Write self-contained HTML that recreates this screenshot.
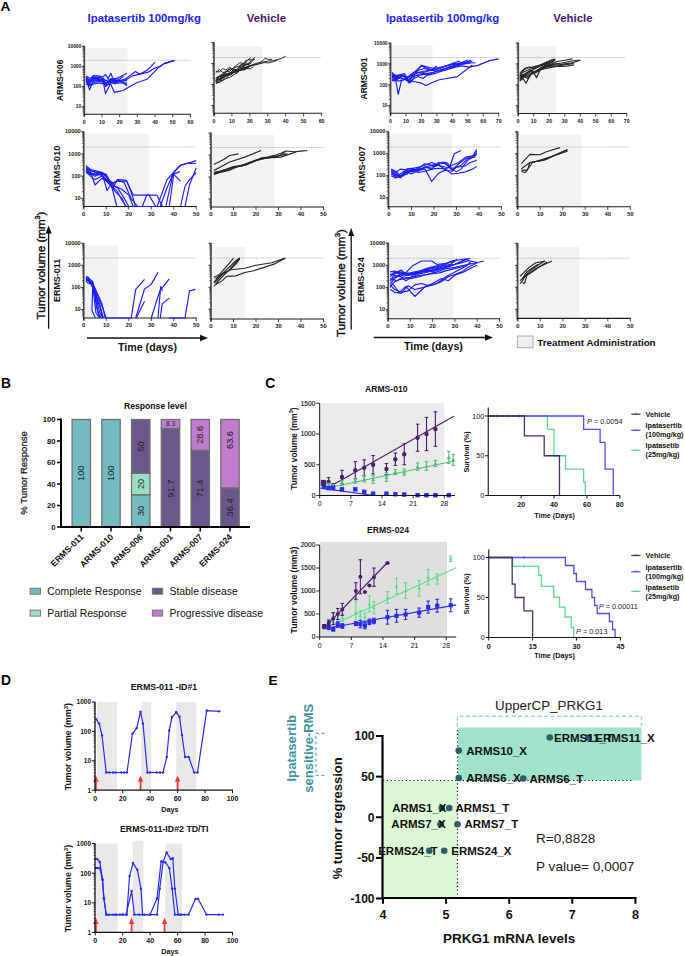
<!DOCTYPE html>
<html><head><meta charset="utf-8"><style>html,body{margin:0;padding:0;background:#fff;overflow:hidden}svg{display:block;font-family:"Liberation Sans",sans-serif}</style></head><body>
<svg width="685" height="956" viewBox="0 0 685 956" font-family="Liberation Sans, sans-serif">
<rect x="85.10" y="48.00" width="42.40" height="65.65" fill="#f2f2f2" />
<line x1="84.30" y1="60.25" x2="190.50" y2="60.25" stroke="#9a9a9a" stroke-width="0.6" stroke-dasharray="1.6,0.9"/>
<line x1="84.30" y1="45.95" x2="84.30" y2="116.45" stroke="#4a4a4a" stroke-width="1.7" />
<line x1="81.70" y1="46.25" x2="84.30" y2="46.25" stroke="#222" stroke-width="0.9" />
<text x="81.30" y="47.95" font-size="4.9" font-weight="bold" text-anchor="end" fill="#222" >10000</text>
<line x1="82.50" y1="60.35" x2="84.30" y2="60.35" stroke="#333" stroke-width="0.7" />
<line x1="82.50" y1="56.80" x2="84.30" y2="56.80" stroke="#333" stroke-width="0.7" />
<line x1="82.50" y1="54.28" x2="84.30" y2="54.28" stroke="#333" stroke-width="0.7" />
<line x1="82.50" y1="52.32" x2="84.30" y2="52.32" stroke="#333" stroke-width="0.7" />
<line x1="82.50" y1="50.72" x2="84.30" y2="50.72" stroke="#333" stroke-width="0.7" />
<line x1="82.50" y1="49.37" x2="84.30" y2="49.37" stroke="#333" stroke-width="0.7" />
<line x1="82.50" y1="48.20" x2="84.30" y2="48.20" stroke="#333" stroke-width="0.7" />
<line x1="82.50" y1="47.17" x2="84.30" y2="47.17" stroke="#333" stroke-width="0.7" />
<line x1="81.70" y1="66.42" x2="84.30" y2="66.42" stroke="#222" stroke-width="0.9" />
<text x="81.30" y="68.12" font-size="4.9" font-weight="bold" text-anchor="end" fill="#222" >1000</text>
<line x1="82.50" y1="80.52" x2="84.30" y2="80.52" stroke="#333" stroke-width="0.7" />
<line x1="82.50" y1="76.97" x2="84.30" y2="76.97" stroke="#333" stroke-width="0.7" />
<line x1="82.50" y1="74.45" x2="84.30" y2="74.45" stroke="#333" stroke-width="0.7" />
<line x1="82.50" y1="72.49" x2="84.30" y2="72.49" stroke="#333" stroke-width="0.7" />
<line x1="82.50" y1="70.89" x2="84.30" y2="70.89" stroke="#333" stroke-width="0.7" />
<line x1="82.50" y1="69.54" x2="84.30" y2="69.54" stroke="#333" stroke-width="0.7" />
<line x1="82.50" y1="68.37" x2="84.30" y2="68.37" stroke="#333" stroke-width="0.7" />
<line x1="82.50" y1="67.34" x2="84.30" y2="67.34" stroke="#333" stroke-width="0.7" />
<line x1="81.70" y1="86.59" x2="84.30" y2="86.59" stroke="#222" stroke-width="0.9" />
<text x="81.30" y="88.29" font-size="4.9" font-weight="bold" text-anchor="end" fill="#222" >100</text>
<line x1="82.50" y1="100.69" x2="84.30" y2="100.69" stroke="#333" stroke-width="0.7" />
<line x1="82.50" y1="97.14" x2="84.30" y2="97.14" stroke="#333" stroke-width="0.7" />
<line x1="82.50" y1="94.62" x2="84.30" y2="94.62" stroke="#333" stroke-width="0.7" />
<line x1="82.50" y1="92.66" x2="84.30" y2="92.66" stroke="#333" stroke-width="0.7" />
<line x1="82.50" y1="91.06" x2="84.30" y2="91.06" stroke="#333" stroke-width="0.7" />
<line x1="82.50" y1="89.71" x2="84.30" y2="89.71" stroke="#333" stroke-width="0.7" />
<line x1="82.50" y1="88.54" x2="84.30" y2="88.54" stroke="#333" stroke-width="0.7" />
<line x1="82.50" y1="87.51" x2="84.30" y2="87.51" stroke="#333" stroke-width="0.7" />
<line x1="81.70" y1="106.76" x2="84.30" y2="106.76" stroke="#222" stroke-width="0.9" />
<text x="81.30" y="108.46" font-size="4.9" font-weight="bold" text-anchor="end" fill="#222" >10</text>
<line x1="82.50" y1="112.83" x2="84.30" y2="112.83" stroke="#333" stroke-width="0.7" />
<line x1="82.50" y1="111.23" x2="84.30" y2="111.23" stroke="#333" stroke-width="0.7" />
<line x1="82.50" y1="109.88" x2="84.30" y2="109.88" stroke="#333" stroke-width="0.7" />
<line x1="82.50" y1="108.71" x2="84.30" y2="108.71" stroke="#333" stroke-width="0.7" />
<line x1="82.50" y1="107.68" x2="84.30" y2="107.68" stroke="#333" stroke-width="0.7" />
<line x1="83.70" y1="114.25" x2="190.85" y2="114.25" stroke="#1a1a1a" stroke-width="1.1" />
<line x1="84.25" y1="114.25" x2="84.25" y2="117.25" stroke="#1a1a1a" stroke-width="0.8" />
<text x="84.25" y="123.65" font-size="5.2" font-weight="bold" text-anchor="middle" fill="#222" >0</text>
<line x1="101.95" y1="114.25" x2="101.95" y2="117.25" stroke="#1a1a1a" stroke-width="0.8" />
<text x="101.95" y="123.65" font-size="5.2" font-weight="bold" text-anchor="middle" fill="#222" >10</text>
<line x1="119.65" y1="114.25" x2="119.65" y2="117.25" stroke="#1a1a1a" stroke-width="0.8" />
<text x="119.65" y="123.65" font-size="5.2" font-weight="bold" text-anchor="middle" fill="#222" >20</text>
<line x1="137.35" y1="114.25" x2="137.35" y2="117.25" stroke="#1a1a1a" stroke-width="0.8" />
<text x="137.35" y="123.65" font-size="5.2" font-weight="bold" text-anchor="middle" fill="#222" >30</text>
<line x1="155.05" y1="114.25" x2="155.05" y2="117.25" stroke="#1a1a1a" stroke-width="0.8" />
<text x="155.05" y="123.65" font-size="5.2" font-weight="bold" text-anchor="middle" fill="#222" >40</text>
<line x1="172.75" y1="114.25" x2="172.75" y2="117.25" stroke="#1a1a1a" stroke-width="0.8" />
<text x="172.75" y="123.65" font-size="5.2" font-weight="bold" text-anchor="middle" fill="#222" >50</text>
<line x1="190.45" y1="114.25" x2="190.45" y2="117.25" stroke="#1a1a1a" stroke-width="0.8" />
<text x="190.45" y="123.65" font-size="5.2" font-weight="bold" text-anchor="middle" fill="#222" >60</text>
<polyline points="86.02,76.97 89.56,80.52 93.10,75.62 98.41,75.87 102.84,76.97 105.49,74.67 108.14,78.56 110.80,73.22 114.34,81.94 119.65,80.97 127.08,84.64" fill="none" stroke="#1c1cfa" stroke-width="1.15" stroke-linejoin="round" />
<polyline points="86.02,78.56 89.56,89.84 93.10,81.44 98.41,80.52 102.84,79.68 105.49,93.58 110.80,83.04 114.34,80.52 119.65,80.09 127.08,85.76" fill="none" stroke="#1c1cfa" stroke-width="1.15" stroke-linejoin="round" />
<polyline points="86.02,81.44 89.56,84.29 93.10,78.56 98.41,78.22 102.84,80.52 105.49,83.04 111.51,81.20 119.65,76.97 127.08,73.22" fill="none" stroke="#1c1cfa" stroke-width="1.15" stroke-linejoin="round" />
<polyline points="86.02,83.83 89.56,85.76 93.10,83.04 98.41,81.44 102.84,81.94 105.49,84.99 110.80,84.29 114.34,92.32 122.84,90.50 136.11,82.92 147.44,78.92 159.65,66.42 164.96,63.35 174.52,60.35" fill="none" stroke="#1c1cfa" stroke-width="1.15" stroke-linejoin="round" />
<polyline points="86.02,79.68 89.56,82.47 93.10,80.52 98.41,79.29 102.84,80.09 105.49,86.59 110.80,81.94 114.34,81.44 119.65,80.52 124.78,79.41 135.58,71.50 139.65,74.23 147.44,70.06 155.05,62.19" fill="none" stroke="#1c1cfa" stroke-width="1.15" stroke-linejoin="round" />
<polyline points="86.02,77.57 89.56,81.44 93.10,76.97 98.41,77.57 102.84,78.56 105.49,83.64 110.80,80.52 114.34,82.47 119.65,81.94 124.78,80.52 132.57,75.87 147.44,72.40 155.05,68.05 160.36,66.42 163.90,63.66 174.52,60.35" fill="none" stroke="#1c1cfa" stroke-width="1.15" stroke-linejoin="round" />
<polyline points="86.02,82.47 89.56,84.99 93.10,84.29 98.41,83.04 102.84,83.64 105.49,80.52 110.80,82.47 114.34,83.64 119.65,83.04 127.08,83.04" fill="none" stroke="#1c1cfa" stroke-width="1.15" stroke-linejoin="round" />
<polyline points="86.02,80.52 89.56,83.04 93.10,79.68 98.41,80.52 102.84,81.44 105.49,85.76 110.80,78.56 114.34,80.52 119.65,81.44 127.08,80.52" fill="none" stroke="#1c1cfa" stroke-width="1.15" stroke-linejoin="round" />
<polyline points="86.02,75.87 89.56,78.22 93.10,77.57 98.41,76.97 102.84,78.22 105.49,80.52 110.80,79.68 114.34,78.56 119.65,79.29 123.19,76.13" fill="none" stroke="#1c1cfa" stroke-width="1.15" stroke-linejoin="round" />
<rect x="214.80" y="46.25" width="47.45" height="66.40" fill="#f2f2f2" />
<line x1="214.00" y1="57.50" x2="321.50" y2="57.50" stroke="#9a9a9a" stroke-width="0.6" stroke-dasharray="1.6,0.9"/>
<line x1="214.00" y1="42.20" x2="214.00" y2="115.45" stroke="#4a4a4a" stroke-width="1.7" />
<line x1="211.40" y1="42.50" x2="214.00" y2="42.50" stroke="#222" stroke-width="0.9" />
<line x1="212.20" y1="57.18" x2="214.00" y2="57.18" stroke="#333" stroke-width="0.7" />
<line x1="212.20" y1="53.48" x2="214.00" y2="53.48" stroke="#333" stroke-width="0.7" />
<line x1="212.20" y1="50.86" x2="214.00" y2="50.86" stroke="#333" stroke-width="0.7" />
<line x1="212.20" y1="48.82" x2="214.00" y2="48.82" stroke="#333" stroke-width="0.7" />
<line x1="212.20" y1="47.16" x2="214.00" y2="47.16" stroke="#333" stroke-width="0.7" />
<line x1="212.20" y1="45.75" x2="214.00" y2="45.75" stroke="#333" stroke-width="0.7" />
<line x1="212.20" y1="44.54" x2="214.00" y2="44.54" stroke="#333" stroke-width="0.7" />
<line x1="212.20" y1="43.46" x2="214.00" y2="43.46" stroke="#333" stroke-width="0.7" />
<line x1="211.40" y1="63.50" x2="214.00" y2="63.50" stroke="#222" stroke-width="0.9" />
<line x1="212.20" y1="78.18" x2="214.00" y2="78.18" stroke="#333" stroke-width="0.7" />
<line x1="212.20" y1="74.48" x2="214.00" y2="74.48" stroke="#333" stroke-width="0.7" />
<line x1="212.20" y1="71.86" x2="214.00" y2="71.86" stroke="#333" stroke-width="0.7" />
<line x1="212.20" y1="69.82" x2="214.00" y2="69.82" stroke="#333" stroke-width="0.7" />
<line x1="212.20" y1="68.16" x2="214.00" y2="68.16" stroke="#333" stroke-width="0.7" />
<line x1="212.20" y1="66.75" x2="214.00" y2="66.75" stroke="#333" stroke-width="0.7" />
<line x1="212.20" y1="65.54" x2="214.00" y2="65.54" stroke="#333" stroke-width="0.7" />
<line x1="212.20" y1="64.46" x2="214.00" y2="64.46" stroke="#333" stroke-width="0.7" />
<line x1="211.40" y1="84.50" x2="214.00" y2="84.50" stroke="#222" stroke-width="0.9" />
<line x1="212.20" y1="99.18" x2="214.00" y2="99.18" stroke="#333" stroke-width="0.7" />
<line x1="212.20" y1="95.48" x2="214.00" y2="95.48" stroke="#333" stroke-width="0.7" />
<line x1="212.20" y1="92.86" x2="214.00" y2="92.86" stroke="#333" stroke-width="0.7" />
<line x1="212.20" y1="90.82" x2="214.00" y2="90.82" stroke="#333" stroke-width="0.7" />
<line x1="212.20" y1="89.16" x2="214.00" y2="89.16" stroke="#333" stroke-width="0.7" />
<line x1="212.20" y1="87.75" x2="214.00" y2="87.75" stroke="#333" stroke-width="0.7" />
<line x1="212.20" y1="86.54" x2="214.00" y2="86.54" stroke="#333" stroke-width="0.7" />
<line x1="212.20" y1="85.46" x2="214.00" y2="85.46" stroke="#333" stroke-width="0.7" />
<line x1="211.40" y1="105.50" x2="214.00" y2="105.50" stroke="#222" stroke-width="0.9" />
<line x1="212.20" y1="111.82" x2="214.00" y2="111.82" stroke="#333" stroke-width="0.7" />
<line x1="212.20" y1="110.16" x2="214.00" y2="110.16" stroke="#333" stroke-width="0.7" />
<line x1="212.20" y1="108.75" x2="214.00" y2="108.75" stroke="#333" stroke-width="0.7" />
<line x1="212.20" y1="107.54" x2="214.00" y2="107.54" stroke="#333" stroke-width="0.7" />
<line x1="212.20" y1="106.46" x2="214.00" y2="106.46" stroke="#333" stroke-width="0.7" />
<line x1="213.40" y1="113.25" x2="321.92" y2="113.25" stroke="#1a1a1a" stroke-width="1.1" />
<line x1="214.00" y1="113.25" x2="214.00" y2="116.25" stroke="#1a1a1a" stroke-width="0.8" />
<text x="214.00" y="122.65" font-size="5.2" font-weight="bold" text-anchor="middle" fill="#222" >0</text>
<line x1="231.92" y1="113.25" x2="231.92" y2="116.25" stroke="#1a1a1a" stroke-width="0.8" />
<text x="231.92" y="122.65" font-size="5.2" font-weight="bold" text-anchor="middle" fill="#222" >10</text>
<line x1="249.84" y1="113.25" x2="249.84" y2="116.25" stroke="#1a1a1a" stroke-width="0.8" />
<text x="249.84" y="122.65" font-size="5.2" font-weight="bold" text-anchor="middle" fill="#222" >20</text>
<line x1="267.76" y1="113.25" x2="267.76" y2="116.25" stroke="#1a1a1a" stroke-width="0.8" />
<text x="267.76" y="122.65" font-size="5.2" font-weight="bold" text-anchor="middle" fill="#222" >30</text>
<line x1="285.68" y1="113.25" x2="285.68" y2="116.25" stroke="#1a1a1a" stroke-width="0.8" />
<text x="285.68" y="122.65" font-size="5.2" font-weight="bold" text-anchor="middle" fill="#222" >40</text>
<line x1="303.60" y1="113.25" x2="303.60" y2="116.25" stroke="#1a1a1a" stroke-width="0.8" />
<text x="303.60" y="122.65" font-size="5.2" font-weight="bold" text-anchor="middle" fill="#222" >50</text>
<line x1="321.52" y1="113.25" x2="321.52" y2="116.25" stroke="#1a1a1a" stroke-width="0.8" />
<text x="321.52" y="122.65" font-size="5.2" font-weight="bold" text-anchor="middle" fill="#222" >60</text>
<polyline points="215.79,77.89 219.26,76.05 222.73,73.86 226.20,71.49 229.67,71.35 233.14,67.85 236.61,65.30 240.08,62.55 243.54,63.79 247.01,60.82 250.48,57.92" fill="none" stroke="#262626" stroke-width="1.0" stroke-linejoin="round" />
<polyline points="215.79,82.67 219.53,82.53 223.27,75.93 227.01,73.75 230.74,72.93 234.48,70.85 238.22,70.71 241.96,69.11 245.69,64.48 249.43,64.39 253.17,60.10" fill="none" stroke="#262626" stroke-width="1.0" stroke-linejoin="round" />
<polyline points="215.79,81.35 219.27,79.85 222.74,78.30 226.22,74.78 229.69,74.60 233.17,72.38 236.64,71.36 240.12,68.95 243.59,68.23 247.07,66.37" fill="none" stroke="#262626" stroke-width="1.0" stroke-linejoin="round" />
<polyline points="215.79,80.19 219.37,76.53 222.96,75.06 226.54,74.78 230.12,73.09 233.70,70.73 237.28,69.66 240.86,64.36 244.45,63.96 248.03,59.81 251.61,59.85 255.19,57.24" fill="none" stroke="#262626" stroke-width="1.0" stroke-linejoin="round" />
<polyline points="215.79,71.20 219.23,72.12 222.66,68.47 226.10,70.09 229.53,67.32 232.97,69.60 236.40,70.69 239.84,67.70 243.27,66.60 246.70,68.54 250.14,68.97 253.57,66.64" fill="none" stroke="#262626" stroke-width="1.0" stroke-linejoin="round" />
<polyline points="215.79,79.47 219.34,79.42 222.89,77.01 226.44,75.86 229.99,74.24 233.54,69.01 237.09,70.06 240.63,66.48 244.18,65.18 247.73,64.55 251.28,60.23 254.83,59.49" fill="none" stroke="#262626" stroke-width="1.0" stroke-linejoin="round" />
<polyline points="215.79,82.14 219.35,80.84 222.91,80.15 226.47,78.22 230.03,73.33 233.59,72.44 237.15,73.09 240.71,68.75 244.27,70.20 247.83,67.70 251.39,65.55" fill="none" stroke="#262626" stroke-width="1.0" stroke-linejoin="round" />
<polyline points="215.79,72.57 219.35,69.62 222.91,72.52 226.46,71.62 230.02,68.56 233.58,69.92 237.14,69.39 240.69,69.73 244.25,68.97 247.81,66.01 251.37,65.70" fill="none" stroke="#262626" stroke-width="1.0" stroke-linejoin="round" />
<polyline points="215.79,80.65 219.31,79.12 222.82,75.03 226.33,75.47 229.85,73.30 233.36,70.20 236.87,71.61 240.39,69.99 243.90,64.75 247.42,63.42 250.93,63.14" fill="none" stroke="#262626" stroke-width="1.0" stroke-linejoin="round" />
<polyline points="215.79,80.57 219.20,76.21 222.62,77.32 226.03,71.52 229.44,69.51 232.85,68.48 236.27,66.99 239.68,66.14 243.09,64.12 246.50,59.66" fill="none" stroke="#262626" stroke-width="1.0" stroke-linejoin="round" />
<polyline points="215.79,80.80 219.58,78.02 223.36,78.23 227.14,75.43 230.92,74.95 234.71,71.90 238.49,70.86 242.27,70.00 246.06,68.68 249.84,66.25 253.42,64.35 257.01,64.65 260.59,62.23 265.25,58.40 268.75,59.49 272.24,59.21" fill="none" stroke="#262626" stroke-width="1.0" stroke-linejoin="round" />
<polyline points="215.79,78.18 220.05,76.45 224.30,74.13 228.56,73.15 232.82,72.41 237.07,69.22 241.33,69.44 245.58,68.33 249.84,65.54 254.62,65.15 259.40,63.74 264.18,62.63 268.66,62.90 273.14,61.77 277.62,60.11" fill="none" stroke="#262626" stroke-width="1.0" stroke-linejoin="round" />
<polyline points="215.79,83.63 220.50,81.57 225.20,78.66 229.90,77.37 234.61,74.39 239.31,70.66 244.02,68.04 248.72,66.46 253.42,64.46 258.20,62.86 262.98,62.01 267.76,61.11 272.24,60.76 276.72,59.78 281.20,58.57 285.68,56.10" fill="none" stroke="#262626" stroke-width="1.0" stroke-linejoin="round" />
<rect x="84.55" y="133.75" width="64.20" height="72.15" fill="#f2f2f2" />
<line x1="83.75" y1="147.00" x2="196.25" y2="147.00" stroke="#9a9a9a" stroke-width="0.6" stroke-dasharray="1.6,0.9"/>
<line x1="83.75" y1="131.45" x2="83.75" y2="208.70" stroke="#4a4a4a" stroke-width="1.7" />
<line x1="81.15" y1="131.75" x2="83.75" y2="131.75" stroke="#222" stroke-width="0.9" />
<text x="80.75" y="133.45" font-size="5.7" font-weight="bold" text-anchor="end" fill="#222" >10000</text>
<line x1="81.95" y1="147.27" x2="83.75" y2="147.27" stroke="#333" stroke-width="0.7" />
<line x1="81.95" y1="143.36" x2="83.75" y2="143.36" stroke="#333" stroke-width="0.7" />
<line x1="81.95" y1="140.58" x2="83.75" y2="140.58" stroke="#333" stroke-width="0.7" />
<line x1="81.95" y1="138.43" x2="83.75" y2="138.43" stroke="#333" stroke-width="0.7" />
<line x1="81.95" y1="136.68" x2="83.75" y2="136.68" stroke="#333" stroke-width="0.7" />
<line x1="81.95" y1="135.19" x2="83.75" y2="135.19" stroke="#333" stroke-width="0.7" />
<line x1="81.95" y1="133.90" x2="83.75" y2="133.90" stroke="#333" stroke-width="0.7" />
<line x1="81.95" y1="132.77" x2="83.75" y2="132.77" stroke="#333" stroke-width="0.7" />
<line x1="81.15" y1="153.95" x2="83.75" y2="153.95" stroke="#222" stroke-width="0.9" />
<text x="80.75" y="155.65" font-size="5.7" font-weight="bold" text-anchor="end" fill="#222" >1000</text>
<line x1="81.95" y1="169.47" x2="83.75" y2="169.47" stroke="#333" stroke-width="0.7" />
<line x1="81.95" y1="165.56" x2="83.75" y2="165.56" stroke="#333" stroke-width="0.7" />
<line x1="81.95" y1="162.78" x2="83.75" y2="162.78" stroke="#333" stroke-width="0.7" />
<line x1="81.95" y1="160.63" x2="83.75" y2="160.63" stroke="#333" stroke-width="0.7" />
<line x1="81.95" y1="158.88" x2="83.75" y2="158.88" stroke="#333" stroke-width="0.7" />
<line x1="81.95" y1="157.39" x2="83.75" y2="157.39" stroke="#333" stroke-width="0.7" />
<line x1="81.95" y1="156.10" x2="83.75" y2="156.10" stroke="#333" stroke-width="0.7" />
<line x1="81.95" y1="154.97" x2="83.75" y2="154.97" stroke="#333" stroke-width="0.7" />
<line x1="81.15" y1="176.15" x2="83.75" y2="176.15" stroke="#222" stroke-width="0.9" />
<text x="80.75" y="177.85" font-size="5.7" font-weight="bold" text-anchor="end" fill="#222" >100</text>
<line x1="81.95" y1="191.67" x2="83.75" y2="191.67" stroke="#333" stroke-width="0.7" />
<line x1="81.95" y1="187.76" x2="83.75" y2="187.76" stroke="#333" stroke-width="0.7" />
<line x1="81.95" y1="184.98" x2="83.75" y2="184.98" stroke="#333" stroke-width="0.7" />
<line x1="81.95" y1="182.83" x2="83.75" y2="182.83" stroke="#333" stroke-width="0.7" />
<line x1="81.95" y1="181.08" x2="83.75" y2="181.08" stroke="#333" stroke-width="0.7" />
<line x1="81.95" y1="179.59" x2="83.75" y2="179.59" stroke="#333" stroke-width="0.7" />
<line x1="81.95" y1="178.30" x2="83.75" y2="178.30" stroke="#333" stroke-width="0.7" />
<line x1="81.95" y1="177.17" x2="83.75" y2="177.17" stroke="#333" stroke-width="0.7" />
<line x1="81.15" y1="198.35" x2="83.75" y2="198.35" stroke="#222" stroke-width="0.9" />
<text x="80.75" y="200.05" font-size="5.7" font-weight="bold" text-anchor="end" fill="#222" >10</text>
<line x1="81.95" y1="205.03" x2="83.75" y2="205.03" stroke="#333" stroke-width="0.7" />
<line x1="81.95" y1="203.28" x2="83.75" y2="203.28" stroke="#333" stroke-width="0.7" />
<line x1="81.95" y1="201.79" x2="83.75" y2="201.79" stroke="#333" stroke-width="0.7" />
<line x1="81.95" y1="200.50" x2="83.75" y2="200.50" stroke="#333" stroke-width="0.7" />
<line x1="81.95" y1="199.37" x2="83.75" y2="199.37" stroke="#333" stroke-width="0.7" />
<line x1="83.15" y1="206.50" x2="196.65" y2="206.50" stroke="#1a1a1a" stroke-width="1.1" />
<line x1="83.75" y1="206.50" x2="83.75" y2="209.50" stroke="#1a1a1a" stroke-width="0.8" />
<text x="83.75" y="215.90" font-size="5.9" font-weight="bold" text-anchor="middle" fill="#222" >0</text>
<line x1="106.25" y1="206.50" x2="106.25" y2="209.50" stroke="#1a1a1a" stroke-width="0.8" />
<text x="106.25" y="215.90" font-size="5.9" font-weight="bold" text-anchor="middle" fill="#222" >10</text>
<line x1="128.75" y1="206.50" x2="128.75" y2="209.50" stroke="#1a1a1a" stroke-width="0.8" />
<text x="128.75" y="215.90" font-size="5.9" font-weight="bold" text-anchor="middle" fill="#222" >20</text>
<line x1="151.25" y1="206.50" x2="151.25" y2="209.50" stroke="#1a1a1a" stroke-width="0.8" />
<text x="151.25" y="215.90" font-size="5.9" font-weight="bold" text-anchor="middle" fill="#222" >30</text>
<line x1="173.75" y1="206.50" x2="173.75" y2="209.50" stroke="#1a1a1a" stroke-width="0.8" />
<text x="173.75" y="215.90" font-size="5.9" font-weight="bold" text-anchor="middle" fill="#222" >40</text>
<line x1="196.25" y1="206.50" x2="196.25" y2="209.50" stroke="#1a1a1a" stroke-width="0.8" />
<text x="196.25" y="215.90" font-size="5.9" font-weight="bold" text-anchor="middle" fill="#222" >50</text>
<polyline points="86.00,165.56 90.50,169.47 95.00,170.48 101.75,172.24 106.25,176.15 110.75,184.98 117.50,191.67 122.00,200.50 126.50,206.50" fill="none" stroke="#1c1cfa" stroke-width="1.15" stroke-linejoin="round" />
<polyline points="86.00,167.32 90.50,170.48 95.00,171.62 101.75,172.91 106.25,174.39 110.75,182.83 116.82,206.50" fill="none" stroke="#1c1cfa" stroke-width="1.15" stroke-linejoin="round" />
<polyline points="86.00,169.47 90.50,172.24 95.00,184.98 101.75,178.30 106.25,181.08 113.00,187.76 117.50,179.59 126.50,180.30 131.00,191.67 135.50,206.50" fill="none" stroke="#1c1cfa" stroke-width="1.15" stroke-linejoin="round" />
<polyline points="86.00,170.48 90.50,173.62 95.00,176.15 101.75,172.57 107.15,190.32 110.75,184.98 117.50,187.76 124.25,198.35 128.75,206.50" fill="none" stroke="#1c1cfa" stroke-width="1.15" stroke-linejoin="round" />
<polyline points="86.00,172.24 90.50,174.39 97.25,173.62 101.75,174.39 106.25,179.59 113.00,182.83 117.50,181.08 126.50,181.08 133.25,195.11 149.00,195.11 155.75,206.50" fill="none" stroke="#1c1cfa" stroke-width="1.15" stroke-linejoin="round" />
<polyline points="86.00,172.57 90.50,172.91 95.00,174.39 101.75,175.23 108.50,182.83 115.25,191.67 122.00,198.35 125.60,206.50" fill="none" stroke="#1c1cfa" stroke-width="1.15" stroke-linejoin="round" />
<polyline points="86.00,168.55 90.50,171.03 95.00,172.24 101.75,172.91 106.25,177.17 113.00,183.85 117.50,180.30 124.25,182.83 131.00,198.35 137.75,206.50" fill="none" stroke="#1c1cfa" stroke-width="1.15" stroke-linejoin="round" />
<polyline points="86.00,171.62 90.50,176.15 95.00,179.59 101.75,176.15 108.50,181.08 115.25,186.27 122.00,189.52 128.75,195.11 133.25,206.50 142.25,206.50 146.75,195.11 156.88,195.11 162.50,206.50" fill="none" stroke="#1c1cfa" stroke-width="1.15" stroke-linejoin="round" />
<polyline points="137.75,206.50 151.25,206.50 157.10,206.50 167.00,179.59 173.75,172.24 180.50,165.56 196.25,160.63" fill="none" stroke="#1c1cfa" stroke-width="1.15" stroke-linejoin="round" />
<polyline points="160.25,206.50 167.00,187.76 173.75,172.24 180.50,164.94 187.25,163.28 196.25,163.54" fill="none" stroke="#1c1cfa" stroke-width="1.15" stroke-linejoin="round" />
<polyline points="165.88,206.50 172.85,174.39 179.82,171.62" fill="none" stroke="#1c1cfa" stroke-width="1.15" stroke-linejoin="round" />
<polyline points="169.25,206.50 173.75,174.39 180.50,181.08" fill="none" stroke="#1c1cfa" stroke-width="1.15" stroke-linejoin="round" />
<polyline points="180.50,206.50 185.00,186.27 189.50,179.59 196.25,172.57" fill="none" stroke="#1c1cfa" stroke-width="1.15" stroke-linejoin="round" />
<polyline points="185.00,206.50 189.50,184.98 196.25,167.71" fill="none" stroke="#1c1cfa" stroke-width="1.15" stroke-linejoin="round" />
<rect x="211.80" y="135.00" width="62.95" height="71.40" fill="#f2f2f2" />
<line x1="211.00" y1="147.50" x2="323.50" y2="147.50" stroke="#9a9a9a" stroke-width="0.6" stroke-dasharray="1.6,0.9"/>
<line x1="211.00" y1="132.70" x2="211.00" y2="209.20" stroke="#4a4a4a" stroke-width="1.7" />
<line x1="208.40" y1="133.00" x2="211.00" y2="133.00" stroke="#222" stroke-width="0.9" />
<line x1="209.20" y1="148.38" x2="211.00" y2="148.38" stroke="#333" stroke-width="0.7" />
<line x1="209.20" y1="144.50" x2="211.00" y2="144.50" stroke="#333" stroke-width="0.7" />
<line x1="209.20" y1="141.75" x2="211.00" y2="141.75" stroke="#333" stroke-width="0.7" />
<line x1="209.20" y1="139.62" x2="211.00" y2="139.62" stroke="#333" stroke-width="0.7" />
<line x1="209.20" y1="137.88" x2="211.00" y2="137.88" stroke="#333" stroke-width="0.7" />
<line x1="209.20" y1="136.41" x2="211.00" y2="136.41" stroke="#333" stroke-width="0.7" />
<line x1="209.20" y1="135.13" x2="211.00" y2="135.13" stroke="#333" stroke-width="0.7" />
<line x1="209.20" y1="134.01" x2="211.00" y2="134.01" stroke="#333" stroke-width="0.7" />
<line x1="208.40" y1="155.00" x2="211.00" y2="155.00" stroke="#222" stroke-width="0.9" />
<line x1="209.20" y1="170.38" x2="211.00" y2="170.38" stroke="#333" stroke-width="0.7" />
<line x1="209.20" y1="166.50" x2="211.00" y2="166.50" stroke="#333" stroke-width="0.7" />
<line x1="209.20" y1="163.75" x2="211.00" y2="163.75" stroke="#333" stroke-width="0.7" />
<line x1="209.20" y1="161.62" x2="211.00" y2="161.62" stroke="#333" stroke-width="0.7" />
<line x1="209.20" y1="159.88" x2="211.00" y2="159.88" stroke="#333" stroke-width="0.7" />
<line x1="209.20" y1="158.41" x2="211.00" y2="158.41" stroke="#333" stroke-width="0.7" />
<line x1="209.20" y1="157.13" x2="211.00" y2="157.13" stroke="#333" stroke-width="0.7" />
<line x1="209.20" y1="156.01" x2="211.00" y2="156.01" stroke="#333" stroke-width="0.7" />
<line x1="208.40" y1="177.00" x2="211.00" y2="177.00" stroke="#222" stroke-width="0.9" />
<line x1="209.20" y1="192.38" x2="211.00" y2="192.38" stroke="#333" stroke-width="0.7" />
<line x1="209.20" y1="188.50" x2="211.00" y2="188.50" stroke="#333" stroke-width="0.7" />
<line x1="209.20" y1="185.75" x2="211.00" y2="185.75" stroke="#333" stroke-width="0.7" />
<line x1="209.20" y1="183.62" x2="211.00" y2="183.62" stroke="#333" stroke-width="0.7" />
<line x1="209.20" y1="181.88" x2="211.00" y2="181.88" stroke="#333" stroke-width="0.7" />
<line x1="209.20" y1="180.41" x2="211.00" y2="180.41" stroke="#333" stroke-width="0.7" />
<line x1="209.20" y1="179.13" x2="211.00" y2="179.13" stroke="#333" stroke-width="0.7" />
<line x1="209.20" y1="178.01" x2="211.00" y2="178.01" stroke="#333" stroke-width="0.7" />
<line x1="208.40" y1="199.00" x2="211.00" y2="199.00" stroke="#222" stroke-width="0.9" />
<line x1="209.20" y1="205.62" x2="211.00" y2="205.62" stroke="#333" stroke-width="0.7" />
<line x1="209.20" y1="203.88" x2="211.00" y2="203.88" stroke="#333" stroke-width="0.7" />
<line x1="209.20" y1="202.41" x2="211.00" y2="202.41" stroke="#333" stroke-width="0.7" />
<line x1="209.20" y1="201.13" x2="211.00" y2="201.13" stroke="#333" stroke-width="0.7" />
<line x1="209.20" y1="200.01" x2="211.00" y2="200.01" stroke="#333" stroke-width="0.7" />
<line x1="210.40" y1="207.00" x2="323.90" y2="207.00" stroke="#1a1a1a" stroke-width="1.1" />
<line x1="211.00" y1="207.00" x2="211.00" y2="210.00" stroke="#1a1a1a" stroke-width="0.8" />
<text x="211.00" y="216.40" font-size="5.9" font-weight="bold" text-anchor="middle" fill="#222" >0</text>
<line x1="233.50" y1="207.00" x2="233.50" y2="210.00" stroke="#1a1a1a" stroke-width="0.8" />
<text x="233.50" y="216.40" font-size="5.9" font-weight="bold" text-anchor="middle" fill="#222" >10</text>
<line x1="256.00" y1="207.00" x2="256.00" y2="210.00" stroke="#1a1a1a" stroke-width="0.8" />
<text x="256.00" y="216.40" font-size="5.9" font-weight="bold" text-anchor="middle" fill="#222" >20</text>
<line x1="278.50" y1="207.00" x2="278.50" y2="210.00" stroke="#1a1a1a" stroke-width="0.8" />
<text x="278.50" y="216.40" font-size="5.9" font-weight="bold" text-anchor="middle" fill="#222" >30</text>
<line x1="301.00" y1="207.00" x2="301.00" y2="210.00" stroke="#1a1a1a" stroke-width="0.8" />
<text x="301.00" y="216.40" font-size="5.9" font-weight="bold" text-anchor="middle" fill="#222" >40</text>
<line x1="323.50" y1="207.00" x2="323.50" y2="210.00" stroke="#1a1a1a" stroke-width="0.8" />
<text x="323.50" y="216.40" font-size="5.9" font-weight="bold" text-anchor="middle" fill="#222" >50</text>
<polyline points="213.93,164.42 223.60,159.48 229.68,155.49 238.45,153.92" fill="none" stroke="#262626" stroke-width="1.15" stroke-linejoin="round" />
<polyline points="213.93,170.52 229.68,162.01 244.75,157.13 260.95,150.51" fill="none" stroke="#262626" stroke-width="1.15" stroke-linejoin="round" />
<polyline points="213.93,173.00 222.25,170.87 231.25,167.87 238.00,166.50 246.10,165.03 253.75,161.62 260.95,158.01 267.25,157.13 276.02,155.00 280.75,153.26 285.93,151.00 294.25,151.79 301.00,151.13 307.30,150.51" fill="none" stroke="#262626" stroke-width="1.15" stroke-linejoin="round" />
<polyline points="213.93,173.79 220.00,171.93 226.75,169.91 233.50,167.16 242.50,165.89 249.25,162.63 258.25,159.88 265.00,158.41 271.75,157.13 278.50,156.01 285.25,152.49" fill="none" stroke="#262626" stroke-width="1.15" stroke-linejoin="round" />
<polyline points="213.93,172.22 220.00,171.38 226.75,169.04 233.50,166.50 240.25,165.59 247.00,163.75 253.75,160.71 262.75,158.41 271.75,157.75 280.75,157.13 289.75,154.09 296.50,151.79" fill="none" stroke="#262626" stroke-width="1.15" stroke-linejoin="round" />
<polyline points="213.93,174.49 220.00,172.51 229.00,170.38 235.75,167.51 244.75,164.24 253.75,161.25 262.75,158.68 271.75,156.90 280.75,155.49 287.50,153.66" fill="none" stroke="#262626" stroke-width="1.15" stroke-linejoin="round" />
<rect x="84.55" y="245.50" width="33.45" height="71.90" fill="#f2f2f2" />
<line x1="83.75" y1="258.00" x2="196.25" y2="258.00" stroke="#9a9a9a" stroke-width="0.6" stroke-dasharray="1.6,0.9"/>
<line x1="83.75" y1="242.95" x2="83.75" y2="320.20" stroke="#4a4a4a" stroke-width="1.7" />
<line x1="81.15" y1="243.25" x2="83.75" y2="243.25" stroke="#222" stroke-width="0.9" />
<text x="80.75" y="244.95" font-size="5.7" font-weight="bold" text-anchor="end" fill="#222" >10000</text>
<line x1="81.95" y1="258.70" x2="83.75" y2="258.70" stroke="#333" stroke-width="0.7" />
<line x1="81.95" y1="254.81" x2="83.75" y2="254.81" stroke="#333" stroke-width="0.7" />
<line x1="81.95" y1="252.04" x2="83.75" y2="252.04" stroke="#333" stroke-width="0.7" />
<line x1="81.95" y1="249.90" x2="83.75" y2="249.90" stroke="#333" stroke-width="0.7" />
<line x1="81.95" y1="248.15" x2="83.75" y2="248.15" stroke="#333" stroke-width="0.7" />
<line x1="81.95" y1="246.67" x2="83.75" y2="246.67" stroke="#333" stroke-width="0.7" />
<line x1="81.95" y1="245.39" x2="83.75" y2="245.39" stroke="#333" stroke-width="0.7" />
<line x1="81.95" y1="244.26" x2="83.75" y2="244.26" stroke="#333" stroke-width="0.7" />
<line x1="81.15" y1="265.35" x2="83.75" y2="265.35" stroke="#222" stroke-width="0.9" />
<text x="80.75" y="267.05" font-size="5.7" font-weight="bold" text-anchor="end" fill="#222" >1000</text>
<line x1="81.95" y1="280.80" x2="83.75" y2="280.80" stroke="#333" stroke-width="0.7" />
<line x1="81.95" y1="276.91" x2="83.75" y2="276.91" stroke="#333" stroke-width="0.7" />
<line x1="81.95" y1="274.14" x2="83.75" y2="274.14" stroke="#333" stroke-width="0.7" />
<line x1="81.95" y1="272.00" x2="83.75" y2="272.00" stroke="#333" stroke-width="0.7" />
<line x1="81.95" y1="270.25" x2="83.75" y2="270.25" stroke="#333" stroke-width="0.7" />
<line x1="81.95" y1="268.77" x2="83.75" y2="268.77" stroke="#333" stroke-width="0.7" />
<line x1="81.95" y1="267.49" x2="83.75" y2="267.49" stroke="#333" stroke-width="0.7" />
<line x1="81.95" y1="266.36" x2="83.75" y2="266.36" stroke="#333" stroke-width="0.7" />
<line x1="81.15" y1="287.45" x2="83.75" y2="287.45" stroke="#222" stroke-width="0.9" />
<text x="80.75" y="289.15" font-size="5.7" font-weight="bold" text-anchor="end" fill="#222" >100</text>
<line x1="81.95" y1="302.90" x2="83.75" y2="302.90" stroke="#333" stroke-width="0.7" />
<line x1="81.95" y1="299.01" x2="83.75" y2="299.01" stroke="#333" stroke-width="0.7" />
<line x1="81.95" y1="296.24" x2="83.75" y2="296.24" stroke="#333" stroke-width="0.7" />
<line x1="81.95" y1="294.10" x2="83.75" y2="294.10" stroke="#333" stroke-width="0.7" />
<line x1="81.95" y1="292.35" x2="83.75" y2="292.35" stroke="#333" stroke-width="0.7" />
<line x1="81.95" y1="290.87" x2="83.75" y2="290.87" stroke="#333" stroke-width="0.7" />
<line x1="81.95" y1="289.59" x2="83.75" y2="289.59" stroke="#333" stroke-width="0.7" />
<line x1="81.95" y1="288.46" x2="83.75" y2="288.46" stroke="#333" stroke-width="0.7" />
<line x1="81.15" y1="309.55" x2="83.75" y2="309.55" stroke="#222" stroke-width="0.9" />
<text x="80.75" y="311.25" font-size="5.7" font-weight="bold" text-anchor="end" fill="#222" >10</text>
<line x1="81.95" y1="316.20" x2="83.75" y2="316.20" stroke="#333" stroke-width="0.7" />
<line x1="81.95" y1="314.45" x2="83.75" y2="314.45" stroke="#333" stroke-width="0.7" />
<line x1="81.95" y1="312.97" x2="83.75" y2="312.97" stroke="#333" stroke-width="0.7" />
<line x1="81.95" y1="311.69" x2="83.75" y2="311.69" stroke="#333" stroke-width="0.7" />
<line x1="81.95" y1="310.56" x2="83.75" y2="310.56" stroke="#333" stroke-width="0.7" />
<line x1="83.15" y1="318.00" x2="196.65" y2="318.00" stroke="#1a1a1a" stroke-width="1.1" />
<line x1="83.75" y1="318.00" x2="83.75" y2="321.00" stroke="#1a1a1a" stroke-width="0.8" />
<text x="83.75" y="327.40" font-size="5.9" font-weight="bold" text-anchor="middle" fill="#222" >0</text>
<line x1="106.25" y1="318.00" x2="106.25" y2="321.00" stroke="#1a1a1a" stroke-width="0.8" />
<text x="106.25" y="327.40" font-size="5.9" font-weight="bold" text-anchor="middle" fill="#222" >10</text>
<line x1="128.75" y1="318.00" x2="128.75" y2="321.00" stroke="#1a1a1a" stroke-width="0.8" />
<text x="128.75" y="327.40" font-size="5.9" font-weight="bold" text-anchor="middle" fill="#222" >20</text>
<line x1="151.25" y1="318.00" x2="151.25" y2="321.00" stroke="#1a1a1a" stroke-width="0.8" />
<text x="151.25" y="327.40" font-size="5.9" font-weight="bold" text-anchor="middle" fill="#222" >30</text>
<line x1="173.75" y1="318.00" x2="173.75" y2="321.00" stroke="#1a1a1a" stroke-width="0.8" />
<text x="173.75" y="327.40" font-size="5.9" font-weight="bold" text-anchor="middle" fill="#222" >40</text>
<line x1="196.25" y1="318.00" x2="196.25" y2="321.00" stroke="#1a1a1a" stroke-width="0.8" />
<text x="196.25" y="327.40" font-size="5.9" font-weight="bold" text-anchor="middle" fill="#222" >50</text>
<polyline points="86.00,276.85 88.25,276.96 92.75,288.14 99.51,305.72 102.89,318.00" fill="none" stroke="#1c1cfa" stroke-width="1.15" stroke-linejoin="round" />
<polyline points="86.00,281.11 88.25,283.30 92.75,284.53 99.84,312.90 103.22,318.00" fill="none" stroke="#1c1cfa" stroke-width="1.15" stroke-linejoin="round" />
<polyline points="86.00,280.47 88.25,280.76 92.75,285.46 99.92,305.13 103.29,318.00" fill="none" stroke="#1c1cfa" stroke-width="1.15" stroke-linejoin="round" />
<polyline points="86.00,278.01 88.25,280.09 92.75,283.34 101.92,303.59 105.29,318.00" fill="none" stroke="#1c1cfa" stroke-width="1.15" stroke-linejoin="round" />
<polyline points="86.00,277.24 88.25,277.86 92.75,281.44 96.32,306.31 99.69,318.00" fill="none" stroke="#1c1cfa" stroke-width="1.15" stroke-linejoin="round" />
<polyline points="86.00,279.69 88.25,280.97 92.75,285.54 95.93,312.81 99.30,318.00" fill="none" stroke="#1c1cfa" stroke-width="1.15" stroke-linejoin="round" />
<polyline points="86.00,279.54 88.25,279.90 92.75,284.59 102.80,308.26 106.17,318.00" fill="none" stroke="#1c1cfa" stroke-width="1.15" stroke-linejoin="round" />
<polyline points="86.00,278.59 88.25,280.36 92.75,282.95 98.16,312.74 101.54,318.00" fill="none" stroke="#1c1cfa" stroke-width="1.15" stroke-linejoin="round" />
<polyline points="86.00,278.44 88.25,279.66 92.75,285.24 91.96,310.33 95.34,318.00" fill="none" stroke="#1c1cfa" stroke-width="1.15" stroke-linejoin="round" />
<polyline points="106.25,318.00 131.22,318.00 135.72,289.35 144.50,279.46" fill="none" stroke="#1c1cfa" stroke-width="1.15" stroke-linejoin="round" />
<polyline points="135.72,318.00 144.50,289.01 151.02,284.64 158.00,272.39" fill="none" stroke="#1c1cfa" stroke-width="1.15" stroke-linejoin="round" />
<polyline points="136.40,318.00 144.50,301.15" fill="none" stroke="#1c1cfa" stroke-width="1.15" stroke-linejoin="round" />
<polyline points="151.25,318.00 159.80,290.87 169.25,278.85" fill="none" stroke="#1c1cfa" stroke-width="1.15" stroke-linejoin="round" />
<polyline points="158.00,318.00 160.70,286.54 162.50,290.87" fill="none" stroke="#1c1cfa" stroke-width="1.15" stroke-linejoin="round" />
<polyline points="160.25,318.00 162.27,303.91 169.25,298.09" fill="none" stroke="#1c1cfa" stroke-width="1.15" stroke-linejoin="round" />
<polyline points="169.25,318.00 185.00,318.00 189.50,290.87 195.57,289.35" fill="none" stroke="#1c1cfa" stroke-width="1.15" stroke-linejoin="round" />
<rect x="211.80" y="247.00" width="32.95" height="71.40" fill="#f2f2f2" />
<line x1="211.00" y1="258.00" x2="323.50" y2="258.00" stroke="#9a9a9a" stroke-width="0.6" stroke-dasharray="1.6,0.9"/>
<line x1="211.00" y1="242.95" x2="211.00" y2="321.20" stroke="#4a4a4a" stroke-width="1.7" />
<line x1="208.40" y1="243.25" x2="211.00" y2="243.25" stroke="#222" stroke-width="0.9" />
<line x1="209.20" y1="258.63" x2="211.00" y2="258.63" stroke="#333" stroke-width="0.7" />
<line x1="209.20" y1="254.75" x2="211.00" y2="254.75" stroke="#333" stroke-width="0.7" />
<line x1="209.20" y1="252.00" x2="211.00" y2="252.00" stroke="#333" stroke-width="0.7" />
<line x1="209.20" y1="249.87" x2="211.00" y2="249.87" stroke="#333" stroke-width="0.7" />
<line x1="209.20" y1="248.13" x2="211.00" y2="248.13" stroke="#333" stroke-width="0.7" />
<line x1="209.20" y1="246.66" x2="211.00" y2="246.66" stroke="#333" stroke-width="0.7" />
<line x1="209.20" y1="245.38" x2="211.00" y2="245.38" stroke="#333" stroke-width="0.7" />
<line x1="209.20" y1="244.26" x2="211.00" y2="244.26" stroke="#333" stroke-width="0.7" />
<line x1="208.40" y1="265.25" x2="211.00" y2="265.25" stroke="#222" stroke-width="0.9" />
<line x1="209.20" y1="280.63" x2="211.00" y2="280.63" stroke="#333" stroke-width="0.7" />
<line x1="209.20" y1="276.75" x2="211.00" y2="276.75" stroke="#333" stroke-width="0.7" />
<line x1="209.20" y1="274.00" x2="211.00" y2="274.00" stroke="#333" stroke-width="0.7" />
<line x1="209.20" y1="271.87" x2="211.00" y2="271.87" stroke="#333" stroke-width="0.7" />
<line x1="209.20" y1="270.13" x2="211.00" y2="270.13" stroke="#333" stroke-width="0.7" />
<line x1="209.20" y1="268.66" x2="211.00" y2="268.66" stroke="#333" stroke-width="0.7" />
<line x1="209.20" y1="267.38" x2="211.00" y2="267.38" stroke="#333" stroke-width="0.7" />
<line x1="209.20" y1="266.26" x2="211.00" y2="266.26" stroke="#333" stroke-width="0.7" />
<line x1="208.40" y1="287.25" x2="211.00" y2="287.25" stroke="#222" stroke-width="0.9" />
<line x1="209.20" y1="302.63" x2="211.00" y2="302.63" stroke="#333" stroke-width="0.7" />
<line x1="209.20" y1="298.75" x2="211.00" y2="298.75" stroke="#333" stroke-width="0.7" />
<line x1="209.20" y1="296.00" x2="211.00" y2="296.00" stroke="#333" stroke-width="0.7" />
<line x1="209.20" y1="293.87" x2="211.00" y2="293.87" stroke="#333" stroke-width="0.7" />
<line x1="209.20" y1="292.13" x2="211.00" y2="292.13" stroke="#333" stroke-width="0.7" />
<line x1="209.20" y1="290.66" x2="211.00" y2="290.66" stroke="#333" stroke-width="0.7" />
<line x1="209.20" y1="289.38" x2="211.00" y2="289.38" stroke="#333" stroke-width="0.7" />
<line x1="209.20" y1="288.26" x2="211.00" y2="288.26" stroke="#333" stroke-width="0.7" />
<line x1="208.40" y1="309.25" x2="211.00" y2="309.25" stroke="#222" stroke-width="0.9" />
<line x1="209.20" y1="318.00" x2="211.00" y2="318.00" stroke="#333" stroke-width="0.7" />
<line x1="209.20" y1="315.87" x2="211.00" y2="315.87" stroke="#333" stroke-width="0.7" />
<line x1="209.20" y1="314.13" x2="211.00" y2="314.13" stroke="#333" stroke-width="0.7" />
<line x1="209.20" y1="312.66" x2="211.00" y2="312.66" stroke="#333" stroke-width="0.7" />
<line x1="209.20" y1="311.38" x2="211.00" y2="311.38" stroke="#333" stroke-width="0.7" />
<line x1="209.20" y1="310.26" x2="211.00" y2="310.26" stroke="#333" stroke-width="0.7" />
<line x1="210.40" y1="319.00" x2="323.90" y2="319.00" stroke="#1a1a1a" stroke-width="1.1" />
<line x1="211.00" y1="319.00" x2="211.00" y2="322.00" stroke="#1a1a1a" stroke-width="0.8" />
<text x="211.00" y="328.40" font-size="5.9" font-weight="bold" text-anchor="middle" fill="#222" >0</text>
<line x1="233.50" y1="319.00" x2="233.50" y2="322.00" stroke="#1a1a1a" stroke-width="0.8" />
<text x="233.50" y="328.40" font-size="5.9" font-weight="bold" text-anchor="middle" fill="#222" >10</text>
<line x1="256.00" y1="319.00" x2="256.00" y2="322.00" stroke="#1a1a1a" stroke-width="0.8" />
<text x="256.00" y="328.40" font-size="5.9" font-weight="bold" text-anchor="middle" fill="#222" >20</text>
<line x1="278.50" y1="319.00" x2="278.50" y2="322.00" stroke="#1a1a1a" stroke-width="0.8" />
<text x="278.50" y="328.40" font-size="5.9" font-weight="bold" text-anchor="middle" fill="#222" >30</text>
<line x1="301.00" y1="319.00" x2="301.00" y2="322.00" stroke="#1a1a1a" stroke-width="0.8" />
<text x="301.00" y="328.40" font-size="5.9" font-weight="bold" text-anchor="middle" fill="#222" >40</text>
<line x1="323.50" y1="319.00" x2="323.50" y2="322.00" stroke="#1a1a1a" stroke-width="0.8" />
<text x="323.50" y="328.40" font-size="5.9" font-weight="bold" text-anchor="middle" fill="#222" >50</text>
<polyline points="213.93,277.41 220.00,274.00 224.50,268.66 229.00,263.51 233.50,258.16" fill="none" stroke="#262626" stroke-width="1.15" stroke-linejoin="round" />
<polyline points="213.93,283.12 217.75,279.72 222.25,274.00 226.75,269.37 231.25,265.25 235.75,260.76 239.80,257.98" fill="none" stroke="#262626" stroke-width="1.15" stroke-linejoin="round" />
<polyline points="213.93,286.51 217.75,281.63 222.25,276.75 229.00,270.13 233.50,265.25 239.80,258.16" fill="none" stroke="#262626" stroke-width="1.15" stroke-linejoin="round" />
<polyline points="215.50,278.89 222.25,273.54 231.25,269.74 244.75,268.26 256.00,265.25 271.75,262.74 285.25,258.16" fill="none" stroke="#262626" stroke-width="1.15" stroke-linejoin="round" />
<polyline points="215.50,284.74 222.25,280.63 226.75,276.44 235.75,275.84 244.75,272.46 253.75,270.79 274.00,264.17 285.25,258.16" fill="none" stroke="#262626" stroke-width="1.15" stroke-linejoin="round" />
<polyline points="213.93,282.18 217.75,278.12 222.25,274.49 226.75,271.87 231.25,268.66 235.75,264.34 239.80,258.63" fill="none" stroke="#262626" stroke-width="1.15" stroke-linejoin="round" />
<rect x="391.40" y="45.00" width="41.10" height="67.65" fill="#f2f2f2" />
<line x1="390.60" y1="57.50" x2="498.50" y2="57.50" stroke="#9a9a9a" stroke-width="0.6" stroke-dasharray="1.6,0.9"/>
<line x1="390.60" y1="42.70" x2="390.60" y2="115.45" stroke="#4a4a4a" stroke-width="1.7" />
<line x1="388.00" y1="43.00" x2="390.60" y2="43.00" stroke="#222" stroke-width="0.9" />
<text x="387.60" y="44.70" font-size="4.9" font-weight="bold" text-anchor="end" fill="#222" >10000</text>
<line x1="388.80" y1="57.61" x2="390.60" y2="57.61" stroke="#333" stroke-width="0.7" />
<line x1="388.80" y1="53.93" x2="390.60" y2="53.93" stroke="#333" stroke-width="0.7" />
<line x1="388.80" y1="51.32" x2="390.60" y2="51.32" stroke="#333" stroke-width="0.7" />
<line x1="388.80" y1="49.29" x2="390.60" y2="49.29" stroke="#333" stroke-width="0.7" />
<line x1="388.80" y1="47.64" x2="390.60" y2="47.64" stroke="#333" stroke-width="0.7" />
<line x1="388.80" y1="46.24" x2="390.60" y2="46.24" stroke="#333" stroke-width="0.7" />
<line x1="388.80" y1="45.03" x2="390.60" y2="45.03" stroke="#333" stroke-width="0.7" />
<line x1="388.80" y1="43.96" x2="390.60" y2="43.96" stroke="#333" stroke-width="0.7" />
<line x1="388.00" y1="63.90" x2="390.60" y2="63.90" stroke="#222" stroke-width="0.9" />
<text x="387.60" y="65.60" font-size="4.9" font-weight="bold" text-anchor="end" fill="#222" >1000</text>
<line x1="388.80" y1="78.51" x2="390.60" y2="78.51" stroke="#333" stroke-width="0.7" />
<line x1="388.80" y1="74.83" x2="390.60" y2="74.83" stroke="#333" stroke-width="0.7" />
<line x1="388.80" y1="72.22" x2="390.60" y2="72.22" stroke="#333" stroke-width="0.7" />
<line x1="388.80" y1="70.19" x2="390.60" y2="70.19" stroke="#333" stroke-width="0.7" />
<line x1="388.80" y1="68.54" x2="390.60" y2="68.54" stroke="#333" stroke-width="0.7" />
<line x1="388.80" y1="67.14" x2="390.60" y2="67.14" stroke="#333" stroke-width="0.7" />
<line x1="388.80" y1="65.93" x2="390.60" y2="65.93" stroke="#333" stroke-width="0.7" />
<line x1="388.80" y1="64.86" x2="390.60" y2="64.86" stroke="#333" stroke-width="0.7" />
<line x1="388.00" y1="84.80" x2="390.60" y2="84.80" stroke="#222" stroke-width="0.9" />
<text x="387.60" y="86.50" font-size="4.9" font-weight="bold" text-anchor="end" fill="#222" >100</text>
<line x1="388.80" y1="99.41" x2="390.60" y2="99.41" stroke="#333" stroke-width="0.7" />
<line x1="388.80" y1="95.73" x2="390.60" y2="95.73" stroke="#333" stroke-width="0.7" />
<line x1="388.80" y1="93.12" x2="390.60" y2="93.12" stroke="#333" stroke-width="0.7" />
<line x1="388.80" y1="91.09" x2="390.60" y2="91.09" stroke="#333" stroke-width="0.7" />
<line x1="388.80" y1="89.44" x2="390.60" y2="89.44" stroke="#333" stroke-width="0.7" />
<line x1="388.80" y1="88.04" x2="390.60" y2="88.04" stroke="#333" stroke-width="0.7" />
<line x1="388.80" y1="86.83" x2="390.60" y2="86.83" stroke="#333" stroke-width="0.7" />
<line x1="388.80" y1="85.76" x2="390.60" y2="85.76" stroke="#333" stroke-width="0.7" />
<line x1="388.00" y1="105.70" x2="390.60" y2="105.70" stroke="#222" stroke-width="0.9" />
<text x="387.60" y="107.40" font-size="4.9" font-weight="bold" text-anchor="end" fill="#222" >10</text>
<line x1="388.80" y1="111.99" x2="390.60" y2="111.99" stroke="#333" stroke-width="0.7" />
<line x1="388.80" y1="110.34" x2="390.60" y2="110.34" stroke="#333" stroke-width="0.7" />
<line x1="388.80" y1="108.94" x2="390.60" y2="108.94" stroke="#333" stroke-width="0.7" />
<line x1="388.80" y1="107.73" x2="390.60" y2="107.73" stroke="#333" stroke-width="0.7" />
<line x1="388.80" y1="106.66" x2="390.60" y2="106.66" stroke="#333" stroke-width="0.7" />
<line x1="390.00" y1="113.25" x2="499.12" y2="113.25" stroke="#1a1a1a" stroke-width="1.1" />
<line x1="390.50" y1="113.25" x2="390.50" y2="116.25" stroke="#1a1a1a" stroke-width="0.8" />
<text x="390.50" y="122.65" font-size="5.2" font-weight="bold" text-anchor="middle" fill="#222" >0</text>
<line x1="405.96" y1="113.25" x2="405.96" y2="116.25" stroke="#1a1a1a" stroke-width="0.8" />
<text x="405.96" y="122.65" font-size="5.2" font-weight="bold" text-anchor="middle" fill="#222" >10</text>
<line x1="421.42" y1="113.25" x2="421.42" y2="116.25" stroke="#1a1a1a" stroke-width="0.8" />
<text x="421.42" y="122.65" font-size="5.2" font-weight="bold" text-anchor="middle" fill="#222" >20</text>
<line x1="436.88" y1="113.25" x2="436.88" y2="116.25" stroke="#1a1a1a" stroke-width="0.8" />
<text x="436.88" y="122.65" font-size="5.2" font-weight="bold" text-anchor="middle" fill="#222" >30</text>
<line x1="452.34" y1="113.25" x2="452.34" y2="116.25" stroke="#1a1a1a" stroke-width="0.8" />
<text x="452.34" y="122.65" font-size="5.2" font-weight="bold" text-anchor="middle" fill="#222" >40</text>
<line x1="467.80" y1="113.25" x2="467.80" y2="116.25" stroke="#1a1a1a" stroke-width="0.8" />
<text x="467.80" y="122.65" font-size="5.2" font-weight="bold" text-anchor="middle" fill="#222" >50</text>
<line x1="483.26" y1="113.25" x2="483.26" y2="116.25" stroke="#1a1a1a" stroke-width="0.8" />
<text x="483.26" y="122.65" font-size="5.2" font-weight="bold" text-anchor="middle" fill="#222" >60</text>
<line x1="498.72" y1="113.25" x2="498.72" y2="116.25" stroke="#1a1a1a" stroke-width="0.8" />
<text x="498.72" y="122.65" font-size="5.2" font-weight="bold" text-anchor="middle" fill="#222" >70</text>
<polyline points="392.05,74.83 395.14,76.48 398.23,94.33 401.32,81.12 405.96,78.51 410.60,74.83 416.78,70.19 421.42,65.38 427.60,67.14 433.79,68.54 441.52,67.14 449.25,64.86 455.43,62.25 460.07,61.04" fill="none" stroke="#1c1cfa" stroke-width="1.15" stroke-linejoin="round" />
<polyline points="392.05,72.45 395.14,76.48 398.23,78.51 402.87,74.83 405.96,76.48 410.60,78.51 415.24,72.22 421.42,65.93 427.60,68.54 433.79,70.19 439.97,68.54 446.16,65.93 452.34,63.90 460.07,63.03 467.80,60.10" fill="none" stroke="#1c1cfa" stroke-width="1.15" stroke-linejoin="round" />
<polyline points="392.05,78.51 395.14,79.46 398.23,76.48 402.87,78.51 407.51,81.12 412.14,76.48 418.33,74.83 424.51,72.22 430.70,70.19 436.88,65.93" fill="none" stroke="#1c1cfa" stroke-width="1.15" stroke-linejoin="round" />
<polyline points="392.05,81.12 395.14,78.51 399.78,74.83 404.41,76.48 409.05,83.15 413.69,78.51 418.33,76.48 422.97,78.51 427.60,74.83 433.79,72.22 439.97,70.19 446.16,68.54 452.34,67.14 460.07,64.86 467.80,62.25 472.44,61.04" fill="none" stroke="#1c1cfa" stroke-width="1.15" stroke-linejoin="round" />
<polyline points="392.05,76.48 395.14,74.83 399.78,78.51 404.41,79.46 409.05,76.48 413.69,74.83 418.33,70.19 424.51,68.54 430.70,70.19 436.88,71.15 444.61,68.54 452.34,65.93 458.52,63.90 466.25,62.25 470.89,60.10" fill="none" stroke="#1c1cfa" stroke-width="1.15" stroke-linejoin="round" />
<polyline points="392.05,79.46 395.14,81.12 398.23,78.51 402.87,75.45 405.96,78.51 410.60,81.12 415.24,81.75 421.42,83.15 426.06,85.46 432.24,82.42 438.43,79.98 446.16,78.51 456.98,76.85 467.80,68.54 472.44,64.86" fill="none" stroke="#1c1cfa" stroke-width="1.15" stroke-linejoin="round" />
<polyline points="392.05,73.43 395.14,75.45 399.78,74.83 404.41,73.43 409.05,81.12 413.69,74.83 418.33,72.22 422.97,73.43 429.15,74.83 435.33,73.43 441.52,71.15 447.70,69.33 455.43,67.14 461.62,65.93 469.04,67.14 477.85,65.38 489.44,60.65 498.72,58.92" fill="none" stroke="#1c1cfa" stroke-width="1.15" stroke-linejoin="round" />
<polyline points="392.05,77.64 396.68,76.48 401.32,74.83 405.96,78.51 410.60,82.42 415.24,75.45 421.42,74.83 427.60,73.43 433.79,72.22 441.52,70.19 449.25,67.14 456.98,64.86 464.71,63.90 470.89,63.03" fill="none" stroke="#1c1cfa" stroke-width="1.15" stroke-linejoin="round" />
<polyline points="392.05,75.78 395.14,78.51 398.23,81.12 402.87,79.98 409.05,76.48 415.24,73.43 421.42,71.77 429.15,70.19 436.88,68.54 446.16,65.93 455.43,63.90 464.71,62.25 475.53,63.03" fill="none" stroke="#1c1cfa" stroke-width="1.15" stroke-linejoin="round" />
<rect x="519.05" y="46.25" width="36.95" height="66.65" fill="#f2f2f2" />
<line x1="518.25" y1="57.50" x2="625.00" y2="57.50" stroke="#9a9a9a" stroke-width="0.6" stroke-dasharray="1.6,0.9"/>
<line x1="518.25" y1="42.70" x2="518.25" y2="115.70" stroke="#4a4a4a" stroke-width="1.7" />
<line x1="515.65" y1="43.00" x2="518.25" y2="43.00" stroke="#222" stroke-width="0.9" />
<line x1="516.45" y1="57.61" x2="518.25" y2="57.61" stroke="#333" stroke-width="0.7" />
<line x1="516.45" y1="53.93" x2="518.25" y2="53.93" stroke="#333" stroke-width="0.7" />
<line x1="516.45" y1="51.32" x2="518.25" y2="51.32" stroke="#333" stroke-width="0.7" />
<line x1="516.45" y1="49.29" x2="518.25" y2="49.29" stroke="#333" stroke-width="0.7" />
<line x1="516.45" y1="47.64" x2="518.25" y2="47.64" stroke="#333" stroke-width="0.7" />
<line x1="516.45" y1="46.24" x2="518.25" y2="46.24" stroke="#333" stroke-width="0.7" />
<line x1="516.45" y1="45.03" x2="518.25" y2="45.03" stroke="#333" stroke-width="0.7" />
<line x1="516.45" y1="43.96" x2="518.25" y2="43.96" stroke="#333" stroke-width="0.7" />
<line x1="515.65" y1="63.90" x2="518.25" y2="63.90" stroke="#222" stroke-width="0.9" />
<line x1="516.45" y1="78.51" x2="518.25" y2="78.51" stroke="#333" stroke-width="0.7" />
<line x1="516.45" y1="74.83" x2="518.25" y2="74.83" stroke="#333" stroke-width="0.7" />
<line x1="516.45" y1="72.22" x2="518.25" y2="72.22" stroke="#333" stroke-width="0.7" />
<line x1="516.45" y1="70.19" x2="518.25" y2="70.19" stroke="#333" stroke-width="0.7" />
<line x1="516.45" y1="68.54" x2="518.25" y2="68.54" stroke="#333" stroke-width="0.7" />
<line x1="516.45" y1="67.14" x2="518.25" y2="67.14" stroke="#333" stroke-width="0.7" />
<line x1="516.45" y1="65.93" x2="518.25" y2="65.93" stroke="#333" stroke-width="0.7" />
<line x1="516.45" y1="64.86" x2="518.25" y2="64.86" stroke="#333" stroke-width="0.7" />
<line x1="515.65" y1="84.80" x2="518.25" y2="84.80" stroke="#222" stroke-width="0.9" />
<line x1="516.45" y1="99.41" x2="518.25" y2="99.41" stroke="#333" stroke-width="0.7" />
<line x1="516.45" y1="95.73" x2="518.25" y2="95.73" stroke="#333" stroke-width="0.7" />
<line x1="516.45" y1="93.12" x2="518.25" y2="93.12" stroke="#333" stroke-width="0.7" />
<line x1="516.45" y1="91.09" x2="518.25" y2="91.09" stroke="#333" stroke-width="0.7" />
<line x1="516.45" y1="89.44" x2="518.25" y2="89.44" stroke="#333" stroke-width="0.7" />
<line x1="516.45" y1="88.04" x2="518.25" y2="88.04" stroke="#333" stroke-width="0.7" />
<line x1="516.45" y1="86.83" x2="518.25" y2="86.83" stroke="#333" stroke-width="0.7" />
<line x1="516.45" y1="85.76" x2="518.25" y2="85.76" stroke="#333" stroke-width="0.7" />
<line x1="515.65" y1="105.70" x2="518.25" y2="105.70" stroke="#222" stroke-width="0.9" />
<line x1="516.45" y1="111.99" x2="518.25" y2="111.99" stroke="#333" stroke-width="0.7" />
<line x1="516.45" y1="110.34" x2="518.25" y2="110.34" stroke="#333" stroke-width="0.7" />
<line x1="516.45" y1="108.94" x2="518.25" y2="108.94" stroke="#333" stroke-width="0.7" />
<line x1="516.45" y1="107.73" x2="518.25" y2="107.73" stroke="#333" stroke-width="0.7" />
<line x1="516.45" y1="106.66" x2="518.25" y2="106.66" stroke="#333" stroke-width="0.7" />
<line x1="517.65" y1="113.50" x2="627.15" y2="113.50" stroke="#1a1a1a" stroke-width="1.1" />
<line x1="518.25" y1="113.50" x2="518.25" y2="116.50" stroke="#1a1a1a" stroke-width="0.8" />
<text x="518.25" y="122.90" font-size="5.2" font-weight="bold" text-anchor="middle" fill="#222" >0</text>
<line x1="533.75" y1="113.50" x2="533.75" y2="116.50" stroke="#1a1a1a" stroke-width="0.8" />
<text x="533.75" y="122.90" font-size="5.2" font-weight="bold" text-anchor="middle" fill="#222" >10</text>
<line x1="549.25" y1="113.50" x2="549.25" y2="116.50" stroke="#1a1a1a" stroke-width="0.8" />
<text x="549.25" y="122.90" font-size="5.2" font-weight="bold" text-anchor="middle" fill="#222" >20</text>
<line x1="564.75" y1="113.50" x2="564.75" y2="116.50" stroke="#1a1a1a" stroke-width="0.8" />
<text x="564.75" y="122.90" font-size="5.2" font-weight="bold" text-anchor="middle" fill="#222" >30</text>
<line x1="580.25" y1="113.50" x2="580.25" y2="116.50" stroke="#1a1a1a" stroke-width="0.8" />
<text x="580.25" y="122.90" font-size="5.2" font-weight="bold" text-anchor="middle" fill="#222" >40</text>
<line x1="595.75" y1="113.50" x2="595.75" y2="116.50" stroke="#1a1a1a" stroke-width="0.8" />
<text x="595.75" y="122.90" font-size="5.2" font-weight="bold" text-anchor="middle" fill="#222" >50</text>
<line x1="611.25" y1="113.50" x2="611.25" y2="116.50" stroke="#1a1a1a" stroke-width="0.8" />
<text x="611.25" y="122.90" font-size="5.2" font-weight="bold" text-anchor="middle" fill="#222" >60</text>
<line x1="626.75" y1="113.50" x2="626.75" y2="116.50" stroke="#1a1a1a" stroke-width="0.8" />
<text x="626.75" y="122.90" font-size="5.2" font-weight="bold" text-anchor="middle" fill="#222" >70</text>
<polyline points="519.80,73.17 522.90,70.19 527.55,67.81 532.20,67.14 536.85,65.93 543.05,63.90 549.25,61.52 555.45,59.08" fill="none" stroke="#262626" stroke-width="1.15" stroke-linejoin="round" />
<polyline points="519.80,81.12 522.90,78.51 526.00,83.15 530.65,74.83 535.30,72.22 539.95,68.54 546.15,65.93 552.35,63.90 557.00,61.52 564.75,60.22 572.50,58.92" fill="none" stroke="#262626" stroke-width="1.15" stroke-linejoin="round" />
<polyline points="519.80,76.48 522.90,74.83 527.55,72.22 532.20,70.19 536.54,77.64 539.95,70.19 546.15,67.14 552.35,64.86 558.55,64.86 564.75,63.90 572.50,62.79 580.25,60.22" fill="none" stroke="#262626" stroke-width="1.15" stroke-linejoin="round" />
<polyline points="519.80,78.51 522.90,76.48 526.00,74.83 530.65,71.15 535.30,68.54 539.95,65.93 544.60,63.90 550.80,62.25 553.90,60.85" fill="none" stroke="#262626" stroke-width="1.15" stroke-linejoin="round" />
<polyline points="519.80,74.83 522.90,72.22 527.55,70.19 532.20,68.54 536.85,67.14 541.50,64.86 546.15,62.25 550.80,60.22 553.90,59.08" fill="none" stroke="#262626" stroke-width="1.15" stroke-linejoin="round" />
<polyline points="519.80,79.46 522.90,74.83 527.55,76.48 532.20,73.43 536.85,70.19 541.50,68.54 546.15,67.14 552.35,65.93 558.55,66.51 566.30,66.27 574.05,64.86" fill="none" stroke="#262626" stroke-width="1.15" stroke-linejoin="round" />
<polyline points="519.80,75.45 522.90,77.64 526.00,73.43 530.65,70.19 533.75,73.43 538.40,71.15 543.05,67.81 549.25,64.86 555.45,63.90 561.65,63.03 569.40,61.52 577.15,60.22 580.25,60.22" fill="none" stroke="#262626" stroke-width="1.15" stroke-linejoin="round" />
<polyline points="519.80,77.64 521.35,73.43 524.45,68.54 529.10,67.14 533.75,68.54 538.40,65.93 543.05,64.86 549.25,63.03 555.45,60.22" fill="none" stroke="#262626" stroke-width="1.15" stroke-linejoin="round" />
<polyline points="519.80,74.24 522.90,75.45 527.55,78.51 532.20,73.43 536.85,71.15 541.50,67.14 546.15,64.86 550.80,63.03 553.90,61.52" fill="none" stroke="#262626" stroke-width="1.15" stroke-linejoin="round" />
<polyline points="519.80,80.53 522.90,77.64 527.55,74.83 532.20,72.22 536.85,71.15 541.50,69.33 546.15,68.54 552.35,67.14 558.55,65.93 564.75,64.86 570.95,63.90 574.05,63.03" fill="none" stroke="#262626" stroke-width="1.15" stroke-linejoin="round" />
<rect x="389.30" y="133.75" width="62.70" height="72.40" fill="#f2f2f2" />
<line x1="388.50" y1="147.00" x2="500.75" y2="147.00" stroke="#9a9a9a" stroke-width="0.6" stroke-dasharray="1.6,0.9"/>
<line x1="388.50" y1="131.45" x2="388.50" y2="208.95" stroke="#4a4a4a" stroke-width="1.7" />
<line x1="385.90" y1="131.75" x2="388.50" y2="131.75" stroke="#222" stroke-width="0.9" />
<text x="385.50" y="133.45" font-size="5.7" font-weight="bold" text-anchor="end" fill="#222" >10000</text>
<line x1="386.70" y1="147.13" x2="388.50" y2="147.13" stroke="#333" stroke-width="0.7" />
<line x1="386.70" y1="143.25" x2="388.50" y2="143.25" stroke="#333" stroke-width="0.7" />
<line x1="386.70" y1="140.50" x2="388.50" y2="140.50" stroke="#333" stroke-width="0.7" />
<line x1="386.70" y1="138.37" x2="388.50" y2="138.37" stroke="#333" stroke-width="0.7" />
<line x1="386.70" y1="136.63" x2="388.50" y2="136.63" stroke="#333" stroke-width="0.7" />
<line x1="386.70" y1="135.16" x2="388.50" y2="135.16" stroke="#333" stroke-width="0.7" />
<line x1="386.70" y1="133.88" x2="388.50" y2="133.88" stroke="#333" stroke-width="0.7" />
<line x1="386.70" y1="132.76" x2="388.50" y2="132.76" stroke="#333" stroke-width="0.7" />
<line x1="385.90" y1="153.75" x2="388.50" y2="153.75" stroke="#222" stroke-width="0.9" />
<text x="385.50" y="155.45" font-size="5.7" font-weight="bold" text-anchor="end" fill="#222" >1000</text>
<line x1="386.70" y1="169.13" x2="388.50" y2="169.13" stroke="#333" stroke-width="0.7" />
<line x1="386.70" y1="165.25" x2="388.50" y2="165.25" stroke="#333" stroke-width="0.7" />
<line x1="386.70" y1="162.50" x2="388.50" y2="162.50" stroke="#333" stroke-width="0.7" />
<line x1="386.70" y1="160.37" x2="388.50" y2="160.37" stroke="#333" stroke-width="0.7" />
<line x1="386.70" y1="158.63" x2="388.50" y2="158.63" stroke="#333" stroke-width="0.7" />
<line x1="386.70" y1="157.16" x2="388.50" y2="157.16" stroke="#333" stroke-width="0.7" />
<line x1="386.70" y1="155.88" x2="388.50" y2="155.88" stroke="#333" stroke-width="0.7" />
<line x1="386.70" y1="154.76" x2="388.50" y2="154.76" stroke="#333" stroke-width="0.7" />
<line x1="385.90" y1="175.75" x2="388.50" y2="175.75" stroke="#222" stroke-width="0.9" />
<text x="385.50" y="177.45" font-size="5.7" font-weight="bold" text-anchor="end" fill="#222" >100</text>
<line x1="386.70" y1="191.13" x2="388.50" y2="191.13" stroke="#333" stroke-width="0.7" />
<line x1="386.70" y1="187.25" x2="388.50" y2="187.25" stroke="#333" stroke-width="0.7" />
<line x1="386.70" y1="184.50" x2="388.50" y2="184.50" stroke="#333" stroke-width="0.7" />
<line x1="386.70" y1="182.37" x2="388.50" y2="182.37" stroke="#333" stroke-width="0.7" />
<line x1="386.70" y1="180.63" x2="388.50" y2="180.63" stroke="#333" stroke-width="0.7" />
<line x1="386.70" y1="179.16" x2="388.50" y2="179.16" stroke="#333" stroke-width="0.7" />
<line x1="386.70" y1="177.88" x2="388.50" y2="177.88" stroke="#333" stroke-width="0.7" />
<line x1="386.70" y1="176.76" x2="388.50" y2="176.76" stroke="#333" stroke-width="0.7" />
<line x1="385.90" y1="197.75" x2="388.50" y2="197.75" stroke="#222" stroke-width="0.9" />
<text x="385.50" y="199.45" font-size="5.7" font-weight="bold" text-anchor="end" fill="#222" >10</text>
<line x1="386.70" y1="206.50" x2="388.50" y2="206.50" stroke="#333" stroke-width="0.7" />
<line x1="386.70" y1="204.37" x2="388.50" y2="204.37" stroke="#333" stroke-width="0.7" />
<line x1="386.70" y1="202.63" x2="388.50" y2="202.63" stroke="#333" stroke-width="0.7" />
<line x1="386.70" y1="201.16" x2="388.50" y2="201.16" stroke="#333" stroke-width="0.7" />
<line x1="386.70" y1="199.88" x2="388.50" y2="199.88" stroke="#333" stroke-width="0.7" />
<line x1="386.70" y1="198.76" x2="388.50" y2="198.76" stroke="#333" stroke-width="0.7" />
<line x1="387.90" y1="206.75" x2="501.90" y2="206.75" stroke="#1a1a1a" stroke-width="1.1" />
<line x1="389.00" y1="206.75" x2="389.00" y2="209.75" stroke="#1a1a1a" stroke-width="0.8" />
<text x="389.00" y="216.15" font-size="5.9" font-weight="bold" text-anchor="middle" fill="#222" >0</text>
<line x1="411.50" y1="206.75" x2="411.50" y2="209.75" stroke="#1a1a1a" stroke-width="0.8" />
<text x="411.50" y="216.15" font-size="5.9" font-weight="bold" text-anchor="middle" fill="#222" >10</text>
<line x1="434.00" y1="206.75" x2="434.00" y2="209.75" stroke="#1a1a1a" stroke-width="0.8" />
<text x="434.00" y="216.15" font-size="5.9" font-weight="bold" text-anchor="middle" fill="#222" >20</text>
<line x1="456.50" y1="206.75" x2="456.50" y2="209.75" stroke="#1a1a1a" stroke-width="0.8" />
<text x="456.50" y="216.15" font-size="5.9" font-weight="bold" text-anchor="middle" fill="#222" >30</text>
<line x1="479.00" y1="206.75" x2="479.00" y2="209.75" stroke="#1a1a1a" stroke-width="0.8" />
<text x="479.00" y="216.15" font-size="5.9" font-weight="bold" text-anchor="middle" fill="#222" >40</text>
<line x1="501.50" y1="206.75" x2="501.50" y2="209.75" stroke="#1a1a1a" stroke-width="0.8" />
<text x="501.50" y="216.15" font-size="5.9" font-weight="bold" text-anchor="middle" fill="#222" >50</text>
<polyline points="391.25,171.88 395.75,174.84 400.25,177.88 407.00,173.24 411.50,169.13 418.25,170.13 425.00,167.00 431.75,165.25 436.25,165.91 443.00,162.04 447.50,162.99 452.00,169.13 456.50,171.88 461.00,169.13 467.75,160.37 472.25,157.16 476.75,149.26" fill="none" stroke="#1c1cfa" stroke-width="1.15" stroke-linejoin="round" />
<polyline points="391.25,169.13 395.75,171.26 400.25,175.75 407.00,171.88 411.50,174.01 418.25,170.13 425.00,169.13 431.75,181.46 438.50,173.24 445.25,170.13 452.00,171.26 456.50,167.00 461.00,165.25 467.75,158.63 474.50,157.16 476.75,152.84" fill="none" stroke="#1c1cfa" stroke-width="1.15" stroke-linejoin="round" />
<polyline points="391.25,170.13 395.75,173.24 400.25,176.76 407.00,169.13 411.50,168.22 418.25,171.26 425.00,167.00 431.75,169.13 438.50,162.50 445.25,163.78 449.75,167.00 454.25,153.75 461.00,150.54" fill="none" stroke="#1c1cfa" stroke-width="1.15" stroke-linejoin="round" />
<polyline points="391.25,174.01 395.75,176.76 400.25,177.30 407.00,171.26 411.50,171.88 418.25,169.13 425.00,167.79 431.75,167.00 438.50,165.25 445.25,167.00 452.00,168.22 458.75,167.00 465.50,165.91 470.00,162.50 476.75,160.37" fill="none" stroke="#1c1cfa" stroke-width="1.15" stroke-linejoin="round" />
<polyline points="391.25,175.75 395.75,177.88 400.25,175.75 407.00,174.01 411.50,170.13 418.25,172.54 425.00,171.26 431.75,169.13 438.50,168.22 445.25,169.13 452.00,174.01 458.75,173.24 465.50,171.88 472.25,169.13 476.75,166.62" fill="none" stroke="#1c1cfa" stroke-width="1.15" stroke-linejoin="round" />
<polyline points="391.25,171.26 395.75,172.54 400.25,169.13 407.00,170.13 411.50,170.68 418.25,168.22 425.00,163.78 431.75,165.25 438.50,163.78 445.25,162.99 452.00,170.13 458.75,163.78 465.50,158.63 472.25,157.16 476.75,151.24" fill="none" stroke="#1c1cfa" stroke-width="1.15" stroke-linejoin="round" />
<polyline points="391.25,172.54 395.75,175.75 400.25,174.01 407.00,169.13 411.50,168.66 418.25,167.39 425.00,165.25 431.75,162.50 438.50,165.25 445.25,169.13 452.00,165.25 458.75,162.50 465.50,157.16 472.25,155.88 476.75,154.76" fill="none" stroke="#1c1cfa" stroke-width="1.15" stroke-linejoin="round" />
<rect x="518.40" y="134.50" width="63.35" height="71.65" fill="#f2f2f2" />
<line x1="517.60" y1="147.00" x2="628.75" y2="147.00" stroke="#9a9a9a" stroke-width="0.6" stroke-dasharray="1.6,0.9"/>
<line x1="517.60" y1="131.45" x2="517.60" y2="208.95" stroke="#4a4a4a" stroke-width="1.7" />
<line x1="515.00" y1="131.75" x2="517.60" y2="131.75" stroke="#222" stroke-width="0.9" />
<line x1="515.80" y1="147.13" x2="517.60" y2="147.13" stroke="#333" stroke-width="0.7" />
<line x1="515.80" y1="143.25" x2="517.60" y2="143.25" stroke="#333" stroke-width="0.7" />
<line x1="515.80" y1="140.50" x2="517.60" y2="140.50" stroke="#333" stroke-width="0.7" />
<line x1="515.80" y1="138.37" x2="517.60" y2="138.37" stroke="#333" stroke-width="0.7" />
<line x1="515.80" y1="136.63" x2="517.60" y2="136.63" stroke="#333" stroke-width="0.7" />
<line x1="515.80" y1="135.16" x2="517.60" y2="135.16" stroke="#333" stroke-width="0.7" />
<line x1="515.80" y1="133.88" x2="517.60" y2="133.88" stroke="#333" stroke-width="0.7" />
<line x1="515.80" y1="132.76" x2="517.60" y2="132.76" stroke="#333" stroke-width="0.7" />
<line x1="515.00" y1="153.75" x2="517.60" y2="153.75" stroke="#222" stroke-width="0.9" />
<line x1="515.80" y1="169.13" x2="517.60" y2="169.13" stroke="#333" stroke-width="0.7" />
<line x1="515.80" y1="165.25" x2="517.60" y2="165.25" stroke="#333" stroke-width="0.7" />
<line x1="515.80" y1="162.50" x2="517.60" y2="162.50" stroke="#333" stroke-width="0.7" />
<line x1="515.80" y1="160.37" x2="517.60" y2="160.37" stroke="#333" stroke-width="0.7" />
<line x1="515.80" y1="158.63" x2="517.60" y2="158.63" stroke="#333" stroke-width="0.7" />
<line x1="515.80" y1="157.16" x2="517.60" y2="157.16" stroke="#333" stroke-width="0.7" />
<line x1="515.80" y1="155.88" x2="517.60" y2="155.88" stroke="#333" stroke-width="0.7" />
<line x1="515.80" y1="154.76" x2="517.60" y2="154.76" stroke="#333" stroke-width="0.7" />
<line x1="515.00" y1="175.75" x2="517.60" y2="175.75" stroke="#222" stroke-width="0.9" />
<line x1="515.80" y1="191.13" x2="517.60" y2="191.13" stroke="#333" stroke-width="0.7" />
<line x1="515.80" y1="187.25" x2="517.60" y2="187.25" stroke="#333" stroke-width="0.7" />
<line x1="515.80" y1="184.50" x2="517.60" y2="184.50" stroke="#333" stroke-width="0.7" />
<line x1="515.80" y1="182.37" x2="517.60" y2="182.37" stroke="#333" stroke-width="0.7" />
<line x1="515.80" y1="180.63" x2="517.60" y2="180.63" stroke="#333" stroke-width="0.7" />
<line x1="515.80" y1="179.16" x2="517.60" y2="179.16" stroke="#333" stroke-width="0.7" />
<line x1="515.80" y1="177.88" x2="517.60" y2="177.88" stroke="#333" stroke-width="0.7" />
<line x1="515.80" y1="176.76" x2="517.60" y2="176.76" stroke="#333" stroke-width="0.7" />
<line x1="515.00" y1="197.75" x2="517.60" y2="197.75" stroke="#222" stroke-width="0.9" />
<line x1="515.80" y1="206.50" x2="517.60" y2="206.50" stroke="#333" stroke-width="0.7" />
<line x1="515.80" y1="204.37" x2="517.60" y2="204.37" stroke="#333" stroke-width="0.7" />
<line x1="515.80" y1="202.63" x2="517.60" y2="202.63" stroke="#333" stroke-width="0.7" />
<line x1="515.80" y1="201.16" x2="517.60" y2="201.16" stroke="#333" stroke-width="0.7" />
<line x1="515.80" y1="199.88" x2="517.60" y2="199.88" stroke="#333" stroke-width="0.7" />
<line x1="515.80" y1="198.76" x2="517.60" y2="198.76" stroke="#333" stroke-width="0.7" />
<line x1="517.00" y1="206.75" x2="630.65" y2="206.75" stroke="#1a1a1a" stroke-width="1.1" />
<line x1="517.75" y1="206.75" x2="517.75" y2="209.75" stroke="#1a1a1a" stroke-width="0.8" />
<text x="517.75" y="216.15" font-size="5.9" font-weight="bold" text-anchor="middle" fill="#222" >0</text>
<line x1="540.25" y1="206.75" x2="540.25" y2="209.75" stroke="#1a1a1a" stroke-width="0.8" />
<text x="540.25" y="216.15" font-size="5.9" font-weight="bold" text-anchor="middle" fill="#222" >10</text>
<line x1="562.75" y1="206.75" x2="562.75" y2="209.75" stroke="#1a1a1a" stroke-width="0.8" />
<text x="562.75" y="216.15" font-size="5.9" font-weight="bold" text-anchor="middle" fill="#222" >20</text>
<line x1="585.25" y1="206.75" x2="585.25" y2="209.75" stroke="#1a1a1a" stroke-width="0.8" />
<text x="585.25" y="216.15" font-size="5.9" font-weight="bold" text-anchor="middle" fill="#222" >30</text>
<line x1="607.75" y1="206.75" x2="607.75" y2="209.75" stroke="#1a1a1a" stroke-width="0.8" />
<text x="607.75" y="216.15" font-size="5.9" font-weight="bold" text-anchor="middle" fill="#222" >40</text>
<line x1="630.25" y1="206.75" x2="630.25" y2="209.75" stroke="#1a1a1a" stroke-width="0.8" />
<text x="630.25" y="216.15" font-size="5.9" font-weight="bold" text-anchor="middle" fill="#222" >50</text>
<polyline points="521.35,163.64 529.90,154.44 540.02,154.76 546.33,151.77 560.05,147.62" fill="none" stroke="#262626" stroke-width="1.15" stroke-linejoin="round" />
<polyline points="521.35,168.66 529.90,162.50 544.98,160.00 556.23,154.76 567.48,149.56" fill="none" stroke="#262626" stroke-width="1.15" stroke-linejoin="round" />
<polyline points="521.35,170.13 527.42,170.13 529.90,162.50 542.50,160.37 552.40,156.25 567.48,151.24" fill="none" stroke="#262626" stroke-width="1.15" stroke-linejoin="round" />
<polyline points="521.35,171.26 525.17,172.54 532.60,162.50 549.92,157.16 560.05,152.84 567.48,149.88" fill="none" stroke="#262626" stroke-width="1.15" stroke-linejoin="round" />
<rect x="389.05" y="245.00" width="64.20" height="73.15" fill="#f2f2f2" />
<line x1="388.25" y1="258.25" x2="499.50" y2="258.25" stroke="#9a9a9a" stroke-width="0.6" stroke-dasharray="1.6,0.9"/>
<line x1="388.25" y1="242.70" x2="388.25" y2="320.95" stroke="#4a4a4a" stroke-width="1.7" />
<line x1="385.65" y1="243.00" x2="388.25" y2="243.00" stroke="#222" stroke-width="0.9" />
<text x="385.25" y="244.70" font-size="5.7" font-weight="bold" text-anchor="end" fill="#222" >10000</text>
<line x1="386.45" y1="258.52" x2="388.25" y2="258.52" stroke="#333" stroke-width="0.7" />
<line x1="386.45" y1="254.61" x2="388.25" y2="254.61" stroke="#333" stroke-width="0.7" />
<line x1="386.45" y1="251.83" x2="388.25" y2="251.83" stroke="#333" stroke-width="0.7" />
<line x1="386.45" y1="249.68" x2="388.25" y2="249.68" stroke="#333" stroke-width="0.7" />
<line x1="386.45" y1="247.93" x2="388.25" y2="247.93" stroke="#333" stroke-width="0.7" />
<line x1="386.45" y1="246.44" x2="388.25" y2="246.44" stroke="#333" stroke-width="0.7" />
<line x1="386.45" y1="245.15" x2="388.25" y2="245.15" stroke="#333" stroke-width="0.7" />
<line x1="386.45" y1="244.02" x2="388.25" y2="244.02" stroke="#333" stroke-width="0.7" />
<line x1="385.65" y1="265.20" x2="388.25" y2="265.20" stroke="#222" stroke-width="0.9" />
<text x="385.25" y="266.90" font-size="5.7" font-weight="bold" text-anchor="end" fill="#222" >1000</text>
<line x1="386.45" y1="280.72" x2="388.25" y2="280.72" stroke="#333" stroke-width="0.7" />
<line x1="386.45" y1="276.81" x2="388.25" y2="276.81" stroke="#333" stroke-width="0.7" />
<line x1="386.45" y1="274.03" x2="388.25" y2="274.03" stroke="#333" stroke-width="0.7" />
<line x1="386.45" y1="271.88" x2="388.25" y2="271.88" stroke="#333" stroke-width="0.7" />
<line x1="386.45" y1="270.13" x2="388.25" y2="270.13" stroke="#333" stroke-width="0.7" />
<line x1="386.45" y1="268.64" x2="388.25" y2="268.64" stroke="#333" stroke-width="0.7" />
<line x1="386.45" y1="267.35" x2="388.25" y2="267.35" stroke="#333" stroke-width="0.7" />
<line x1="386.45" y1="266.22" x2="388.25" y2="266.22" stroke="#333" stroke-width="0.7" />
<line x1="385.65" y1="287.40" x2="388.25" y2="287.40" stroke="#222" stroke-width="0.9" />
<text x="385.25" y="289.10" font-size="5.7" font-weight="bold" text-anchor="end" fill="#222" >100</text>
<line x1="386.45" y1="302.92" x2="388.25" y2="302.92" stroke="#333" stroke-width="0.7" />
<line x1="386.45" y1="299.01" x2="388.25" y2="299.01" stroke="#333" stroke-width="0.7" />
<line x1="386.45" y1="296.23" x2="388.25" y2="296.23" stroke="#333" stroke-width="0.7" />
<line x1="386.45" y1="294.08" x2="388.25" y2="294.08" stroke="#333" stroke-width="0.7" />
<line x1="386.45" y1="292.33" x2="388.25" y2="292.33" stroke="#333" stroke-width="0.7" />
<line x1="386.45" y1="290.84" x2="388.25" y2="290.84" stroke="#333" stroke-width="0.7" />
<line x1="386.45" y1="289.55" x2="388.25" y2="289.55" stroke="#333" stroke-width="0.7" />
<line x1="386.45" y1="288.42" x2="388.25" y2="288.42" stroke="#333" stroke-width="0.7" />
<line x1="385.65" y1="309.60" x2="388.25" y2="309.60" stroke="#222" stroke-width="0.9" />
<text x="385.25" y="311.30" font-size="5.7" font-weight="bold" text-anchor="end" fill="#222" >10</text>
<line x1="386.45" y1="318.43" x2="388.25" y2="318.43" stroke="#333" stroke-width="0.7" />
<line x1="386.45" y1="316.28" x2="388.25" y2="316.28" stroke="#333" stroke-width="0.7" />
<line x1="386.45" y1="314.53" x2="388.25" y2="314.53" stroke="#333" stroke-width="0.7" />
<line x1="386.45" y1="313.04" x2="388.25" y2="313.04" stroke="#333" stroke-width="0.7" />
<line x1="386.45" y1="311.75" x2="388.25" y2="311.75" stroke="#333" stroke-width="0.7" />
<line x1="386.45" y1="310.62" x2="388.25" y2="310.62" stroke="#333" stroke-width="0.7" />
<line x1="387.65" y1="318.75" x2="499.90" y2="318.75" stroke="#1a1a1a" stroke-width="1.1" />
<line x1="388.00" y1="318.75" x2="388.00" y2="321.75" stroke="#1a1a1a" stroke-width="0.8" />
<text x="388.00" y="328.15" font-size="5.9" font-weight="bold" text-anchor="middle" fill="#222" >0</text>
<line x1="410.30" y1="318.75" x2="410.30" y2="321.75" stroke="#1a1a1a" stroke-width="0.8" />
<text x="410.30" y="328.15" font-size="5.9" font-weight="bold" text-anchor="middle" fill="#222" >10</text>
<line x1="432.60" y1="318.75" x2="432.60" y2="321.75" stroke="#1a1a1a" stroke-width="0.8" />
<text x="432.60" y="328.15" font-size="5.9" font-weight="bold" text-anchor="middle" fill="#222" >20</text>
<line x1="454.90" y1="318.75" x2="454.90" y2="321.75" stroke="#1a1a1a" stroke-width="0.8" />
<text x="454.90" y="328.15" font-size="5.9" font-weight="bold" text-anchor="middle" fill="#222" >30</text>
<line x1="477.20" y1="318.75" x2="477.20" y2="321.75" stroke="#1a1a1a" stroke-width="0.8" />
<text x="477.20" y="328.15" font-size="5.9" font-weight="bold" text-anchor="middle" fill="#222" >40</text>
<line x1="499.50" y1="318.75" x2="499.50" y2="321.75" stroke="#1a1a1a" stroke-width="0.8" />
<text x="499.50" y="328.15" font-size="5.9" font-weight="bold" text-anchor="middle" fill="#222" >50</text>
<polyline points="390.23,271.88 394.69,270.96 399.15,274.03 405.84,272.90 412.53,265.69 421.45,260.97 431.49,260.97 437.06,264.46 445.98,263.44 454.90,260.67 461.59,259.53 468.28,258.52" fill="none" stroke="#1c1cfa" stroke-width="1.15" stroke-linejoin="round" />
<polyline points="390.23,276.81 394.69,272.90 401.38,270.13 405.84,274.03 414.76,271.88 423.68,270.13 432.60,268.64 441.52,266.22 450.44,264.28 457.13,259.27" fill="none" stroke="#1c1cfa" stroke-width="1.15" stroke-linejoin="round" />
<polyline points="390.23,280.72 394.69,276.81 401.38,274.03 408.07,275.32 414.76,272.90 423.68,271.88 432.60,270.13 441.52,268.64 450.44,266.22 459.36,262.67 466.05,259.53 470.51,258.52" fill="none" stroke="#1c1cfa" stroke-width="1.15" stroke-linejoin="round" />
<polyline points="390.23,283.49 394.69,278.57 399.15,275.32 405.84,280.72 412.53,276.81 419.22,274.03 428.14,271.88 437.06,268.64 445.98,266.22 454.90,264.28 463.82,260.08 468.28,259.01" fill="none" stroke="#1c1cfa" stroke-width="1.15" stroke-linejoin="round" />
<polyline points="390.23,274.03 394.69,275.32 399.15,276.81 405.84,274.03 412.53,275.32 419.22,272.90 425.91,270.13 432.60,271.88 441.52,268.64 450.44,265.20 459.36,263.44 468.28,260.67 477.20,262.45" fill="none" stroke="#1c1cfa" stroke-width="1.15" stroke-linejoin="round" />
<polyline points="390.23,278.57 396.92,280.72 403.61,276.81 410.30,278.57 419.22,276.81 428.14,274.03 437.06,271.88 445.98,268.64 454.90,267.35 463.82,265.20 472.74,263.44 483.89,260.97" fill="none" stroke="#1c1cfa" stroke-width="1.15" stroke-linejoin="round" />
<polyline points="390.23,287.40 392.46,283.49 399.15,292.65 405.84,286.48 414.76,296.48 425.24,286.48 432.60,283.49 441.52,278.57 448.21,280.72 454.90,275.32 463.82,271.88 472.74,267.35 477.20,265.20" fill="none" stroke="#1c1cfa" stroke-width="1.15" stroke-linejoin="round" />
<polyline points="390.23,284.87 394.69,289.55 401.38,292.33 408.07,290.84 414.76,284.87 421.45,283.49 428.14,285.64 437.06,283.49 445.98,276.81 454.90,271.88 466.05,266.22 470.51,261.96" fill="none" stroke="#1c1cfa" stroke-width="1.15" stroke-linejoin="round" />
<polyline points="390.23,289.55 394.69,292.33 401.38,293.16 408.07,285.64 414.76,289.55 423.68,287.40 432.60,284.87 441.52,281.73 448.21,276.81 452.67,275.32 461.59,271.88 468.28,267.35 477.20,262.67" fill="none" stroke="#1c1cfa" stroke-width="1.15" stroke-linejoin="round" />
<polyline points="390.23,275.32 394.69,271.88 399.15,272.90 405.84,275.32 412.53,274.03 419.22,271.88 425.91,268.64 434.83,267.35 443.75,265.20 450.44,261.96 454.90,260.08" fill="none" stroke="#1c1cfa" stroke-width="1.15" stroke-linejoin="round" />
<polyline points="390.23,280.72 394.69,274.03 399.15,271.88 405.84,272.90 414.76,274.03 423.68,270.13 430.37,267.35 439.29,265.20 445.98,263.44 452.67,260.67" fill="none" stroke="#1c1cfa" stroke-width="1.15" stroke-linejoin="round" />
<polyline points="390.23,285.64 394.69,281.73 399.15,279.80 405.84,278.57 412.53,276.81 421.45,275.32 430.37,274.03 439.29,272.90 448.21,270.13 454.90,268.64 463.82,266.22 470.51,263.44" fill="none" stroke="#1c1cfa" stroke-width="1.15" stroke-linejoin="round" />
<rect x="518.40" y="247.00" width="61.20" height="70.80" fill="#f2f2f2" />
<line x1="517.60" y1="258.25" x2="629.00" y2="258.25" stroke="#9a9a9a" stroke-width="0.6" stroke-dasharray="1.6,0.9"/>
<line x1="517.60" y1="242.95" x2="517.60" y2="320.60" stroke="#4a4a4a" stroke-width="1.7" />
<line x1="515.00" y1="243.25" x2="517.60" y2="243.25" stroke="#222" stroke-width="0.9" />
<line x1="515.80" y1="258.63" x2="517.60" y2="258.63" stroke="#333" stroke-width="0.7" />
<line x1="515.80" y1="254.75" x2="517.60" y2="254.75" stroke="#333" stroke-width="0.7" />
<line x1="515.80" y1="252.00" x2="517.60" y2="252.00" stroke="#333" stroke-width="0.7" />
<line x1="515.80" y1="249.87" x2="517.60" y2="249.87" stroke="#333" stroke-width="0.7" />
<line x1="515.80" y1="248.13" x2="517.60" y2="248.13" stroke="#333" stroke-width="0.7" />
<line x1="515.80" y1="246.66" x2="517.60" y2="246.66" stroke="#333" stroke-width="0.7" />
<line x1="515.80" y1="245.38" x2="517.60" y2="245.38" stroke="#333" stroke-width="0.7" />
<line x1="515.80" y1="244.26" x2="517.60" y2="244.26" stroke="#333" stroke-width="0.7" />
<line x1="515.00" y1="265.25" x2="517.60" y2="265.25" stroke="#222" stroke-width="0.9" />
<line x1="515.80" y1="280.63" x2="517.60" y2="280.63" stroke="#333" stroke-width="0.7" />
<line x1="515.80" y1="276.75" x2="517.60" y2="276.75" stroke="#333" stroke-width="0.7" />
<line x1="515.80" y1="274.00" x2="517.60" y2="274.00" stroke="#333" stroke-width="0.7" />
<line x1="515.80" y1="271.87" x2="517.60" y2="271.87" stroke="#333" stroke-width="0.7" />
<line x1="515.80" y1="270.13" x2="517.60" y2="270.13" stroke="#333" stroke-width="0.7" />
<line x1="515.80" y1="268.66" x2="517.60" y2="268.66" stroke="#333" stroke-width="0.7" />
<line x1="515.80" y1="267.38" x2="517.60" y2="267.38" stroke="#333" stroke-width="0.7" />
<line x1="515.80" y1="266.26" x2="517.60" y2="266.26" stroke="#333" stroke-width="0.7" />
<line x1="515.00" y1="287.25" x2="517.60" y2="287.25" stroke="#222" stroke-width="0.9" />
<line x1="515.80" y1="302.63" x2="517.60" y2="302.63" stroke="#333" stroke-width="0.7" />
<line x1="515.80" y1="298.75" x2="517.60" y2="298.75" stroke="#333" stroke-width="0.7" />
<line x1="515.80" y1="296.00" x2="517.60" y2="296.00" stroke="#333" stroke-width="0.7" />
<line x1="515.80" y1="293.87" x2="517.60" y2="293.87" stroke="#333" stroke-width="0.7" />
<line x1="515.80" y1="292.13" x2="517.60" y2="292.13" stroke="#333" stroke-width="0.7" />
<line x1="515.80" y1="290.66" x2="517.60" y2="290.66" stroke="#333" stroke-width="0.7" />
<line x1="515.80" y1="289.38" x2="517.60" y2="289.38" stroke="#333" stroke-width="0.7" />
<line x1="515.80" y1="288.26" x2="517.60" y2="288.26" stroke="#333" stroke-width="0.7" />
<line x1="515.00" y1="309.25" x2="517.60" y2="309.25" stroke="#222" stroke-width="0.9" />
<line x1="515.80" y1="318.00" x2="517.60" y2="318.00" stroke="#333" stroke-width="0.7" />
<line x1="515.80" y1="315.87" x2="517.60" y2="315.87" stroke="#333" stroke-width="0.7" />
<line x1="515.80" y1="314.13" x2="517.60" y2="314.13" stroke="#333" stroke-width="0.7" />
<line x1="515.80" y1="312.66" x2="517.60" y2="312.66" stroke="#333" stroke-width="0.7" />
<line x1="515.80" y1="311.38" x2="517.60" y2="311.38" stroke="#333" stroke-width="0.7" />
<line x1="515.80" y1="310.26" x2="517.60" y2="310.26" stroke="#333" stroke-width="0.7" />
<line x1="517.00" y1="318.40" x2="630.70" y2="318.40" stroke="#1a1a1a" stroke-width="1.1" />
<line x1="517.80" y1="318.40" x2="517.80" y2="321.40" stroke="#1a1a1a" stroke-width="0.8" />
<text x="517.80" y="327.80" font-size="5.9" font-weight="bold" text-anchor="middle" fill="#222" >0</text>
<line x1="540.30" y1="318.40" x2="540.30" y2="321.40" stroke="#1a1a1a" stroke-width="0.8" />
<text x="540.30" y="327.80" font-size="5.9" font-weight="bold" text-anchor="middle" fill="#222" >10</text>
<line x1="562.80" y1="318.40" x2="562.80" y2="321.40" stroke="#1a1a1a" stroke-width="0.8" />
<text x="562.80" y="327.80" font-size="5.9" font-weight="bold" text-anchor="middle" fill="#222" >20</text>
<line x1="585.30" y1="318.40" x2="585.30" y2="321.40" stroke="#1a1a1a" stroke-width="0.8" />
<text x="585.30" y="327.80" font-size="5.9" font-weight="bold" text-anchor="middle" fill="#222" >30</text>
<line x1="607.80" y1="318.40" x2="607.80" y2="321.40" stroke="#1a1a1a" stroke-width="0.8" />
<text x="607.80" y="327.80" font-size="5.9" font-weight="bold" text-anchor="middle" fill="#222" >40</text>
<line x1="630.30" y1="318.40" x2="630.30" y2="321.40" stroke="#1a1a1a" stroke-width="0.8" />
<text x="630.30" y="327.80" font-size="5.9" font-weight="bold" text-anchor="middle" fill="#222" >50</text>
<polyline points="520.05,276.26 524.55,271.87 529.05,267.38 535.80,262.74 544.80,261.38" fill="none" stroke="#262626" stroke-width="1.15" stroke-linejoin="round" />
<polyline points="520.05,283.77 522.30,280.63 526.80,274.00 531.30,270.13 538.05,265.25 544.80,260.76" fill="none" stroke="#262626" stroke-width="1.15" stroke-linejoin="round" />
<polyline points="520.05,280.63 524.55,276.75 529.05,274.00 535.80,268.66 542.55,265.25 552.00,261.06" fill="none" stroke="#262626" stroke-width="1.15" stroke-linejoin="round" />
<polyline points="522.30,282.76 524.55,283.38 526.80,275.28 533.55,270.96 540.30,266.26 547.05,262.04" fill="none" stroke="#262626" stroke-width="1.15" stroke-linejoin="round" />
<polyline points="522.30,278.50 526.80,271.87 531.30,268.66 538.05,264.34" fill="none" stroke="#262626" stroke-width="1.15" stroke-linejoin="round" />
<text x="0.60" y="10.80" font-size="13.6" font-weight="bold" text-anchor="start" fill="#000" >A</text>
<text x="144.25" y="21.50" font-size="11.4" font-weight="bold" text-anchor="middle" fill="#1e1ef8" >Ipatasertib 100mg/kg</text>
<text x="266.40" y="21.50" font-size="11.4" font-weight="bold" text-anchor="middle" fill="#46186e" >Vehicle</text>
<text x="442.60" y="21.50" font-size="11.4" font-weight="bold" text-anchor="middle" fill="#1e1ef8" >Ipatasertib 100mg/kg</text>
<text x="572.90" y="21.50" font-size="11.4" font-weight="bold" text-anchor="middle" fill="#46186e" >Vehicle</text>
<text transform="translate(63.20,80.40) rotate(-90)" font-size="9.3" font-weight="bold" text-anchor="middle" fill="#111" textLength="41.4" lengthAdjust="spacingAndGlyphs">ARMS-006</text>
<text transform="translate(60.20,168.75) rotate(-90)" font-size="9.3" font-weight="bold" text-anchor="middle" fill="#111" textLength="46.5" lengthAdjust="spacingAndGlyphs">ARMS-010</text>
<text transform="translate(59.90,280.40) rotate(-90)" font-size="9.3" font-weight="bold" text-anchor="middle" fill="#111" textLength="43.2" lengthAdjust="spacingAndGlyphs">ERMS-011</text>
<text transform="translate(367.40,78.50) rotate(-90)" font-size="9.3" font-weight="bold" text-anchor="middle" fill="#111" textLength="42" lengthAdjust="spacingAndGlyphs">ARMS-001</text>
<text transform="translate(365.20,169.00) rotate(-90)" font-size="9.3" font-weight="bold" text-anchor="middle" fill="#111" textLength="46" lengthAdjust="spacingAndGlyphs">ARMS-007</text>
<text transform="translate(364.00,279.60) rotate(-90)" font-size="9.3" font-weight="bold" text-anchor="middle" fill="#111" textLength="44.8" lengthAdjust="spacingAndGlyphs">ERMS-024</text>
<line x1="48.60" y1="328.80" x2="48.60" y2="232.60" stroke="#111" stroke-width="1.3" />
<polygon points="45.60,233.60 51.60,233.60 48.60,225.60" fill="#111"/>
<text transform="translate(44.80,265.50) rotate(-90)" font-size="11.6" text-anchor="middle" fill="#111" stroke="#111" stroke-width="0.4">Tumor volume (mm<tspan font-size="7.2" dy="-5.3">3</tspan><tspan dy="5.3">)</tspan></text>
<line x1="351.20" y1="329.50" x2="351.20" y2="235.00" stroke="#111" stroke-width="1.3" />
<polygon points="348.20,236.00 354.20,236.00 351.20,228.00" fill="#111"/>
<text transform="translate(345.20,283.00) rotate(-90)" font-size="11.6" text-anchor="middle" fill="#111" stroke="#111" stroke-width="0.4">Tumor volume (mm<tspan font-size="7.2" dy="-5.3">3</tspan><tspan dy="5.3">)</tspan></text>
<line x1="87.00" y1="338.00" x2="201.00" y2="338.00" stroke="#111" stroke-width="1.3" />
<polygon points="200.00,334.80 200.00,341.20 208.00,338.00" fill="#111"/>
<text x="147.50" y="351.00" font-size="10.65" font-weight="bold" text-anchor="middle" fill="#111" >Time (days)</text>
<line x1="373.75" y1="337.50" x2="486.00" y2="337.50" stroke="#111" stroke-width="1.3" />
<polygon points="485.00,334.30 485.00,340.70 493.00,337.50" fill="#111"/>
<text x="433.40" y="350.00" font-size="10.65" font-weight="bold" text-anchor="middle" fill="#111" >Time (days)</text>
<rect x="517.30" y="336.00" width="15.70" height="11.80" fill="#eeeeee" stroke="#9a9a9a" stroke-width="0.8"/>
<text x="537.30" y="345.90" font-size="9.8" font-weight="bold" text-anchor="start" fill="#111" >Treatment Administration</text>
<text x="1.00" y="387.50" font-size="13.8" font-weight="bold" text-anchor="start" fill="#000" >B</text>
<rect x="72.05" y="419.50" width="18.40" height="107.50" fill="#74bbc3" stroke="#6f6f6f" stroke-width="1.3"/>
<text transform="translate(84.45,473.25) rotate(-90)" font-size="9.2" text-anchor="middle" fill="#222" >100</text>
<line x1="81.25" y1="527.00" x2="81.25" y2="531.50" stroke="#000" stroke-width="1.5" />
<text transform="translate(84.05,537.50) rotate(-45)" font-size="8.7" font-weight="bold" text-anchor="end" fill="#111" >ERMS-011</text>
<rect x="101.80" y="419.50" width="18.40" height="107.50" fill="#74bbc3" stroke="#6f6f6f" stroke-width="1.3"/>
<text transform="translate(114.20,473.25) rotate(-90)" font-size="9.2" text-anchor="middle" fill="#222" >100</text>
<line x1="111.00" y1="527.00" x2="111.00" y2="531.50" stroke="#000" stroke-width="1.5" />
<text transform="translate(113.80,537.50) rotate(-45)" font-size="8.7" font-weight="bold" text-anchor="end" fill="#111" >ARMS-010</text>
<rect x="131.55" y="494.75" width="18.40" height="32.25" fill="#74bbc3" stroke="#6f6f6f" stroke-width="1.3"/>
<text transform="translate(143.95,510.88) rotate(-90)" font-size="9.2" text-anchor="middle" fill="#222" >30</text>
<rect x="131.55" y="473.25" width="18.40" height="21.50" fill="#9bdfc3" stroke="#6f6f6f" stroke-width="1.3"/>
<text transform="translate(143.95,484.00) rotate(-90)" font-size="9.2" text-anchor="middle" fill="#222" >20</text>
<rect x="131.55" y="419.50" width="18.40" height="53.75" fill="#6a588d" stroke="#6f6f6f" stroke-width="1.3"/>
<text transform="translate(143.95,446.38) rotate(-90)" font-size="9.2" text-anchor="middle" fill="#222" >50</text>
<line x1="140.75" y1="527.00" x2="140.75" y2="531.50" stroke="#000" stroke-width="1.5" />
<text transform="translate(143.55,537.50) rotate(-45)" font-size="8.7" font-weight="bold" text-anchor="end" fill="#111" >ARMS-006</text>
<rect x="161.30" y="428.42" width="18.40" height="98.58" fill="#6a588d" stroke="#6f6f6f" stroke-width="1.3"/>
<text transform="translate(173.70,488.70) rotate(-90)" font-size="9.2" text-anchor="middle" fill="#222" >91.7</text>
<rect x="161.30" y="419.50" width="18.40" height="8.92" fill="#c07ccd" stroke="#6f6f6f" stroke-width="1.3"/>
<text x="170.50" y="426.26" font-size="6.5" text-anchor="middle" fill="#222" >8.3</text>
<line x1="170.50" y1="527.00" x2="170.50" y2="531.50" stroke="#000" stroke-width="1.5" />
<text transform="translate(173.30,537.50) rotate(-45)" font-size="8.7" font-weight="bold" text-anchor="end" fill="#111" >ARMS-001</text>
<rect x="191.05" y="450.25" width="18.40" height="76.75" fill="#6a588d" stroke="#6f6f6f" stroke-width="1.3"/>
<text transform="translate(203.45,488.62) rotate(-90)" font-size="9.2" text-anchor="middle" fill="#222" >71.4</text>
<rect x="191.05" y="419.50" width="18.40" height="30.75" fill="#c07ccd" stroke="#6f6f6f" stroke-width="1.3"/>
<text transform="translate(203.45,434.87) rotate(-90)" font-size="9.2" text-anchor="middle" fill="#222" >28.6</text>
<line x1="200.25" y1="527.00" x2="200.25" y2="531.50" stroke="#000" stroke-width="1.5" />
<text transform="translate(203.05,537.50) rotate(-45)" font-size="8.7" font-weight="bold" text-anchor="end" fill="#111" >ARMS-007</text>
<rect x="220.80" y="487.87" width="18.40" height="39.13" fill="#6a588d" stroke="#6f6f6f" stroke-width="1.3"/>
<text transform="translate(233.20,507.44) rotate(-90)" font-size="9.2" text-anchor="middle" fill="#222" >36.4</text>
<rect x="220.80" y="419.50" width="18.40" height="68.37" fill="#c07ccd" stroke="#6f6f6f" stroke-width="1.3"/>
<text transform="translate(233.20,440.00) rotate(-90)" font-size="9.2" text-anchor="middle" fill="#222" >63.6</text>
<line x1="230.00" y1="527.00" x2="230.00" y2="531.50" stroke="#000" stroke-width="1.5" />
<text transform="translate(232.80,537.50) rotate(-45)" font-size="8.7" font-weight="bold" text-anchor="end" fill="#111" >ERMS-024</text>
<line x1="61.00" y1="418.50" x2="61.00" y2="528.00" stroke="#000" stroke-width="2" />
<line x1="60.00" y1="527.00" x2="250.00" y2="527.00" stroke="#000" stroke-width="2" />
<line x1="57.00" y1="527.00" x2="61.00" y2="527.00" stroke="#000" stroke-width="1.5" />
<text x="55.50" y="529.70" font-size="7.6" font-weight="bold" text-anchor="end" fill="#111" >0</text>
<line x1="57.00" y1="505.50" x2="61.00" y2="505.50" stroke="#000" stroke-width="1.5" />
<text x="55.50" y="508.20" font-size="7.6" font-weight="bold" text-anchor="end" fill="#111" >20</text>
<line x1="57.00" y1="484.00" x2="61.00" y2="484.00" stroke="#000" stroke-width="1.5" />
<text x="55.50" y="486.70" font-size="7.6" font-weight="bold" text-anchor="end" fill="#111" >40</text>
<line x1="57.00" y1="462.50" x2="61.00" y2="462.50" stroke="#000" stroke-width="1.5" />
<text x="55.50" y="465.20" font-size="7.6" font-weight="bold" text-anchor="end" fill="#111" >60</text>
<line x1="57.00" y1="441.00" x2="61.00" y2="441.00" stroke="#000" stroke-width="1.5" />
<text x="55.50" y="443.70" font-size="7.6" font-weight="bold" text-anchor="end" fill="#111" >80</text>
<line x1="57.00" y1="419.50" x2="61.00" y2="419.50" stroke="#000" stroke-width="1.5" />
<text x="55.50" y="422.20" font-size="7.6" font-weight="bold" text-anchor="end" fill="#111" >100</text>
<text transform="translate(27.00,473.00) rotate(-90)" font-size="9.5" text-anchor="middle" fill="#111" stroke="#111" stroke-width="0.25">% Tumor Response</text>
<text x="155.40" y="408.70" font-size="8.65" font-weight="bold" text-anchor="middle" fill="#111" >Response level</text>
<rect x="30.10" y="588.20" width="10.40" height="6.00" fill="#74bbc3" stroke="#6f6f6f" stroke-width="0.9"/>
<text x="47.30" y="594.60" font-size="10.4" text-anchor="start" fill="#111" >Complete Response</text>
<rect x="30.10" y="610.10" width="10.40" height="6.00" fill="#9bdfc3" stroke="#6f6f6f" stroke-width="0.9"/>
<text x="47.30" y="616.50" font-size="10.4" text-anchor="start" fill="#111" >Partial Response</text>
<rect x="152.30" y="588.20" width="10.40" height="6.00" fill="#6a588d" stroke="#6f6f6f" stroke-width="0.9"/>
<text x="169.50" y="594.60" font-size="10.4" text-anchor="start" fill="#111" >Stable disease</text>
<rect x="152.30" y="610.10" width="10.40" height="6.00" fill="#c07ccd" stroke="#6f6f6f" stroke-width="0.9"/>
<text x="169.50" y="616.50" font-size="10.4" text-anchor="start" fill="#111" >Progressive disease</text>
<text x="265.20" y="387.50" font-size="13.8" font-weight="bold" text-anchor="start" fill="#000" >C</text>
<rect x="320.40" y="403.25" width="123.85" height="92.00" fill="#eaeaea" />
<polyline points="331.27,485.66 453.80,416.20" fill="none" stroke="#4a1f6d" stroke-width="1.1" stroke-linejoin="round" />
<polyline points="331.27,487.20 453.80,461.06" fill="none" stroke="#4cbf78" stroke-width="1.1" stroke-linejoin="round" />
<polyline points="320.59,488.12 372.21,495.19" fill="none" stroke="#2a2ae8" stroke-width="1.1" stroke-linejoin="round" />
<line x1="324.15" y1="483.20" x2="324.15" y2="483.20" stroke="#4a1f6d" stroke-width="1.1" />
<line x1="322.35" y1="483.20" x2="325.95" y2="483.20" stroke="#4a1f6d" stroke-width="1.1" />
<line x1="322.35" y1="483.20" x2="325.95" y2="483.20" stroke="#4a1f6d" stroke-width="1.1" />
<circle cx="324.15" cy="483.20" r="2.2" fill="#4a1f6d"/>
<line x1="328.60" y1="477.67" x2="328.60" y2="486.28" stroke="#4a1f6d" stroke-width="1.1" />
<line x1="326.80" y1="477.67" x2="330.40" y2="477.67" stroke="#4a1f6d" stroke-width="1.1" />
<line x1="326.80" y1="486.28" x2="330.40" y2="486.28" stroke="#4a1f6d" stroke-width="1.1" />
<circle cx="328.60" cy="481.97" r="2.2" fill="#4a1f6d"/>
<line x1="333.05" y1="483.81" x2="333.05" y2="487.51" stroke="#4a1f6d" stroke-width="1.1" />
<line x1="331.25" y1="483.81" x2="334.85" y2="483.81" stroke="#4a1f6d" stroke-width="1.1" />
<line x1="331.25" y1="487.51" x2="334.85" y2="487.51" stroke="#4a1f6d" stroke-width="1.1" />
<circle cx="333.05" cy="485.66" r="2.2" fill="#4a1f6d"/>
<line x1="341.95" y1="470.29" x2="341.95" y2="483.81" stroke="#4a1f6d" stroke-width="1.1" />
<line x1="340.15" y1="470.29" x2="343.75" y2="470.29" stroke="#4a1f6d" stroke-width="1.1" />
<line x1="340.15" y1="483.81" x2="343.75" y2="483.81" stroke="#4a1f6d" stroke-width="1.1" />
<circle cx="341.95" cy="477.05" r="2.2" fill="#4a1f6d"/>
<line x1="355.30" y1="461.68" x2="355.30" y2="478.90" stroke="#4a1f6d" stroke-width="1.1" />
<line x1="353.50" y1="461.68" x2="357.10" y2="461.68" stroke="#4a1f6d" stroke-width="1.1" />
<line x1="353.50" y1="478.90" x2="357.10" y2="478.90" stroke="#4a1f6d" stroke-width="1.1" />
<circle cx="355.30" cy="470.29" r="2.2" fill="#4a1f6d"/>
<line x1="364.20" y1="459.83" x2="364.20" y2="475.82" stroke="#4a1f6d" stroke-width="1.1" />
<line x1="362.40" y1="459.83" x2="366.00" y2="459.83" stroke="#4a1f6d" stroke-width="1.1" />
<line x1="362.40" y1="475.82" x2="366.00" y2="475.82" stroke="#4a1f6d" stroke-width="1.1" />
<circle cx="364.20" cy="467.82" r="2.2" fill="#4a1f6d"/>
<line x1="373.10" y1="455.52" x2="373.10" y2="473.98" stroke="#4a1f6d" stroke-width="1.1" />
<line x1="371.30" y1="455.52" x2="374.90" y2="455.52" stroke="#4a1f6d" stroke-width="1.1" />
<line x1="371.30" y1="473.98" x2="374.90" y2="473.98" stroke="#4a1f6d" stroke-width="1.1" />
<circle cx="373.10" cy="464.75" r="2.2" fill="#4a1f6d"/>
<line x1="386.45" y1="463.52" x2="386.45" y2="474.59" stroke="#4a1f6d" stroke-width="1.1" />
<line x1="384.65" y1="463.52" x2="388.25" y2="463.52" stroke="#4a1f6d" stroke-width="1.1" />
<line x1="384.65" y1="474.59" x2="388.25" y2="474.59" stroke="#4a1f6d" stroke-width="1.1" />
<circle cx="386.45" cy="469.06" r="2.2" fill="#4a1f6d"/>
<line x1="395.35" y1="453.07" x2="395.35" y2="465.37" stroke="#4a1f6d" stroke-width="1.1" />
<line x1="393.55" y1="453.07" x2="397.15" y2="453.07" stroke="#4a1f6d" stroke-width="1.1" />
<line x1="393.55" y1="465.37" x2="397.15" y2="465.37" stroke="#4a1f6d" stroke-width="1.1" />
<circle cx="395.35" cy="459.22" r="2.2" fill="#4a1f6d"/>
<line x1="404.25" y1="443.84" x2="404.25" y2="464.75" stroke="#4a1f6d" stroke-width="1.1" />
<line x1="402.45" y1="443.84" x2="406.05" y2="443.84" stroke="#4a1f6d" stroke-width="1.1" />
<line x1="402.45" y1="464.75" x2="406.05" y2="464.75" stroke="#4a1f6d" stroke-width="1.1" />
<circle cx="404.25" cy="454.30" r="2.2" fill="#4a1f6d"/>
<line x1="417.60" y1="424.16" x2="417.60" y2="451.22" stroke="#4a1f6d" stroke-width="1.1" />
<line x1="415.80" y1="424.16" x2="419.40" y2="424.16" stroke="#4a1f6d" stroke-width="1.1" />
<line x1="415.80" y1="451.22" x2="419.40" y2="451.22" stroke="#4a1f6d" stroke-width="1.1" />
<circle cx="417.60" cy="437.69" r="2.2" fill="#4a1f6d"/>
<line x1="426.50" y1="417.39" x2="426.50" y2="450.61" stroke="#4a1f6d" stroke-width="1.1" />
<line x1="424.70" y1="417.39" x2="428.30" y2="417.39" stroke="#4a1f6d" stroke-width="1.1" />
<line x1="424.70" y1="450.61" x2="428.30" y2="450.61" stroke="#4a1f6d" stroke-width="1.1" />
<circle cx="426.50" cy="434.00" r="2.2" fill="#4a1f6d"/>
<line x1="435.40" y1="411.86" x2="435.40" y2="446.30" stroke="#4a1f6d" stroke-width="1.1" />
<line x1="433.60" y1="411.86" x2="437.20" y2="411.86" stroke="#4a1f6d" stroke-width="1.1" />
<line x1="433.60" y1="446.30" x2="437.20" y2="446.30" stroke="#4a1f6d" stroke-width="1.1" />
<circle cx="435.40" cy="429.08" r="2.2" fill="#4a1f6d"/>
<line x1="324.15" y1="485.04" x2="324.15" y2="487.50" stroke="#4cbf78" stroke-width="1.1" />
<line x1="322.35" y1="485.04" x2="325.95" y2="485.04" stroke="#4cbf78" stroke-width="1.1" />
<line x1="322.35" y1="487.50" x2="325.95" y2="487.50" stroke="#4cbf78" stroke-width="1.1" />
<polygon points="322.15,487.88 326.15,487.88 324.15,484.27" fill="#4cbf78"/>
<line x1="328.60" y1="483.20" x2="328.60" y2="486.89" stroke="#4cbf78" stroke-width="1.1" />
<line x1="326.80" y1="483.20" x2="330.40" y2="483.20" stroke="#4cbf78" stroke-width="1.1" />
<line x1="326.80" y1="486.89" x2="330.40" y2="486.89" stroke="#4cbf78" stroke-width="1.1" />
<polygon points="326.60,486.65 330.60,486.65 328.60,483.05" fill="#4cbf78"/>
<line x1="333.05" y1="484.43" x2="333.05" y2="486.89" stroke="#4cbf78" stroke-width="1.1" />
<line x1="331.25" y1="484.43" x2="334.85" y2="484.43" stroke="#4cbf78" stroke-width="1.1" />
<line x1="331.25" y1="486.89" x2="334.85" y2="486.89" stroke="#4cbf78" stroke-width="1.1" />
<polygon points="331.05,487.26 335.05,487.26 333.05,483.66" fill="#4cbf78"/>
<line x1="341.95" y1="480.74" x2="341.95" y2="485.66" stroke="#4cbf78" stroke-width="1.1" />
<line x1="340.15" y1="480.74" x2="343.75" y2="480.74" stroke="#4cbf78" stroke-width="1.1" />
<line x1="340.15" y1="485.66" x2="343.75" y2="485.66" stroke="#4cbf78" stroke-width="1.1" />
<polygon points="339.95,484.80 343.95,484.80 341.95,481.20" fill="#4cbf78"/>
<line x1="355.30" y1="478.28" x2="355.30" y2="483.20" stroke="#4cbf78" stroke-width="1.1" />
<line x1="353.50" y1="478.28" x2="357.10" y2="478.28" stroke="#4cbf78" stroke-width="1.1" />
<line x1="353.50" y1="483.20" x2="357.10" y2="483.20" stroke="#4cbf78" stroke-width="1.1" />
<polygon points="353.30,482.34 357.30,482.34 355.30,478.74" fill="#4cbf78"/>
<line x1="364.20" y1="475.82" x2="364.20" y2="481.97" stroke="#4cbf78" stroke-width="1.1" />
<line x1="362.40" y1="475.82" x2="366.00" y2="475.82" stroke="#4cbf78" stroke-width="1.1" />
<line x1="362.40" y1="481.97" x2="366.00" y2="481.97" stroke="#4cbf78" stroke-width="1.1" />
<polygon points="362.20,480.50 366.20,480.50 364.20,476.89" fill="#4cbf78"/>
<line x1="373.10" y1="475.82" x2="373.10" y2="483.20" stroke="#4cbf78" stroke-width="1.1" />
<line x1="371.30" y1="475.82" x2="374.90" y2="475.82" stroke="#4cbf78" stroke-width="1.1" />
<line x1="371.30" y1="483.20" x2="374.90" y2="483.20" stroke="#4cbf78" stroke-width="1.1" />
<polygon points="371.10,481.11 375.10,481.11 373.10,477.51" fill="#4cbf78"/>
<line x1="386.45" y1="472.75" x2="386.45" y2="481.36" stroke="#4cbf78" stroke-width="1.1" />
<line x1="384.65" y1="472.75" x2="388.25" y2="472.75" stroke="#4cbf78" stroke-width="1.1" />
<line x1="384.65" y1="481.36" x2="388.25" y2="481.36" stroke="#4cbf78" stroke-width="1.1" />
<polygon points="384.45,478.65 388.45,478.65 386.45,475.05" fill="#4cbf78"/>
<line x1="395.35" y1="469.67" x2="395.35" y2="474.59" stroke="#4cbf78" stroke-width="1.1" />
<line x1="393.55" y1="469.67" x2="397.15" y2="469.67" stroke="#4cbf78" stroke-width="1.1" />
<line x1="393.55" y1="474.59" x2="397.15" y2="474.59" stroke="#4cbf78" stroke-width="1.1" />
<polygon points="393.35,473.73 397.35,473.73 395.35,470.13" fill="#4cbf78"/>
<line x1="404.25" y1="469.06" x2="404.25" y2="475.20" stroke="#4cbf78" stroke-width="1.1" />
<line x1="402.45" y1="469.06" x2="406.05" y2="469.06" stroke="#4cbf78" stroke-width="1.1" />
<line x1="402.45" y1="475.20" x2="406.05" y2="475.20" stroke="#4cbf78" stroke-width="1.1" />
<polygon points="402.25,473.73 406.25,473.73 404.25,470.13" fill="#4cbf78"/>
<line x1="417.60" y1="462.91" x2="417.60" y2="470.29" stroke="#4cbf78" stroke-width="1.1" />
<line x1="415.80" y1="462.91" x2="419.40" y2="462.91" stroke="#4cbf78" stroke-width="1.1" />
<line x1="415.80" y1="470.29" x2="419.40" y2="470.29" stroke="#4cbf78" stroke-width="1.1" />
<polygon points="415.60,468.20 419.60,468.20 417.60,464.60" fill="#4cbf78"/>
<line x1="426.50" y1="461.68" x2="426.50" y2="470.29" stroke="#4cbf78" stroke-width="1.1" />
<line x1="424.70" y1="461.68" x2="428.30" y2="461.68" stroke="#4cbf78" stroke-width="1.1" />
<line x1="424.70" y1="470.29" x2="428.30" y2="470.29" stroke="#4cbf78" stroke-width="1.1" />
<polygon points="424.50,467.58 428.50,467.58 426.50,463.98" fill="#4cbf78"/>
<line x1="435.40" y1="460.44" x2="435.40" y2="466.59" stroke="#4cbf78" stroke-width="1.1" />
<line x1="433.60" y1="460.44" x2="437.20" y2="460.44" stroke="#4cbf78" stroke-width="1.1" />
<line x1="433.60" y1="466.59" x2="437.20" y2="466.59" stroke="#4cbf78" stroke-width="1.1" />
<polygon points="433.40,465.12 437.40,465.12 435.40,461.52" fill="#4cbf78"/>
<line x1="448.75" y1="451.22" x2="448.75" y2="463.52" stroke="#4cbf78" stroke-width="1.1" />
<line x1="446.95" y1="451.22" x2="450.55" y2="451.22" stroke="#4cbf78" stroke-width="1.1" />
<line x1="446.95" y1="463.52" x2="450.55" y2="463.52" stroke="#4cbf78" stroke-width="1.1" />
<polygon points="446.75,458.97 450.75,458.97 448.75,455.37" fill="#4cbf78"/>
<line x1="453.20" y1="454.29" x2="453.20" y2="465.37" stroke="#4cbf78" stroke-width="1.1" />
<line x1="451.40" y1="454.29" x2="455.00" y2="454.29" stroke="#4cbf78" stroke-width="1.1" />
<line x1="451.40" y1="465.37" x2="455.00" y2="465.37" stroke="#4cbf78" stroke-width="1.1" />
<polygon points="451.20,461.43 455.20,461.43 453.20,457.83" fill="#4cbf78"/>
<rect x="321.95" y="484.69" width="4.40" height="4.40" fill="#2a2ae8" />
<rect x="326.40" y="485.92" width="4.40" height="4.40" fill="#2a2ae8" />
<rect x="330.85" y="485.92" width="4.40" height="4.40" fill="#2a2ae8" />
<rect x="339.75" y="487.15" width="4.40" height="4.40" fill="#2a2ae8" />
<rect x="353.10" y="487.15" width="4.40" height="4.40" fill="#2a2ae8" />
<rect x="362.00" y="489.61" width="4.40" height="4.40" fill="#2a2ae8" />
<rect x="370.90" y="491.45" width="4.40" height="4.40" fill="#2a2ae8" />
<rect x="384.25" y="491.45" width="4.40" height="4.40" fill="#2a2ae8" />
<rect x="393.15" y="492.07" width="4.40" height="4.40" fill="#2a2ae8" />
<rect x="402.05" y="492.38" width="4.40" height="4.40" fill="#2a2ae8" />
<rect x="415.40" y="492.99" width="4.40" height="4.40" fill="#2a2ae8" />
<rect x="424.30" y="492.99" width="4.40" height="4.40" fill="#2a2ae8" />
<rect x="433.20" y="492.99" width="4.40" height="4.40" fill="#2a2ae8" />
<rect x="446.55" y="492.99" width="4.40" height="4.40" fill="#2a2ae8" />
<rect x="320.85" y="479.90" width="5.00" height="6.00" fill="#4a1f6d" />
<line x1="319.70" y1="403.25" x2="319.70" y2="495.50" stroke="#111" stroke-width="1.0" />
<line x1="319.70" y1="495.50" x2="455.00" y2="495.50" stroke="#111" stroke-width="1.0" />
<line x1="316.30" y1="495.50" x2="319.70" y2="495.50" stroke="#111" stroke-width="0.9" />
<text x="315.30" y="497.80" font-size="6.6" text-anchor="end" fill="#111" stroke="#111" stroke-width="0.15">0</text>
<line x1="316.30" y1="464.75" x2="319.70" y2="464.75" stroke="#111" stroke-width="0.9" />
<text x="315.30" y="467.05" font-size="6.6" text-anchor="end" fill="#111" stroke="#111" stroke-width="0.15">500</text>
<line x1="316.30" y1="434.00" x2="319.70" y2="434.00" stroke="#111" stroke-width="0.9" />
<text x="315.30" y="436.30" font-size="6.6" text-anchor="end" fill="#111" stroke="#111" stroke-width="0.15">1000</text>
<line x1="316.30" y1="403.25" x2="319.70" y2="403.25" stroke="#111" stroke-width="0.9" />
<text x="315.30" y="405.55" font-size="6.6" text-anchor="end" fill="#111" stroke="#111" stroke-width="0.15">1500</text>
<line x1="319.70" y1="495.50" x2="319.70" y2="498.50" stroke="#111" stroke-width="0.9" />
<text x="319.70" y="506.30" font-size="7" text-anchor="middle" fill="#111" >0</text>
<line x1="350.85" y1="495.50" x2="350.85" y2="498.50" stroke="#111" stroke-width="0.9" />
<text x="350.85" y="506.30" font-size="7" text-anchor="middle" fill="#111" >7</text>
<line x1="382.00" y1="495.50" x2="382.00" y2="498.50" stroke="#111" stroke-width="0.9" />
<text x="382.00" y="506.30" font-size="7" text-anchor="middle" fill="#111" >14</text>
<line x1="413.15" y1="495.50" x2="413.15" y2="498.50" stroke="#111" stroke-width="0.9" />
<text x="413.15" y="506.30" font-size="7" text-anchor="middle" fill="#111" >21</text>
<line x1="444.30" y1="495.50" x2="444.30" y2="498.50" stroke="#111" stroke-width="0.9" />
<text x="444.30" y="506.30" font-size="7" text-anchor="middle" fill="#111" >28</text>
<text x="386.25" y="391.50" font-size="8.6" font-weight="bold" text-anchor="middle" fill="#111" >ARMS-010</text>
<text transform="translate(296.60,448.50) rotate(-90)" font-size="8.3" font-weight="bold" text-anchor="middle" fill="#111" >Tumor volume (mm<tspan font-size="5.6" dy="-3.2">3</tspan><tspan dy="3.2">)</tspan></text>
<rect x="320.40" y="541.80" width="126.60" height="95.20" fill="#dfdfdf" />
<polyline points="324.22,627.80 387.50,562.48" fill="none" stroke="#4a1f6d" stroke-width="1.2" stroke-linejoin="round" />
<polyline points="324.22,628.72 456.25,567.77" fill="none" stroke="#5fdc8c" stroke-width="1.2" stroke-linejoin="round" />
<polyline points="324.22,628.72 456.25,604.80" fill="none" stroke="#2a2ae8" stroke-width="1.2" stroke-linejoin="round" />
<line x1="324.22" y1="626.42" x2="324.22" y2="629.18" stroke="#5fdc8c" stroke-width="1.1" />
<line x1="322.42" y1="626.42" x2="326.02" y2="626.42" stroke="#5fdc8c" stroke-width="1.1" />
<line x1="322.42" y1="629.18" x2="326.02" y2="629.18" stroke="#5fdc8c" stroke-width="1.1" />
<polygon points="322.32,629.32 326.12,629.32 324.22,625.90" fill="#5fdc8c"/>
<line x1="328.74" y1="620.44" x2="328.74" y2="625.96" stroke="#5fdc8c" stroke-width="1.1" />
<line x1="326.94" y1="620.44" x2="330.54" y2="620.44" stroke="#5fdc8c" stroke-width="1.1" />
<line x1="326.94" y1="625.96" x2="330.54" y2="625.96" stroke="#5fdc8c" stroke-width="1.1" />
<polygon points="326.84,624.72 330.64,624.72 328.74,621.30" fill="#5fdc8c"/>
<line x1="333.26" y1="613.08" x2="333.26" y2="622.28" stroke="#5fdc8c" stroke-width="1.1" />
<line x1="331.46" y1="613.08" x2="335.06" y2="613.08" stroke="#5fdc8c" stroke-width="1.1" />
<line x1="331.46" y1="622.28" x2="335.06" y2="622.28" stroke="#5fdc8c" stroke-width="1.1" />
<polygon points="331.36,619.20 335.16,619.20 333.26,615.78" fill="#5fdc8c"/>
<line x1="337.78" y1="614.92" x2="337.78" y2="622.28" stroke="#5fdc8c" stroke-width="1.1" />
<line x1="335.98" y1="614.92" x2="339.58" y2="614.92" stroke="#5fdc8c" stroke-width="1.1" />
<line x1="335.98" y1="622.28" x2="339.58" y2="622.28" stroke="#5fdc8c" stroke-width="1.1" />
<polygon points="335.88,620.12 339.68,620.12 337.78,616.70" fill="#5fdc8c"/>
<line x1="342.30" y1="614.00" x2="342.30" y2="621.36" stroke="#5fdc8c" stroke-width="1.1" />
<line x1="340.50" y1="614.00" x2="344.10" y2="614.00" stroke="#5fdc8c" stroke-width="1.1" />
<line x1="340.50" y1="621.36" x2="344.10" y2="621.36" stroke="#5fdc8c" stroke-width="1.1" />
<polygon points="340.40,619.20 344.20,619.20 342.30,615.78" fill="#5fdc8c"/>
<line x1="355.86" y1="601.12" x2="355.86" y2="624.12" stroke="#5fdc8c" stroke-width="1.1" />
<line x1="354.06" y1="601.12" x2="357.66" y2="601.12" stroke="#5fdc8c" stroke-width="1.1" />
<line x1="354.06" y1="624.12" x2="357.66" y2="624.12" stroke="#5fdc8c" stroke-width="1.1" />
<polygon points="353.96,614.14 357.76,614.14 355.86,610.72" fill="#5fdc8c"/>
<line x1="360.38" y1="610.78" x2="360.38" y2="619.98" stroke="#5fdc8c" stroke-width="1.1" />
<line x1="358.58" y1="610.78" x2="362.18" y2="610.78" stroke="#5fdc8c" stroke-width="1.1" />
<line x1="358.58" y1="619.98" x2="362.18" y2="619.98" stroke="#5fdc8c" stroke-width="1.1" />
<polygon points="358.48,616.90 362.28,616.90 360.38,613.48" fill="#5fdc8c"/>
<line x1="364.90" y1="613.08" x2="364.90" y2="620.44" stroke="#5fdc8c" stroke-width="1.1" />
<line x1="363.10" y1="613.08" x2="366.70" y2="613.08" stroke="#5fdc8c" stroke-width="1.1" />
<line x1="363.10" y1="620.44" x2="366.70" y2="620.44" stroke="#5fdc8c" stroke-width="1.1" />
<polygon points="363.00,618.28 366.80,618.28 364.90,614.86" fill="#5fdc8c"/>
<line x1="369.42" y1="596.06" x2="369.42" y2="611.70" stroke="#5fdc8c" stroke-width="1.1" />
<line x1="367.62" y1="596.06" x2="371.22" y2="596.06" stroke="#5fdc8c" stroke-width="1.1" />
<line x1="367.62" y1="611.70" x2="371.22" y2="611.70" stroke="#5fdc8c" stroke-width="1.1" />
<polygon points="367.52,605.40 371.32,605.40 369.42,601.98" fill="#5fdc8c"/>
<line x1="373.94" y1="601.58" x2="373.94" y2="613.54" stroke="#5fdc8c" stroke-width="1.1" />
<line x1="372.14" y1="601.58" x2="375.74" y2="601.58" stroke="#5fdc8c" stroke-width="1.1" />
<line x1="372.14" y1="613.54" x2="375.74" y2="613.54" stroke="#5fdc8c" stroke-width="1.1" />
<polygon points="372.04,609.08 375.84,609.08 373.94,605.66" fill="#5fdc8c"/>
<line x1="387.50" y1="591.46" x2="387.50" y2="603.42" stroke="#5fdc8c" stroke-width="1.1" />
<line x1="385.70" y1="591.46" x2="389.30" y2="591.46" stroke="#5fdc8c" stroke-width="1.1" />
<line x1="385.70" y1="603.42" x2="389.30" y2="603.42" stroke="#5fdc8c" stroke-width="1.1" />
<polygon points="385.60,598.96 389.40,598.96 387.50,595.54" fill="#5fdc8c"/>
<line x1="396.54" y1="578.12" x2="396.54" y2="593.76" stroke="#5fdc8c" stroke-width="1.1" />
<line x1="394.74" y1="578.12" x2="398.34" y2="578.12" stroke="#5fdc8c" stroke-width="1.1" />
<line x1="394.74" y1="593.76" x2="398.34" y2="593.76" stroke="#5fdc8c" stroke-width="1.1" />
<polygon points="394.64,587.46 398.44,587.46 396.54,584.04" fill="#5fdc8c"/>
<line x1="405.58" y1="582.72" x2="405.58" y2="598.36" stroke="#5fdc8c" stroke-width="1.1" />
<line x1="403.78" y1="582.72" x2="407.38" y2="582.72" stroke="#5fdc8c" stroke-width="1.1" />
<line x1="403.78" y1="598.36" x2="407.38" y2="598.36" stroke="#5fdc8c" stroke-width="1.1" />
<polygon points="403.68,592.06 407.48,592.06 405.58,588.64" fill="#5fdc8c"/>
<line x1="419.14" y1="580.42" x2="419.14" y2="596.06" stroke="#5fdc8c" stroke-width="1.1" />
<line x1="417.34" y1="580.42" x2="420.94" y2="580.42" stroke="#5fdc8c" stroke-width="1.1" />
<line x1="417.34" y1="596.06" x2="420.94" y2="596.06" stroke="#5fdc8c" stroke-width="1.1" />
<polygon points="417.24,589.76 421.04,589.76 419.14,586.34" fill="#5fdc8c"/>
<line x1="428.18" y1="569.38" x2="428.18" y2="585.02" stroke="#5fdc8c" stroke-width="1.1" />
<line x1="426.38" y1="569.38" x2="429.98" y2="569.38" stroke="#5fdc8c" stroke-width="1.1" />
<line x1="426.38" y1="585.02" x2="429.98" y2="585.02" stroke="#5fdc8c" stroke-width="1.1" />
<polygon points="426.28,578.72 430.08,578.72 428.18,575.30" fill="#5fdc8c"/>
<line x1="437.22" y1="573.98" x2="437.22" y2="584.10" stroke="#5fdc8c" stroke-width="1.1" />
<line x1="435.42" y1="573.98" x2="439.02" y2="573.98" stroke="#5fdc8c" stroke-width="1.1" />
<line x1="435.42" y1="584.10" x2="439.02" y2="584.10" stroke="#5fdc8c" stroke-width="1.1" />
<polygon points="435.32,580.56 439.12,580.56 437.22,577.14" fill="#5fdc8c"/>
<line x1="450.78" y1="556.04" x2="450.78" y2="561.56" stroke="#5fdc8c" stroke-width="1.1" />
<line x1="448.98" y1="556.04" x2="452.58" y2="556.04" stroke="#5fdc8c" stroke-width="1.1" />
<line x1="448.98" y1="561.56" x2="452.58" y2="561.56" stroke="#5fdc8c" stroke-width="1.1" />
<polygon points="448.88,560.32 452.68,560.32 450.78,556.90" fill="#5fdc8c"/>
<line x1="324.22" y1="625.04" x2="324.22" y2="627.80" stroke="#2a2ae8" stroke-width="1.1" />
<line x1="322.42" y1="625.04" x2="326.02" y2="625.04" stroke="#2a2ae8" stroke-width="1.1" />
<line x1="322.42" y1="627.80" x2="326.02" y2="627.80" stroke="#2a2ae8" stroke-width="1.1" />
<rect x="322.12" y="624.32" width="4.20" height="4.20" fill="#2a2ae8" />
<line x1="328.74" y1="625.04" x2="328.74" y2="629.64" stroke="#2a2ae8" stroke-width="1.1" />
<line x1="326.94" y1="625.04" x2="330.54" y2="625.04" stroke="#2a2ae8" stroke-width="1.1" />
<line x1="326.94" y1="629.64" x2="330.54" y2="629.64" stroke="#2a2ae8" stroke-width="1.1" />
<rect x="326.64" y="625.24" width="4.20" height="4.20" fill="#2a2ae8" />
<line x1="333.26" y1="627.34" x2="333.26" y2="631.02" stroke="#2a2ae8" stroke-width="1.1" />
<line x1="331.46" y1="627.34" x2="335.06" y2="627.34" stroke="#2a2ae8" stroke-width="1.1" />
<line x1="331.46" y1="631.02" x2="335.06" y2="631.02" stroke="#2a2ae8" stroke-width="1.1" />
<rect x="331.16" y="627.08" width="4.20" height="4.20" fill="#2a2ae8" />
<line x1="337.78" y1="621.82" x2="337.78" y2="627.34" stroke="#2a2ae8" stroke-width="1.1" />
<line x1="335.98" y1="621.82" x2="339.58" y2="621.82" stroke="#2a2ae8" stroke-width="1.1" />
<line x1="335.98" y1="627.34" x2="339.58" y2="627.34" stroke="#2a2ae8" stroke-width="1.1" />
<rect x="335.68" y="622.48" width="4.20" height="4.20" fill="#2a2ae8" />
<line x1="342.30" y1="623.66" x2="342.30" y2="628.26" stroke="#2a2ae8" stroke-width="1.1" />
<line x1="340.50" y1="623.66" x2="344.10" y2="623.66" stroke="#2a2ae8" stroke-width="1.1" />
<line x1="340.50" y1="628.26" x2="344.10" y2="628.26" stroke="#2a2ae8" stroke-width="1.1" />
<rect x="340.20" y="623.86" width="4.20" height="4.20" fill="#2a2ae8" />
<line x1="355.86" y1="621.82" x2="355.86" y2="625.50" stroke="#2a2ae8" stroke-width="1.1" />
<line x1="354.06" y1="621.82" x2="357.66" y2="621.82" stroke="#2a2ae8" stroke-width="1.1" />
<line x1="354.06" y1="625.50" x2="357.66" y2="625.50" stroke="#2a2ae8" stroke-width="1.1" />
<rect x="353.76" y="621.56" width="4.20" height="4.20" fill="#2a2ae8" />
<line x1="360.38" y1="620.44" x2="360.38" y2="627.80" stroke="#2a2ae8" stroke-width="1.1" />
<line x1="358.58" y1="620.44" x2="362.18" y2="620.44" stroke="#2a2ae8" stroke-width="1.1" />
<line x1="358.58" y1="627.80" x2="362.18" y2="627.80" stroke="#2a2ae8" stroke-width="1.1" />
<rect x="358.28" y="622.02" width="4.20" height="4.20" fill="#2a2ae8" />
<line x1="364.90" y1="622.28" x2="364.90" y2="628.72" stroke="#2a2ae8" stroke-width="1.1" />
<line x1="363.10" y1="622.28" x2="366.70" y2="622.28" stroke="#2a2ae8" stroke-width="1.1" />
<line x1="363.10" y1="628.72" x2="366.70" y2="628.72" stroke="#2a2ae8" stroke-width="1.1" />
<rect x="362.80" y="623.40" width="4.20" height="4.20" fill="#2a2ae8" />
<line x1="369.42" y1="619.06" x2="369.42" y2="624.58" stroke="#2a2ae8" stroke-width="1.1" />
<line x1="367.62" y1="619.06" x2="371.22" y2="619.06" stroke="#2a2ae8" stroke-width="1.1" />
<line x1="367.62" y1="624.58" x2="371.22" y2="624.58" stroke="#2a2ae8" stroke-width="1.1" />
<rect x="367.32" y="619.72" width="4.20" height="4.20" fill="#2a2ae8" />
<line x1="373.94" y1="618.14" x2="373.94" y2="623.66" stroke="#2a2ae8" stroke-width="1.1" />
<line x1="372.14" y1="618.14" x2="375.74" y2="618.14" stroke="#2a2ae8" stroke-width="1.1" />
<line x1="372.14" y1="623.66" x2="375.74" y2="623.66" stroke="#2a2ae8" stroke-width="1.1" />
<rect x="371.84" y="618.80" width="4.20" height="4.20" fill="#2a2ae8" />
<line x1="387.50" y1="610.32" x2="387.50" y2="624.12" stroke="#2a2ae8" stroke-width="1.1" />
<line x1="385.70" y1="610.32" x2="389.30" y2="610.32" stroke="#2a2ae8" stroke-width="1.1" />
<line x1="385.70" y1="624.12" x2="389.30" y2="624.12" stroke="#2a2ae8" stroke-width="1.1" />
<rect x="385.40" y="615.12" width="4.20" height="4.20" fill="#2a2ae8" />
<line x1="396.54" y1="609.40" x2="396.54" y2="622.28" stroke="#2a2ae8" stroke-width="1.1" />
<line x1="394.74" y1="609.40" x2="398.34" y2="609.40" stroke="#2a2ae8" stroke-width="1.1" />
<line x1="394.74" y1="622.28" x2="398.34" y2="622.28" stroke="#2a2ae8" stroke-width="1.1" />
<rect x="394.44" y="613.74" width="4.20" height="4.20" fill="#2a2ae8" />
<line x1="405.58" y1="609.40" x2="405.58" y2="619.52" stroke="#2a2ae8" stroke-width="1.1" />
<line x1="403.78" y1="609.40" x2="407.38" y2="609.40" stroke="#2a2ae8" stroke-width="1.1" />
<line x1="403.78" y1="619.52" x2="407.38" y2="619.52" stroke="#2a2ae8" stroke-width="1.1" />
<rect x="403.48" y="612.36" width="4.20" height="4.20" fill="#2a2ae8" />
<line x1="419.14" y1="608.02" x2="419.14" y2="617.22" stroke="#2a2ae8" stroke-width="1.1" />
<line x1="417.34" y1="608.02" x2="420.94" y2="608.02" stroke="#2a2ae8" stroke-width="1.1" />
<line x1="417.34" y1="617.22" x2="420.94" y2="617.22" stroke="#2a2ae8" stroke-width="1.1" />
<rect x="417.04" y="610.52" width="4.20" height="4.20" fill="#2a2ae8" />
<line x1="428.18" y1="601.12" x2="428.18" y2="613.08" stroke="#2a2ae8" stroke-width="1.1" />
<line x1="426.38" y1="601.12" x2="429.98" y2="601.12" stroke="#2a2ae8" stroke-width="1.1" />
<line x1="426.38" y1="613.08" x2="429.98" y2="613.08" stroke="#2a2ae8" stroke-width="1.1" />
<rect x="426.08" y="605.00" width="4.20" height="4.20" fill="#2a2ae8" />
<line x1="437.22" y1="599.28" x2="437.22" y2="612.16" stroke="#2a2ae8" stroke-width="1.1" />
<line x1="435.42" y1="599.28" x2="439.02" y2="599.28" stroke="#2a2ae8" stroke-width="1.1" />
<line x1="435.42" y1="612.16" x2="439.02" y2="612.16" stroke="#2a2ae8" stroke-width="1.1" />
<rect x="435.12" y="603.62" width="4.20" height="4.20" fill="#2a2ae8" />
<line x1="450.78" y1="598.82" x2="450.78" y2="611.70" stroke="#2a2ae8" stroke-width="1.1" />
<line x1="448.98" y1="598.82" x2="452.58" y2="598.82" stroke="#2a2ae8" stroke-width="1.1" />
<line x1="448.98" y1="611.70" x2="452.58" y2="611.70" stroke="#2a2ae8" stroke-width="1.1" />
<rect x="448.68" y="603.16" width="4.20" height="4.20" fill="#2a2ae8" />
<line x1="324.22" y1="624.58" x2="324.22" y2="628.26" stroke="#4a1f6d" stroke-width="1.1" />
<line x1="322.42" y1="624.58" x2="326.02" y2="624.58" stroke="#4a1f6d" stroke-width="1.1" />
<line x1="322.42" y1="628.26" x2="326.02" y2="628.26" stroke="#4a1f6d" stroke-width="1.1" />
<circle cx="324.22" cy="626.42" r="2.0" fill="#4a1f6d"/>
<line x1="328.74" y1="619.98" x2="328.74" y2="625.50" stroke="#4a1f6d" stroke-width="1.1" />
<line x1="326.94" y1="619.98" x2="330.54" y2="619.98" stroke="#4a1f6d" stroke-width="1.1" />
<line x1="326.94" y1="625.50" x2="330.54" y2="625.50" stroke="#4a1f6d" stroke-width="1.1" />
<circle cx="328.74" cy="622.74" r="2.0" fill="#4a1f6d"/>
<line x1="333.26" y1="612.62" x2="333.26" y2="624.58" stroke="#4a1f6d" stroke-width="1.1" />
<line x1="331.46" y1="612.62" x2="335.06" y2="612.62" stroke="#4a1f6d" stroke-width="1.1" />
<line x1="331.46" y1="624.58" x2="335.06" y2="624.58" stroke="#4a1f6d" stroke-width="1.1" />
<circle cx="333.26" cy="618.60" r="2.0" fill="#4a1f6d"/>
<line x1="337.78" y1="608.48" x2="337.78" y2="619.52" stroke="#4a1f6d" stroke-width="1.1" />
<line x1="335.98" y1="608.48" x2="339.58" y2="608.48" stroke="#4a1f6d" stroke-width="1.1" />
<line x1="335.98" y1="619.52" x2="339.58" y2="619.52" stroke="#4a1f6d" stroke-width="1.1" />
<circle cx="337.78" cy="614.00" r="2.0" fill="#4a1f6d"/>
<line x1="342.30" y1="603.42" x2="342.30" y2="615.38" stroke="#4a1f6d" stroke-width="1.1" />
<line x1="340.50" y1="603.42" x2="344.10" y2="603.42" stroke="#4a1f6d" stroke-width="1.1" />
<line x1="340.50" y1="615.38" x2="344.10" y2="615.38" stroke="#4a1f6d" stroke-width="1.1" />
<circle cx="342.30" cy="609.40" r="2.0" fill="#4a1f6d"/>
<line x1="355.86" y1="582.72" x2="355.86" y2="599.28" stroke="#4a1f6d" stroke-width="1.1" />
<line x1="354.06" y1="582.72" x2="357.66" y2="582.72" stroke="#4a1f6d" stroke-width="1.1" />
<line x1="354.06" y1="599.28" x2="357.66" y2="599.28" stroke="#4a1f6d" stroke-width="1.1" />
<circle cx="355.86" cy="591.00" r="2.0" fill="#4a1f6d"/>
<line x1="360.38" y1="559.72" x2="360.38" y2="593.76" stroke="#4a1f6d" stroke-width="1.1" />
<line x1="358.58" y1="559.72" x2="362.18" y2="559.72" stroke="#4a1f6d" stroke-width="1.1" />
<line x1="358.58" y1="593.76" x2="362.18" y2="593.76" stroke="#4a1f6d" stroke-width="1.1" />
<circle cx="360.38" cy="576.74" r="2.0" fill="#4a1f6d"/>
<line x1="364.90" y1="591.92" x2="364.90" y2="591.92" stroke="#4a1f6d" stroke-width="1.1" />
<line x1="363.10" y1="591.92" x2="366.70" y2="591.92" stroke="#4a1f6d" stroke-width="1.1" />
<line x1="363.10" y1="591.92" x2="366.70" y2="591.92" stroke="#4a1f6d" stroke-width="1.1" />
<circle cx="364.90" cy="591.92" r="2.0" fill="#4a1f6d"/>
<line x1="369.42" y1="585.48" x2="369.42" y2="585.48" stroke="#4a1f6d" stroke-width="1.1" />
<line x1="367.62" y1="585.48" x2="371.22" y2="585.48" stroke="#4a1f6d" stroke-width="1.1" />
<line x1="367.62" y1="585.48" x2="371.22" y2="585.48" stroke="#4a1f6d" stroke-width="1.1" />
<circle cx="369.42" cy="585.48" r="2.0" fill="#4a1f6d"/>
<line x1="373.94" y1="568.00" x2="373.94" y2="586.40" stroke="#4a1f6d" stroke-width="1.1" />
<line x1="372.14" y1="568.00" x2="375.74" y2="568.00" stroke="#4a1f6d" stroke-width="1.1" />
<line x1="372.14" y1="586.40" x2="375.74" y2="586.40" stroke="#4a1f6d" stroke-width="1.1" />
<circle cx="373.94" cy="577.20" r="2.0" fill="#4a1f6d"/>
<line x1="387.50" y1="562.94" x2="387.50" y2="562.94" stroke="#4a1f6d" stroke-width="1.1" />
<line x1="385.70" y1="562.94" x2="389.30" y2="562.94" stroke="#4a1f6d" stroke-width="1.1" />
<line x1="385.70" y1="562.94" x2="389.30" y2="562.94" stroke="#4a1f6d" stroke-width="1.1" />
<circle cx="387.50" cy="562.94" r="2.0" fill="#4a1f6d"/>
<line x1="319.70" y1="545.00" x2="319.70" y2="637.00" stroke="#111" stroke-width="1.0" />
<line x1="319.70" y1="637.00" x2="456.25" y2="637.00" stroke="#111" stroke-width="1.0" />
<line x1="316.30" y1="637.00" x2="319.70" y2="637.00" stroke="#111" stroke-width="0.9" />
<text x="315.30" y="639.30" font-size="6.6" text-anchor="end" fill="#111" stroke="#111" stroke-width="0.15">0</text>
<line x1="316.30" y1="614.00" x2="319.70" y2="614.00" stroke="#111" stroke-width="0.9" />
<text x="315.30" y="616.30" font-size="6.6" text-anchor="end" fill="#111" stroke="#111" stroke-width="0.15">500</text>
<line x1="316.30" y1="591.00" x2="319.70" y2="591.00" stroke="#111" stroke-width="0.9" />
<text x="315.30" y="593.30" font-size="6.6" text-anchor="end" fill="#111" stroke="#111" stroke-width="0.15">1000</text>
<line x1="316.30" y1="568.00" x2="319.70" y2="568.00" stroke="#111" stroke-width="0.9" />
<text x="315.30" y="570.30" font-size="6.6" text-anchor="end" fill="#111" stroke="#111" stroke-width="0.15">1500</text>
<line x1="316.30" y1="545.00" x2="319.70" y2="545.00" stroke="#111" stroke-width="0.9" />
<text x="315.30" y="547.30" font-size="6.6" text-anchor="end" fill="#111" stroke="#111" stroke-width="0.15">2000</text>
<line x1="319.70" y1="637.00" x2="319.70" y2="640.00" stroke="#111" stroke-width="0.9" />
<text x="319.70" y="647.80" font-size="7" text-anchor="middle" fill="#111" >0</text>
<line x1="351.34" y1="637.00" x2="351.34" y2="640.00" stroke="#111" stroke-width="0.9" />
<text x="351.34" y="647.80" font-size="7" text-anchor="middle" fill="#111" >7</text>
<line x1="382.98" y1="637.00" x2="382.98" y2="640.00" stroke="#111" stroke-width="0.9" />
<text x="382.98" y="647.80" font-size="7" text-anchor="middle" fill="#111" >14</text>
<line x1="414.62" y1="637.00" x2="414.62" y2="640.00" stroke="#111" stroke-width="0.9" />
<text x="414.62" y="647.80" font-size="7" text-anchor="middle" fill="#111" >21</text>
<line x1="446.26" y1="637.00" x2="446.26" y2="640.00" stroke="#111" stroke-width="0.9" />
<text x="446.26" y="647.80" font-size="7" text-anchor="middle" fill="#111" >28</text>
<text x="388.00" y="533.00" font-size="8.6" font-weight="bold" text-anchor="middle" fill="#111" >ERMS-024</text>
<text transform="translate(297.00,590.00) rotate(-90)" font-size="8.6" font-weight="bold" text-anchor="middle" fill="#111" >Tumor volume (mm3)</text>
<path d="M488.25,416.00 H547.47 V429.28 H554.05 V455.75 H565.57 V469.03 H583.66 V482.22 H585.31 V495.50" fill="none" stroke="#5fd690" stroke-width="1.3"/>
<path d="M488.25,416.00 H583.66 V429.28 H600.11 V442.47 H605.04 V469.03 H613.27 V495.50" fill="none" stroke="#4f4ff0" stroke-width="1.3"/>
<path d="M488.25,416.00 H524.44 V435.88 H544.18 V455.75 H559.48 V495.50" fill="none" stroke="#4b2d6e" stroke-width="1.3"/>
<line x1="488.25" y1="407.50" x2="488.25" y2="495.50" stroke="#111" stroke-width="1.1" />
<line x1="488.25" y1="495.50" x2="619.85" y2="495.50" stroke="#111" stroke-width="1.1" />
<line x1="485.25" y1="495.50" x2="488.25" y2="495.50" stroke="#111" stroke-width="1" />
<text x="484.25" y="498.00" font-size="7.2" text-anchor="end" fill="#111" >0</text>
<line x1="485.25" y1="455.75" x2="488.25" y2="455.75" stroke="#111" stroke-width="1" />
<text x="484.25" y="458.25" font-size="7.2" text-anchor="end" fill="#111" >50</text>
<line x1="485.25" y1="416.00" x2="488.25" y2="416.00" stroke="#111" stroke-width="1" />
<text x="484.25" y="418.50" font-size="7.2" text-anchor="end" fill="#111" >100</text>
<line x1="521.15" y1="495.50" x2="521.15" y2="498.50" stroke="#111" stroke-width="1" />
<text x="521.15" y="506.50" font-size="7.2" font-weight="bold" text-anchor="middle" fill="#111" >20</text>
<line x1="554.05" y1="495.50" x2="554.05" y2="498.50" stroke="#111" stroke-width="1" />
<text x="554.05" y="506.50" font-size="7.2" font-weight="bold" text-anchor="middle" fill="#111" >40</text>
<line x1="586.95" y1="495.50" x2="586.95" y2="498.50" stroke="#111" stroke-width="1" />
<text x="586.95" y="506.50" font-size="7.2" font-weight="bold" text-anchor="middle" fill="#111" >60</text>
<line x1="619.85" y1="495.50" x2="619.85" y2="498.50" stroke="#111" stroke-width="1" />
<text x="619.85" y="506.50" font-size="7.2" font-weight="bold" text-anchor="middle" fill="#111" >80</text>
<text transform="translate(468.75,452.00) rotate(-90)" font-size="7.2" font-weight="bold" text-anchor="middle" fill="#111" >Survival (%)</text>
<text x="554.50" y="517.50" font-size="7.2" font-weight="bold" text-anchor="middle" fill="#111" >Time (Days)</text>
<line x1="496.48" y1="414.50" x2="496.48" y2="417.50" stroke="#4f4ff0" stroke-width="0.8" />
<line x1="507.99" y1="414.50" x2="507.99" y2="417.50" stroke="#4f4ff0" stroke-width="0.8" />
<line x1="519.50" y1="414.50" x2="519.50" y2="417.50" stroke="#4f4ff0" stroke-width="0.8" />
<text x="587.00" y="423.70" font-size="7.3" text-anchor="start" fill="#222" ><tspan font-style="italic">P</tspan> = 0.0054</text>
<path d="M488.75,557.50 H512.50 V566.38 H538.75 V575.26 H541.25 V586.30 H553.75 V597.10 H559.50 V607.10 H565.00 V617.02 H571.25 V627.50 H573.75 V637.50" fill="none" stroke="#5fd690" stroke-width="1.3"/>
<path d="M488.75,557.50 H565.40 V565.50 H573.90 V573.50 H576.40 V581.50 H585.50 V589.50 H591.90 V597.50 H594.60 V605.50 H597.20 V613.50 H609.40 V621.50 H612.60 V629.50 H615.10 V637.50" fill="none" stroke="#4f4ff0" stroke-width="1.3"/>
<path d="M488.75,557.50 H512.17 V584.14 H515.09 V597.50 H523.87 V610.86 H532.65 V637.50" fill="none" stroke="#4b2d6e" stroke-width="1.3"/>
<line x1="488.75" y1="549.50" x2="488.75" y2="637.50" stroke="#111" stroke-width="1.1" />
<line x1="488.75" y1="637.50" x2="620.47" y2="637.50" stroke="#111" stroke-width="1.1" />
<line x1="485.75" y1="637.50" x2="488.75" y2="637.50" stroke="#111" stroke-width="1" />
<text x="484.75" y="640.00" font-size="7.2" text-anchor="end" fill="#111" >0</text>
<line x1="485.75" y1="597.50" x2="488.75" y2="597.50" stroke="#111" stroke-width="1" />
<text x="484.75" y="600.00" font-size="7.2" text-anchor="end" fill="#111" >50</text>
<line x1="485.75" y1="557.50" x2="488.75" y2="557.50" stroke="#111" stroke-width="1" />
<text x="484.75" y="560.00" font-size="7.2" text-anchor="end" fill="#111" >100</text>
<line x1="488.75" y1="637.50" x2="488.75" y2="640.50" stroke="#111" stroke-width="1" />
<text x="488.75" y="648.50" font-size="7.2" font-weight="bold" text-anchor="middle" fill="#111" >0</text>
<line x1="532.65" y1="637.50" x2="532.65" y2="640.50" stroke="#111" stroke-width="1" />
<text x="532.65" y="648.50" font-size="7.2" font-weight="bold" text-anchor="middle" fill="#111" >15</text>
<line x1="576.56" y1="637.50" x2="576.56" y2="640.50" stroke="#111" stroke-width="1" />
<text x="576.56" y="648.50" font-size="7.2" font-weight="bold" text-anchor="middle" fill="#111" >30</text>
<line x1="620.47" y1="637.50" x2="620.47" y2="640.50" stroke="#111" stroke-width="1" />
<text x="620.47" y="648.50" font-size="7.2" font-weight="bold" text-anchor="middle" fill="#111" >45</text>
<text transform="translate(469.25,594.00) rotate(-90)" font-size="7.2" font-weight="bold" text-anchor="middle" fill="#111" >Survival (%)</text>
<text x="554.50" y="657.50" font-size="7.2" font-weight="bold" text-anchor="middle" fill="#111" >Time (Days)</text>
<line x1="523.87" y1="556.00" x2="523.87" y2="559.00" stroke="#4f4ff0" stroke-width="0.8" />
<line x1="523.87" y1="564.88" x2="523.87" y2="567.88" stroke="#5fd690" stroke-width="0.8" />
<text x="598.80" y="609.40" font-size="7.3" text-anchor="start" fill="#222" ><tspan font-style="italic">P</tspan> = 0.00011</text>
<text x="576.00" y="634.20" font-size="7.3" text-anchor="start" fill="#222" ><tspan font-style="italic">P</tspan> = 0.013</text>
<line x1="631.30" y1="414.20" x2="640.50" y2="414.20" stroke="#4b2d6e" stroke-width="1.3" />
<line x1="635.90" y1="412.90" x2="635.90" y2="414.70" stroke="#4b2d6e" stroke-width="0.8" />
<text x="645.50" y="416.60" font-size="7.2" font-weight="bold" text-anchor="start" fill="#111" >Vehicle</text>
<line x1="631.30" y1="430.30" x2="640.50" y2="430.30" stroke="#4f4ff0" stroke-width="1.3" />
<line x1="635.90" y1="429.00" x2="635.90" y2="430.80" stroke="#4f4ff0" stroke-width="0.8" />
<text x="645.50" y="428.30" font-size="7.2" font-weight="bold" text-anchor="start" fill="#111" >Ipatasertib</text>
<text x="645.50" y="436.70" font-size="7.2" font-weight="bold" text-anchor="start" fill="#111" >(100mg/kg)</text>
<line x1="631.30" y1="450.20" x2="640.50" y2="450.20" stroke="#5fd690" stroke-width="1.3" />
<line x1="635.90" y1="448.90" x2="635.90" y2="450.70" stroke="#5fd690" stroke-width="0.8" />
<text x="645.50" y="447.90" font-size="7.2" font-weight="bold" text-anchor="start" fill="#111" >Ipatasetib</text>
<text x="645.50" y="456.90" font-size="7.2" font-weight="bold" text-anchor="start" fill="#111" >(25mg/kg)</text>
<line x1="631.30" y1="555.50" x2="640.50" y2="555.50" stroke="#4b2d6e" stroke-width="1.3" />
<line x1="635.90" y1="554.20" x2="635.90" y2="556.00" stroke="#4b2d6e" stroke-width="0.8" />
<text x="645.50" y="557.80" font-size="7.2" font-weight="bold" text-anchor="start" fill="#111" >Vehicle</text>
<line x1="631.30" y1="571.75" x2="640.50" y2="571.75" stroke="#4f4ff0" stroke-width="1.3" />
<line x1="635.90" y1="570.45" x2="635.90" y2="572.25" stroke="#4f4ff0" stroke-width="0.8" />
<text x="645.50" y="569.80" font-size="7.2" font-weight="bold" text-anchor="start" fill="#111" >Ipatasertib</text>
<text x="645.50" y="578.70" font-size="7.2" font-weight="bold" text-anchor="start" fill="#111" >(100mg/kg)</text>
<line x1="631.30" y1="591.40" x2="640.50" y2="591.40" stroke="#5fd690" stroke-width="1.3" />
<line x1="635.90" y1="590.10" x2="635.90" y2="591.90" stroke="#5fd690" stroke-width="0.8" />
<text x="645.50" y="590.00" font-size="7.2" font-weight="bold" text-anchor="start" fill="#111" >Ipatasetib</text>
<text x="645.50" y="598.50" font-size="7.2" font-weight="bold" text-anchor="start" fill="#111" >(25mg/kg)</text>
<text x="1.00" y="685.00" font-size="13.8" font-weight="bold" text-anchor="start" fill="#000" >D</text>
<rect x="97.00" y="702.00" width="20.00" height="87.70" fill="#e8e8e8" />
<rect x="141.25" y="702.00" width="10.00" height="87.70" fill="#e8e8e8" />
<rect x="176.25" y="702.00" width="20.00" height="87.70" fill="#e8e8e8" />
<polyline points="96.21,719.25 99.23,723.82 101.98,735.42 106.23,772.50 109.25,772.50 112.96,772.50 115.43,772.50 121.33,772.50 124.21,772.50 126.95,772.50 132.44,733.78 136.70,728.05 140.54,711.75 143.01,723.82 147.41,772.50 150.15,772.50 156.74,772.50 160.03,772.50 163.05,772.50 166.76,756.97 169.23,730.54 171.97,717.04 176.23,712.05 179.52,716.79 181.99,735.07 185.01,756.97 188.72,756.97 194.21,772.50 197.50,772.50 206.70,710.55 219.19,711.37" fill="none" stroke="#2a2af0" stroke-width="1.2" stroke-linejoin="round" />
<circle cx="96.21" cy="719.25" r="1.2" fill="#2a2af0"/>
<circle cx="99.23" cy="723.82" r="1.2" fill="#2a2af0"/>
<circle cx="101.98" cy="735.42" r="1.2" fill="#2a2af0"/>
<circle cx="106.23" cy="772.50" r="1.2" fill="#2a2af0"/>
<circle cx="109.25" cy="772.50" r="1.2" fill="#2a2af0"/>
<circle cx="112.96" cy="772.50" r="1.2" fill="#2a2af0"/>
<circle cx="115.43" cy="772.50" r="1.2" fill="#2a2af0"/>
<circle cx="121.33" cy="772.50" r="1.2" fill="#2a2af0"/>
<circle cx="124.21" cy="772.50" r="1.2" fill="#2a2af0"/>
<circle cx="126.95" cy="772.50" r="1.2" fill="#2a2af0"/>
<circle cx="132.44" cy="733.78" r="1.2" fill="#2a2af0"/>
<circle cx="136.70" cy="728.05" r="1.2" fill="#2a2af0"/>
<circle cx="140.54" cy="711.75" r="1.2" fill="#2a2af0"/>
<circle cx="143.01" cy="723.82" r="1.2" fill="#2a2af0"/>
<circle cx="147.41" cy="772.50" r="1.2" fill="#2a2af0"/>
<circle cx="150.15" cy="772.50" r="1.2" fill="#2a2af0"/>
<circle cx="156.74" cy="772.50" r="1.2" fill="#2a2af0"/>
<circle cx="160.03" cy="772.50" r="1.2" fill="#2a2af0"/>
<circle cx="163.05" cy="772.50" r="1.2" fill="#2a2af0"/>
<circle cx="166.76" cy="756.97" r="1.2" fill="#2a2af0"/>
<circle cx="169.23" cy="730.54" r="1.2" fill="#2a2af0"/>
<circle cx="171.97" cy="717.04" r="1.2" fill="#2a2af0"/>
<circle cx="176.23" cy="712.05" r="1.2" fill="#2a2af0"/>
<circle cx="179.52" cy="716.79" r="1.2" fill="#2a2af0"/>
<circle cx="181.99" cy="735.07" r="1.2" fill="#2a2af0"/>
<circle cx="185.01" cy="756.97" r="1.2" fill="#2a2af0"/>
<circle cx="188.72" cy="756.97" r="1.2" fill="#2a2af0"/>
<circle cx="194.21" cy="772.50" r="1.2" fill="#2a2af0"/>
<circle cx="197.50" cy="772.50" r="1.2" fill="#2a2af0"/>
<circle cx="206.70" cy="710.55" r="1.2" fill="#2a2af0"/>
<circle cx="219.19" cy="711.37" r="1.2" fill="#2a2af0"/>
<line x1="95.94" y1="790.20" x2="95.94" y2="781.20" stroke="#f03a3a" stroke-width="1.8" />
<polygon points="93.24,781.70 98.64,781.70 95.94,775.60" fill="#f03a3a"/>
<line x1="140.54" y1="790.20" x2="140.54" y2="781.20" stroke="#f03a3a" stroke-width="1.8" />
<polygon points="137.84,781.70 143.24,781.70 140.54,775.60" fill="#f03a3a"/>
<line x1="177.60" y1="790.20" x2="177.60" y2="781.20" stroke="#f03a3a" stroke-width="1.8" />
<polygon points="174.90,781.70 180.30,781.70 177.60,775.60" fill="#f03a3a"/>
<line x1="95.00" y1="702.00" x2="95.00" y2="790.20" stroke="#111" stroke-width="1.3" />
<line x1="91.75" y1="702.00" x2="95.25" y2="702.00" stroke="#111" stroke-width="1.0" />
<text x="91.05" y="704.30" font-size="6.5" font-weight="bold" text-anchor="end" fill="#111" >1000</text>
<line x1="93.45" y1="722.55" x2="95.25" y2="722.55" stroke="#111" stroke-width="0.6" />
<line x1="93.45" y1="717.37" x2="95.25" y2="717.37" stroke="#111" stroke-width="0.6" />
<line x1="93.45" y1="713.70" x2="95.25" y2="713.70" stroke="#111" stroke-width="0.6" />
<line x1="93.45" y1="710.85" x2="95.25" y2="710.85" stroke="#111" stroke-width="0.6" />
<line x1="93.45" y1="708.52" x2="95.25" y2="708.52" stroke="#111" stroke-width="0.6" />
<line x1="93.45" y1="706.55" x2="95.25" y2="706.55" stroke="#111" stroke-width="0.6" />
<line x1="93.45" y1="704.85" x2="95.25" y2="704.85" stroke="#111" stroke-width="0.6" />
<line x1="93.45" y1="703.35" x2="95.25" y2="703.35" stroke="#111" stroke-width="0.6" />
<line x1="91.75" y1="731.40" x2="95.25" y2="731.40" stroke="#111" stroke-width="1.0" />
<text x="91.05" y="733.70" font-size="6.5" font-weight="bold" text-anchor="end" fill="#111" >100</text>
<line x1="93.45" y1="751.95" x2="95.25" y2="751.95" stroke="#111" stroke-width="0.6" />
<line x1="93.45" y1="746.77" x2="95.25" y2="746.77" stroke="#111" stroke-width="0.6" />
<line x1="93.45" y1="743.10" x2="95.25" y2="743.10" stroke="#111" stroke-width="0.6" />
<line x1="93.45" y1="740.25" x2="95.25" y2="740.25" stroke="#111" stroke-width="0.6" />
<line x1="93.45" y1="737.92" x2="95.25" y2="737.92" stroke="#111" stroke-width="0.6" />
<line x1="93.45" y1="735.95" x2="95.25" y2="735.95" stroke="#111" stroke-width="0.6" />
<line x1="93.45" y1="734.25" x2="95.25" y2="734.25" stroke="#111" stroke-width="0.6" />
<line x1="93.45" y1="732.75" x2="95.25" y2="732.75" stroke="#111" stroke-width="0.6" />
<line x1="91.75" y1="760.80" x2="95.25" y2="760.80" stroke="#111" stroke-width="1.0" />
<text x="91.05" y="763.10" font-size="6.5" font-weight="bold" text-anchor="end" fill="#111" >10</text>
<line x1="93.45" y1="781.35" x2="95.25" y2="781.35" stroke="#111" stroke-width="0.6" />
<line x1="93.45" y1="776.17" x2="95.25" y2="776.17" stroke="#111" stroke-width="0.6" />
<line x1="93.45" y1="772.50" x2="95.25" y2="772.50" stroke="#111" stroke-width="0.6" />
<line x1="93.45" y1="769.65" x2="95.25" y2="769.65" stroke="#111" stroke-width="0.6" />
<line x1="93.45" y1="767.32" x2="95.25" y2="767.32" stroke="#111" stroke-width="0.6" />
<line x1="93.45" y1="765.35" x2="95.25" y2="765.35" stroke="#111" stroke-width="0.6" />
<line x1="93.45" y1="763.65" x2="95.25" y2="763.65" stroke="#111" stroke-width="0.6" />
<line x1="93.45" y1="762.15" x2="95.25" y2="762.15" stroke="#111" stroke-width="0.6" />
<line x1="91.75" y1="790.20" x2="95.25" y2="790.20" stroke="#111" stroke-width="1.0" />
<text x="91.05" y="792.50" font-size="6.5" font-weight="bold" text-anchor="end" fill="#111" >1</text>
<line x1="94.45" y1="790.20" x2="233.00" y2="790.20" stroke="#111" stroke-width="1.3" />
<line x1="95.25" y1="790.20" x2="95.25" y2="793.20" stroke="#111" stroke-width="1" />
<text x="95.25" y="800.50" font-size="7.0" font-weight="bold" text-anchor="middle" fill="#111" >0</text>
<line x1="122.70" y1="790.20" x2="122.70" y2="793.20" stroke="#111" stroke-width="1" />
<text x="122.70" y="800.50" font-size="7.0" font-weight="bold" text-anchor="middle" fill="#111" >20</text>
<line x1="150.15" y1="790.20" x2="150.15" y2="793.20" stroke="#111" stroke-width="1" />
<text x="150.15" y="800.50" font-size="7.0" font-weight="bold" text-anchor="middle" fill="#111" >40</text>
<line x1="177.60" y1="790.20" x2="177.60" y2="793.20" stroke="#111" stroke-width="1" />
<text x="177.60" y="800.50" font-size="7.0" font-weight="bold" text-anchor="middle" fill="#111" >60</text>
<line x1="205.05" y1="790.20" x2="205.05" y2="793.20" stroke="#111" stroke-width="1" />
<text x="205.05" y="800.50" font-size="7.0" font-weight="bold" text-anchor="middle" fill="#111" >80</text>
<line x1="232.50" y1="790.20" x2="232.50" y2="793.20" stroke="#111" stroke-width="1" />
<text x="232.50" y="800.50" font-size="7.0" font-weight="bold" text-anchor="middle" fill="#111" >100</text>
<text x="169.88" y="811.50" font-size="7.2" font-weight="bold" text-anchor="middle" fill="#111" >Days</text>
<text x="164.00" y="690.00" font-size="8.8" font-weight="bold" text-anchor="middle" fill="#111" >ERMS-011 -ID#1</text>
<text transform="translate(71.25,746.60) rotate(-90)" font-size="8.8" font-weight="bold" text-anchor="middle" fill="#111" >Tumor volume (mm<tspan font-size="6" dy="-3.4">3</tspan><tspan dy="3.4">)</tspan></text>
<rect x="96.10" y="843.60" width="21.60" height="88.30" fill="#e8e8e8" />
<rect x="132.60" y="840.70" width="10.80" height="91.20" fill="#e8e8e8" />
<rect x="165.30" y="843.60" width="16.70" height="88.30" fill="#e8e8e8" />
<polyline points="95.80,859.08 97.31,859.08 99.78,861.95 102.52,879.77 103.90,898.47 106.23,914.58 108.97,914.58 113.09,914.58 115.84,914.58 119.95,914.58 122.70,914.58 126.82,914.58 129.56,876.07 132.99,863.06 137.39,869.83 140.95,888.68 142.60,914.58 144.66,914.58 150.15,914.58 157.01,914.58 159.76,888.68 163.19,861.42 166.62,852.51 170.74,859.08 172.80,858.25 174.86,888.68 178.29,914.58 181.72,914.58 184.46,914.58 188.58,914.58 195.44,898.94 198.19,898.94 206.42,914.58 218.78,914.58 222.89,914.58" fill="none" stroke="#2a2af0" stroke-width="1.2" stroke-linejoin="round" />
<circle cx="95.80" cy="859.08" r="1.2" fill="#2a2af0"/>
<circle cx="97.31" cy="859.08" r="1.2" fill="#2a2af0"/>
<circle cx="99.78" cy="861.95" r="1.2" fill="#2a2af0"/>
<circle cx="102.52" cy="879.77" r="1.2" fill="#2a2af0"/>
<circle cx="103.90" cy="898.47" r="1.2" fill="#2a2af0"/>
<circle cx="106.23" cy="914.58" r="1.2" fill="#2a2af0"/>
<circle cx="108.97" cy="914.58" r="1.2" fill="#2a2af0"/>
<circle cx="113.09" cy="914.58" r="1.2" fill="#2a2af0"/>
<circle cx="115.84" cy="914.58" r="1.2" fill="#2a2af0"/>
<circle cx="119.95" cy="914.58" r="1.2" fill="#2a2af0"/>
<circle cx="122.70" cy="914.58" r="1.2" fill="#2a2af0"/>
<circle cx="126.82" cy="914.58" r="1.2" fill="#2a2af0"/>
<circle cx="129.56" cy="876.07" r="1.2" fill="#2a2af0"/>
<circle cx="132.99" cy="863.06" r="1.2" fill="#2a2af0"/>
<circle cx="137.39" cy="869.83" r="1.2" fill="#2a2af0"/>
<circle cx="140.95" cy="888.68" r="1.2" fill="#2a2af0"/>
<circle cx="142.60" cy="914.58" r="1.2" fill="#2a2af0"/>
<circle cx="144.66" cy="914.58" r="1.2" fill="#2a2af0"/>
<circle cx="150.15" cy="914.58" r="1.2" fill="#2a2af0"/>
<circle cx="157.01" cy="914.58" r="1.2" fill="#2a2af0"/>
<circle cx="159.76" cy="888.68" r="1.2" fill="#2a2af0"/>
<circle cx="163.19" cy="861.42" r="1.2" fill="#2a2af0"/>
<circle cx="166.62" cy="852.51" r="1.2" fill="#2a2af0"/>
<circle cx="170.74" cy="859.08" r="1.2" fill="#2a2af0"/>
<circle cx="172.80" cy="858.25" r="1.2" fill="#2a2af0"/>
<circle cx="174.86" cy="888.68" r="1.2" fill="#2a2af0"/>
<circle cx="178.29" cy="914.58" r="1.2" fill="#2a2af0"/>
<circle cx="181.72" cy="914.58" r="1.2" fill="#2a2af0"/>
<circle cx="184.46" cy="914.58" r="1.2" fill="#2a2af0"/>
<circle cx="188.58" cy="914.58" r="1.2" fill="#2a2af0"/>
<circle cx="195.44" cy="898.94" r="1.2" fill="#2a2af0"/>
<circle cx="198.19" cy="898.94" r="1.2" fill="#2a2af0"/>
<circle cx="206.42" cy="914.58" r="1.2" fill="#2a2af0"/>
<circle cx="218.78" cy="914.58" r="1.2" fill="#2a2af0"/>
<circle cx="222.89" cy="914.58" r="1.2" fill="#2a2af0"/>
<polyline points="95.80,867.99 97.31,867.99 99.78,867.99 102.52,879.77 103.90,898.47 106.23,914.58 115.84,914.58 122.70,914.58 126.13,914.58 131.62,891.02 134.37,914.58 139.17,914.58 150.15,914.58 157.01,898.47 161.13,861.42 165.25,862.49 169.37,867.99 172.11,888.68 174.86,914.58 180.34,914.58" fill="none" stroke="#2a2af0" stroke-width="1.2" stroke-linejoin="round" />
<circle cx="95.80" cy="867.99" r="1.2" fill="#2a2af0"/>
<circle cx="97.31" cy="867.99" r="1.2" fill="#2a2af0"/>
<circle cx="99.78" cy="867.99" r="1.2" fill="#2a2af0"/>
<circle cx="102.52" cy="879.77" r="1.2" fill="#2a2af0"/>
<circle cx="103.90" cy="898.47" r="1.2" fill="#2a2af0"/>
<circle cx="106.23" cy="914.58" r="1.2" fill="#2a2af0"/>
<circle cx="115.84" cy="914.58" r="1.2" fill="#2a2af0"/>
<circle cx="122.70" cy="914.58" r="1.2" fill="#2a2af0"/>
<circle cx="126.13" cy="914.58" r="1.2" fill="#2a2af0"/>
<circle cx="131.62" cy="891.02" r="1.2" fill="#2a2af0"/>
<circle cx="134.37" cy="914.58" r="1.2" fill="#2a2af0"/>
<circle cx="139.17" cy="914.58" r="1.2" fill="#2a2af0"/>
<circle cx="150.15" cy="914.58" r="1.2" fill="#2a2af0"/>
<circle cx="157.01" cy="898.47" r="1.2" fill="#2a2af0"/>
<circle cx="161.13" cy="861.42" r="1.2" fill="#2a2af0"/>
<circle cx="165.25" cy="862.49" r="1.2" fill="#2a2af0"/>
<circle cx="169.37" cy="867.99" r="1.2" fill="#2a2af0"/>
<circle cx="172.11" cy="888.68" r="1.2" fill="#2a2af0"/>
<circle cx="174.86" cy="914.58" r="1.2" fill="#2a2af0"/>
<circle cx="180.34" cy="914.58" r="1.2" fill="#2a2af0"/>
<line x1="95.94" y1="932.40" x2="95.94" y2="923.40" stroke="#f03a3a" stroke-width="1.8" />
<polygon points="93.24,923.90 98.64,923.90 95.94,917.80" fill="#f03a3a"/>
<line x1="131.62" y1="932.40" x2="131.62" y2="923.40" stroke="#f03a3a" stroke-width="1.8" />
<polygon points="128.92,923.90 134.32,923.90 131.62,917.80" fill="#f03a3a"/>
<line x1="164.56" y1="932.40" x2="164.56" y2="923.40" stroke="#f03a3a" stroke-width="1.8" />
<polygon points="161.86,923.90 167.26,923.90 164.56,917.80" fill="#f03a3a"/>
<line x1="95.00" y1="843.60" x2="95.00" y2="932.40" stroke="#111" stroke-width="1.3" />
<line x1="91.75" y1="843.60" x2="95.25" y2="843.60" stroke="#111" stroke-width="1.0" />
<text x="91.05" y="845.90" font-size="6.5" font-weight="bold" text-anchor="end" fill="#111" >1000</text>
<line x1="93.45" y1="864.29" x2="95.25" y2="864.29" stroke="#111" stroke-width="0.6" />
<line x1="93.45" y1="859.08" x2="95.25" y2="859.08" stroke="#111" stroke-width="0.6" />
<line x1="93.45" y1="855.38" x2="95.25" y2="855.38" stroke="#111" stroke-width="0.6" />
<line x1="93.45" y1="852.51" x2="95.25" y2="852.51" stroke="#111" stroke-width="0.6" />
<line x1="93.45" y1="850.17" x2="95.25" y2="850.17" stroke="#111" stroke-width="0.6" />
<line x1="93.45" y1="848.19" x2="95.25" y2="848.19" stroke="#111" stroke-width="0.6" />
<line x1="93.45" y1="846.47" x2="95.25" y2="846.47" stroke="#111" stroke-width="0.6" />
<line x1="93.45" y1="844.95" x2="95.25" y2="844.95" stroke="#111" stroke-width="0.6" />
<line x1="91.75" y1="873.20" x2="95.25" y2="873.20" stroke="#111" stroke-width="1.0" />
<text x="91.05" y="875.50" font-size="6.5" font-weight="bold" text-anchor="end" fill="#111" >100</text>
<line x1="93.45" y1="893.89" x2="95.25" y2="893.89" stroke="#111" stroke-width="0.6" />
<line x1="93.45" y1="888.68" x2="95.25" y2="888.68" stroke="#111" stroke-width="0.6" />
<line x1="93.45" y1="884.98" x2="95.25" y2="884.98" stroke="#111" stroke-width="0.6" />
<line x1="93.45" y1="882.11" x2="95.25" y2="882.11" stroke="#111" stroke-width="0.6" />
<line x1="93.45" y1="879.77" x2="95.25" y2="879.77" stroke="#111" stroke-width="0.6" />
<line x1="93.45" y1="877.79" x2="95.25" y2="877.79" stroke="#111" stroke-width="0.6" />
<line x1="93.45" y1="876.07" x2="95.25" y2="876.07" stroke="#111" stroke-width="0.6" />
<line x1="93.45" y1="874.55" x2="95.25" y2="874.55" stroke="#111" stroke-width="0.6" />
<line x1="91.75" y1="902.80" x2="95.25" y2="902.80" stroke="#111" stroke-width="1.0" />
<text x="91.05" y="905.10" font-size="6.5" font-weight="bold" text-anchor="end" fill="#111" >10</text>
<line x1="93.45" y1="923.49" x2="95.25" y2="923.49" stroke="#111" stroke-width="0.6" />
<line x1="93.45" y1="918.28" x2="95.25" y2="918.28" stroke="#111" stroke-width="0.6" />
<line x1="93.45" y1="914.58" x2="95.25" y2="914.58" stroke="#111" stroke-width="0.6" />
<line x1="93.45" y1="911.71" x2="95.25" y2="911.71" stroke="#111" stroke-width="0.6" />
<line x1="93.45" y1="909.37" x2="95.25" y2="909.37" stroke="#111" stroke-width="0.6" />
<line x1="93.45" y1="907.39" x2="95.25" y2="907.39" stroke="#111" stroke-width="0.6" />
<line x1="93.45" y1="905.67" x2="95.25" y2="905.67" stroke="#111" stroke-width="0.6" />
<line x1="93.45" y1="904.15" x2="95.25" y2="904.15" stroke="#111" stroke-width="0.6" />
<line x1="91.75" y1="932.40" x2="95.25" y2="932.40" stroke="#111" stroke-width="1.0" />
<text x="91.05" y="934.70" font-size="6.5" font-weight="bold" text-anchor="end" fill="#111" >1</text>
<line x1="94.45" y1="932.40" x2="233.00" y2="932.40" stroke="#111" stroke-width="1.3" />
<line x1="95.25" y1="932.40" x2="95.25" y2="935.40" stroke="#111" stroke-width="1" />
<text x="95.25" y="942.70" font-size="7.0" font-weight="bold" text-anchor="middle" fill="#111" >0</text>
<line x1="122.70" y1="932.40" x2="122.70" y2="935.40" stroke="#111" stroke-width="1" />
<text x="122.70" y="942.70" font-size="7.0" font-weight="bold" text-anchor="middle" fill="#111" >20</text>
<line x1="150.15" y1="932.40" x2="150.15" y2="935.40" stroke="#111" stroke-width="1" />
<text x="150.15" y="942.70" font-size="7.0" font-weight="bold" text-anchor="middle" fill="#111" >40</text>
<line x1="177.60" y1="932.40" x2="177.60" y2="935.40" stroke="#111" stroke-width="1" />
<text x="177.60" y="942.70" font-size="7.0" font-weight="bold" text-anchor="middle" fill="#111" >60</text>
<line x1="205.05" y1="932.40" x2="205.05" y2="935.40" stroke="#111" stroke-width="1" />
<text x="205.05" y="942.70" font-size="7.0" font-weight="bold" text-anchor="middle" fill="#111" >80</text>
<line x1="232.50" y1="932.40" x2="232.50" y2="935.40" stroke="#111" stroke-width="1" />
<text x="232.50" y="942.70" font-size="7.0" font-weight="bold" text-anchor="middle" fill="#111" >100</text>
<text x="169.88" y="953.70" font-size="7.2" font-weight="bold" text-anchor="middle" fill="#111" >Days</text>
<text x="164.15" y="832.00" font-size="8.8" font-weight="bold" text-anchor="middle" fill="#111" >ERMS-011-ID#2 TD/TI</text>
<text transform="translate(71.25,888.50) rotate(-90)" font-size="8.8" font-weight="bold" text-anchor="middle" fill="#111" >Tumor volume (mm<tspan font-size="6" dy="-3.4">3</tspan><tspan dy="3.4">)</tspan></text>
<text x="268.60" y="685.00" font-size="13.6" font-weight="bold" text-anchor="start" fill="#000" >E</text>
<rect x="383.50" y="780.50" width="74.00" height="117.50" fill="#ddf7d5" />
<rect x="458.00" y="727.50" width="183.50" height="53.00" fill="#a0e2ca" />
<path d="M457.3,727 V716.2 H641.5 V726" fill="none" stroke="#93dcc9" stroke-width="1.4" stroke-dasharray="4,2.5"/>
<line x1="383.00" y1="780.50" x2="632.00" y2="780.50" stroke="#111" stroke-width="1.2" stroke-dasharray="1.2,2.6"/>
<line x1="457.50" y1="730.00" x2="457.50" y2="897.00" stroke="#111" stroke-width="1.2" stroke-dasharray="1.2,2.6"/>
<line x1="382.50" y1="735.00" x2="382.50" y2="899.00" stroke="#000" stroke-width="2.2" />
<line x1="381.50" y1="898.00" x2="636.50" y2="898.00" stroke="#000" stroke-width="2.2" />
<line x1="376.00" y1="736.00" x2="382.50" y2="736.00" stroke="#000" stroke-width="2" />
<text x="374.50" y="740.30" font-size="12" font-weight="bold" text-anchor="end" fill="#111" >100</text>
<line x1="376.00" y1="776.62" x2="382.50" y2="776.62" stroke="#000" stroke-width="2" />
<text x="374.50" y="780.92" font-size="12" font-weight="bold" text-anchor="end" fill="#111" >50</text>
<line x1="376.00" y1="817.25" x2="382.50" y2="817.25" stroke="#000" stroke-width="2" />
<text x="374.50" y="821.55" font-size="12" font-weight="bold" text-anchor="end" fill="#111" >0</text>
<line x1="376.00" y1="857.88" x2="382.50" y2="857.88" stroke="#000" stroke-width="2" />
<text x="374.50" y="862.17" font-size="12" font-weight="bold" text-anchor="end" fill="#111" >-50</text>
<line x1="376.00" y1="898.50" x2="382.50" y2="898.50" stroke="#000" stroke-width="2" />
<text x="374.50" y="902.80" font-size="12" font-weight="bold" text-anchor="end" fill="#111" >-100</text>
<line x1="383.00" y1="898.00" x2="383.00" y2="903.80" stroke="#000" stroke-width="2" />
<text x="383.00" y="918.50" font-size="12.5" font-weight="bold" text-anchor="middle" fill="#111" >4</text>
<line x1="446.10" y1="898.00" x2="446.10" y2="903.80" stroke="#000" stroke-width="2" />
<text x="446.10" y="918.50" font-size="12.5" font-weight="bold" text-anchor="middle" fill="#111" >5</text>
<line x1="509.20" y1="898.00" x2="509.20" y2="903.80" stroke="#000" stroke-width="2" />
<text x="509.20" y="918.50" font-size="12.5" font-weight="bold" text-anchor="middle" fill="#111" >6</text>
<line x1="572.30" y1="898.00" x2="572.30" y2="903.80" stroke="#000" stroke-width="2" />
<text x="572.30" y="918.50" font-size="12.5" font-weight="bold" text-anchor="middle" fill="#111" >7</text>
<line x1="635.40" y1="898.00" x2="635.40" y2="903.80" stroke="#000" stroke-width="2" />
<text x="635.40" y="918.50" font-size="12.5" font-weight="bold" text-anchor="middle" fill="#111" >8</text>
<text x="509.10" y="943.00" font-size="13.5" font-weight="bold" text-anchor="middle" fill="#111" >PRKG1 mRNA levels</text>
<text transform="translate(341.60,818.30) rotate(-90)" font-size="13" font-weight="bold" text-anchor="middle" fill="#111" >% tumor regression</text>
<text x="549.00" y="710.00" font-size="13.4" text-anchor="middle" fill="#222" >UpperCP_PRKG1</text>
<text x="536.00" y="843.00" font-size="13.6" text-anchor="start" fill="#222" >R=0,8828</text>
<text x="536.00" y="871.30" font-size="13.6" text-anchor="start" fill="#222" >P value= 0,0007</text>
<text transform="translate(296.40,748.20) rotate(-90)" font-size="13.2" font-weight="bold" text-anchor="middle" fill="#3d929f" >Ipatasertib</text>
<text transform="translate(312.80,748.20) rotate(-90)" font-size="13.0" font-weight="bold" text-anchor="middle" fill="#3d929f" >sensitive-RMS</text>
<path d="M324.5,733.3 H316 V775.5 H324.5" fill="none" stroke="#52a8b3" stroke-width="1.2" stroke-dasharray="3,2.6"/>
<circle cx="458.75" cy="750.5" r="3.3" fill="#2c5d6b"/>
<circle cx="458.75" cy="778" r="3.3" fill="#2c5d6b"/>
<circle cx="523.25" cy="778.5" r="3.3" fill="#2c5d6b"/>
<circle cx="549.75" cy="737.5" r="3.3" fill="#2c5d6b"/>
<circle cx="588.5" cy="737.5" r="3.3" fill="#2c5d6b"/>
<circle cx="441.75" cy="808" r="3.3" fill="#2c5d6b"/>
<circle cx="449.25" cy="808" r="3.3" fill="#2c5d6b"/>
<circle cx="440.5" cy="824.25" r="3.3" fill="#2c5d6b"/>
<circle cx="457.5" cy="824.25" r="3.3" fill="#2c5d6b"/>
<circle cx="429.25" cy="850.75" r="3.3" fill="#2c5d6b"/>
<circle cx="444.25" cy="850.75" r="3.3" fill="#2c5d6b"/>
<text x="466.30" y="754.50" font-size="11.5" font-weight="bold" text-anchor="start" fill="#111" >ARMS10_X</text>
<text x="466.30" y="782.00" font-size="11.5" font-weight="bold" text-anchor="start" fill="#111" >ARMS6_X</text>
<text x="529.50" y="782.50" font-size="11.5" font-weight="bold" text-anchor="start" fill="#111" >ARMS6_T</text>
<text x="554.00" y="741.50" font-size="11.5" font-weight="bold" text-anchor="start" fill="#111" >ERMS11_T</text>
<text x="595.30" y="741.50" font-size="11.5" font-weight="bold" text-anchor="start" fill="#111" >ERMS11_X</text>
<text x="446.50" y="812.00" font-size="11.5" font-weight="bold" text-anchor="end" fill="#111" >ARMS1_X</text>
<text x="455.50" y="812.00" font-size="11.5" font-weight="bold" text-anchor="start" fill="#111" >ARMS1_T</text>
<text x="445.70" y="828.25" font-size="11.5" font-weight="bold" text-anchor="end" fill="#111" >ARMS7_X</text>
<text x="464.50" y="828.25" font-size="11.5" font-weight="bold" text-anchor="start" fill="#111" >ARMS7_T</text>
<text x="437.60" y="854.75" font-size="11.5" font-weight="bold" text-anchor="end" fill="#111" >ERMS24_T</text>
<text x="451.30" y="854.75" font-size="11.5" font-weight="bold" text-anchor="start" fill="#111" >ERMS24_X</text>
</svg>
</body></html>
